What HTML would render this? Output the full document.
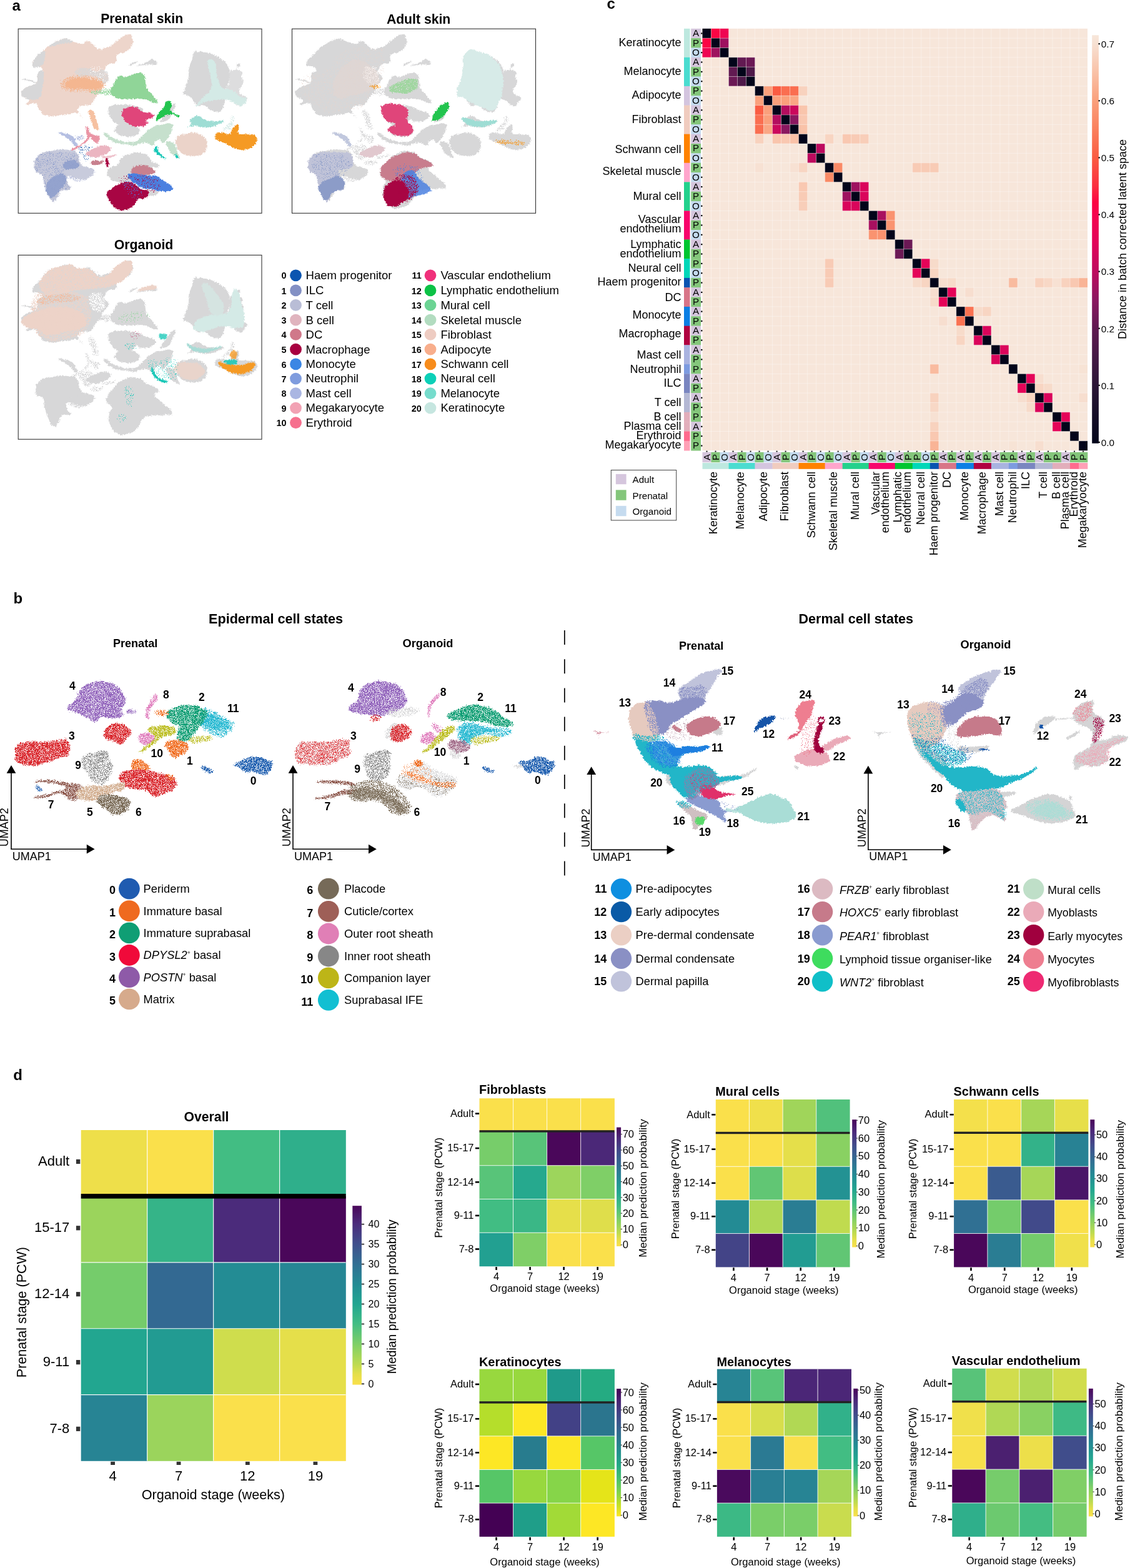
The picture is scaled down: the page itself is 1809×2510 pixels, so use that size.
<!DOCTYPE html>
<html lang="en"><head><meta charset="utf-8"><title>Figure</title>
<style>html,body{margin:0;padding:0;background:#fff}body{width:1809px;height:2510px;overflow:hidden}svg{display:block}text{font-family:"Liberation Sans",Arial,Helvetica,sans-serif;fill:#000}</style>
</head><body>
<svg width="1809" height="2510" viewBox="0 0 1809 2510">
<rect width="1809" height="2510" fill="#fff"/>
<g id="pa">
<defs><filter id="rg" x="-5%" y="-5%" width="110%" height="110%" color-interpolation-filters="sRGB"><feTurbulence type="fractalNoise" baseFrequency="0.45" numOctaves="2" seed="3" result="n"/><feDisplacementMap in="SourceGraphic" in2="n" scale="5" xChannelSelector="R" yChannelSelector="G"/></filter></defs>
<g filter="url(#rg)">
<path d="M34.63 150.46C34.63 146.18 31.21 147.89 37.84 142.75C44.48 137.61 47.26 139.33 54.54 135.05C61.82 130.76 57.75 135.47 59.68 129.91C61.61 124.34 57.75 123.91 60.32 118.35C62.89 112.78 66.31 117.06 67.39 113.21C68.46 109.36 68.67 110.64 63.53 106.79C58.39 102.94 50.26 109.79 51.97 101.65C53.69 93.52 59.25 92.23 68.67 82.39C78.09 72.54 69.53 78.75 80.23 72.11C90.93 65.47 90.93 65.26 100.78 62.48C110.63 59.69 103.35 62.05 109.77 63.76C116.19 65.47 112.77 65.47 120.05 67.61C127.32 69.76 124.76 70.83 131.61 70.18C138.46 69.54 135.03 65.47 140.6 65.69C146.16 65.9 142.31 66.54 148.3 70.83C154.3 75.11 151.73 76.61 158.58 78.53C165.43 80.46 162 78.75 168.85 76.61C175.7 74.46 171.85 76.61 179.13 72.11C186.41 67.61 182.13 68.77 190.69 63.12C199.25 57.47 197.97 56.01 204.82 55.16C211.67 54.3 209.1 54.9 211.24 60.55C213.38 66.2 214.24 64.83 211.24 72.11C208.24 79.39 209.95 77.25 202.25 82.39C194.54 87.52 193.69 81.96 188.12 87.52C182.55 93.09 190.69 93.94 185.55 99.08C180.41 104.22 178.27 99.51 172.71 102.94C167.14 106.36 170.57 104.65 168.85 109.36C167.14 114.07 165.86 112.35 167.57 117.06C169.28 121.77 173.56 118.35 173.99 123.49C174.42 128.62 172.28 127.34 168.85 132.48C165.43 137.61 166.28 134.19 163.72 138.9C161.15 143.61 164.57 141.04 161.15 146.61C157.72 152.17 158.58 148.75 153.44 155.6C148.3 162.45 151.3 162.87 145.73 167.16C140.17 171.44 142.74 167.16 136.74 168.44C130.75 169.72 131.61 167.58 127.75 171.01C123.9 174.43 123.47 172.72 125.18 178.72C126.9 184.71 133.75 188.13 132.89 188.99C132.03 189.85 132.89 183 122.61 181.28C112.34 179.57 117.48 182.57 102.06 183.85C86.65 185.14 89.22 187.71 76.38 185.14C63.53 182.57 69.95 182.57 63.53 176.15C57.11 169.72 64.39 168.65 57.11 165.87C49.83 163.09 45.12 169.51 41.7 167.8C38.27 166.09 48.12 164.8 46.83 160.73C45.55 156.67 41.91 159.02 37.84 155.6C33.78 152.17 34.63 154.74 34.63 150.46Z" fill="#edd5cb"/>
<path d="M80.23 72.11C85.37 68.26 90.93 65.26 100.78 62.48C110.63 59.69 105.06 62.05 109.77 63.76C114.48 65.47 119.19 65.47 114.91 67.61C110.63 69.76 106.77 68.04 96.93 70.18C87.08 72.32 90.93 73.39 85.37 74.04C79.8 74.68 75.09 75.96 80.23 72.11Z" fill="#d7d7d8"/>
<path d="M51.97 101.65C53.69 93.52 62.25 84.95 68.67 82.39C75.09 79.82 72.95 85.81 71.24 93.94C69.53 102.08 69.95 104.22 63.53 106.79C57.11 109.36 50.26 109.79 51.97 101.65Z" fill="#d7d7d8"/>
<path d="M34.63 150.46C34.63 146.18 31.21 147.89 37.84 142.75C44.48 137.61 47.26 139.33 54.54 135.05C61.82 130.76 57.75 135.47 59.68 129.91C61.61 124.34 57.75 123.91 60.32 118.35C62.89 112.78 64.17 111.5 67.39 113.21C70.6 114.92 69.95 113.64 69.95 123.49C69.95 133.33 69.53 132.05 67.39 142.75C65.24 153.46 69.1 150.03 63.53 155.6C57.97 161.16 59.25 159.45 50.69 159.45C42.13 159.45 43.2 158.59 37.84 155.6C32.49 152.6 34.63 154.74 34.63 150.46Z" fill="#d7d7d8"/>
<path d="M122.61 111.93C128.18 108.07 130.32 108.5 140.6 109.36C150.87 110.21 144.88 113.64 153.44 114.5C162 115.35 159.43 108.93 166.28 111.93C173.13 114.92 173.13 116.64 173.99 123.49C174.85 130.34 173.13 130.34 168.85 132.48C164.57 134.62 167.14 133.33 161.15 129.91C155.15 126.48 159.86 124.77 150.87 122.2C141.88 119.63 143.17 122.63 134.17 122.2C125.18 121.77 127.75 124.34 123.9 120.92C120.05 117.49 117.05 115.78 122.61 111.93Z" fill="#d7d7d8" opacity="0.75"/>
</g>
<g filter="url(#sl)">
<path d="M122.61 111.93C128.18 108.07 130.32 108.5 140.6 109.36C150.87 110.21 144.88 113.64 153.44 114.5C162 115.35 159.43 108.93 166.28 111.93C173.13 114.92 173.13 116.64 173.99 123.49C174.85 130.34 173.13 130.34 168.85 132.48C164.57 134.62 167.14 133.33 161.15 129.91C155.15 126.48 159.86 124.77 150.87 122.2C141.88 119.63 143.17 122.63 134.17 122.2C125.18 121.77 127.75 124.34 123.9 120.92C120.05 117.49 117.05 115.78 122.61 111.93Z" fill="#edd5cb"/>
<path d="M144.45 109.36C148.73 105.93 148.73 105.93 156.01 106.79C163.29 107.65 162.22 106.36 166.28 111.93C170.35 117.49 168.85 116.21 168.21 123.49C167.57 130.76 169.28 129.69 164.36 133.76C159.43 137.83 159.65 137.4 153.44 135.69C147.23 133.98 149.16 134.83 145.73 128.62C142.31 122.42 143.59 123.49 143.17 117.06C142.74 110.64 140.17 112.78 144.45 109.36Z" fill="#fff"/>
</g>
<g filter="url(#rg)">
<path d="M104.63 135.05C105.49 130.34 106.35 130.76 114.91 127.34C123.47 123.91 119.62 124.77 130.32 124.77C141.02 124.77 137.17 125.2 147.02 127.34C156.87 129.48 154.3 128.2 159.86 131.19C165.43 134.19 163.72 132.91 163.72 136.33C163.72 139.76 165.43 139.33 159.86 141.47C154.3 143.61 157.72 142.75 147.02 142.75C136.31 142.75 139.31 141.9 127.75 141.47C116.19 141.04 120.05 143.61 112.34 141.47C104.63 139.33 103.78 139.76 104.63 135.05Z" fill="#f4b690"/>
</g>
<g filter="url(#sb)">
<path d="M96.93 137.61C96.93 130.76 96.93 130.34 107.2 124.77C117.48 119.2 113.2 121.35 127.75 120.92C142.31 120.49 138.46 120.49 150.87 123.49C163.29 126.48 159.86 124.34 165 129.91C170.14 135.47 170.14 134.62 166.28 140.18C162.43 145.75 166.28 144.46 153.44 146.61C140.6 148.75 143.17 147.03 127.75 146.61C112.34 146.18 117.48 148.32 107.2 145.32C96.93 142.32 96.93 144.46 96.93 137.61Z" fill="#f4b690"/>
</g>
<g filter="url(#rg)">
<path d="M141.88 178.72C143.17 175.29 144.45 174.01 148.3 177.43C152.16 180.86 150.87 182.14 153.44 188.99C156.01 195.84 154.51 192.42 156.01 197.98C157.51 203.55 158.79 202.69 157.94 205.69C157.08 208.69 156.65 208.69 153.44 206.97C150.23 205.26 151.3 206.97 148.3 200.55C145.31 194.13 146.59 194.98 144.45 187.71C142.31 180.43 140.6 182.14 141.88 178.72Z" fill="#f4b690" opacity="0.85"/>
<path d="M218.86 105.5C220.14 104.01 225.71 103.15 234.27 99.72C242.83 96.3 239.19 94.24 244.54 95.23C249.89 96.21 251.61 99.9 250.32 102.68C249.04 105.46 247.33 103.06 240.69 103.58C234.05 104.09 237.69 103.58 230.41 104.22C223.14 104.86 217.57 107 218.86 105.5Z" fill="#d7d7d8"/>
<path d="M207.39 103.58C209.95 101.65 213.81 99.72 217.66 98.44C221.51 97.16 221.51 97.8 218.94 99.72C216.38 101.65 213.81 102.94 209.95 104.22C206.1 105.5 204.82 105.5 207.39 103.58Z" fill="#d7d7d8"/>
<path d="M35.92 126.7C38.91 126.48 38.49 125.76 45.55 127.34C52.61 128.92 53.47 129.74 57.11 131.45C60.75 133.16 60.32 133.2 56.47 132.48C52.61 131.75 52.19 130.76 45.55 129.27C38.91 127.77 39.77 128.84 36.56 127.98C33.35 127.13 32.92 126.91 35.92 126.7Z" fill="#d7d7d8"/>
</g>
<g filter="url(#sb)">
<path d="M145.73 147.89C145.73 145.75 149.59 146.18 159.86 144.04C170.14 141.9 170.99 139.33 176.56 141.47C182.13 143.61 182.13 147.46 176.56 150.46C170.99 153.46 170.14 151.31 159.86 150.46C149.59 149.6 145.73 150.03 145.73 147.89Z" fill="#90d598"/>
</g>
<g filter="url(#rg)">
<path d="M176.56 146.61C176.13 141.04 177.42 143.61 180.41 137.61C183.41 131.62 181.7 134.1 185.55 128.62C189.4 123.14 186.83 122.97 191.97 121.17C197.11 119.38 194.97 123.66 200.96 123.23C206.96 122.8 203.53 121.94 209.95 119.89C216.38 117.83 214.24 117.66 220.23 117.06C226.22 116.46 224.08 115.95 227.94 118.09C231.79 120.23 230.08 118.69 231.79 123.49C233.5 128.28 231.79 126.06 233.07 132.48C234.36 138.9 232.22 136.33 235.64 142.75C239.07 149.17 237.83 145.32 243.35 151.74C248.87 158.17 250.71 157.52 252.21 162.02C253.71 166.51 253.37 165.87 247.84 165.23C242.32 164.59 243.99 162.45 235.64 160.09C227.29 157.74 233.07 158.59 222.8 158.17C212.52 157.74 215.09 158.81 204.82 158.81C194.54 158.81 199.68 159.66 191.97 158.17C184.27 156.67 186.83 158.17 181.7 154.31C176.56 150.46 176.99 152.17 176.56 146.61Z" fill="#90d598"/>
<path d="M173.39 176.15C173.39 169.27 172.48 172.2 178.9 169.27C185.32 166.33 182.57 167.61 192.66 167.34C202.75 167.06 199.08 166.88 209.17 168.44C219.27 170 216.51 168.53 222.94 172.02C229.36 175.5 230.28 172.02 228.44 178.9C226.61 185.78 225.69 185.32 217.43 192.66C209.17 200 212.84 198.62 203.67 200.92C194.5 203.21 198.17 203.21 189.91 199.54C181.65 195.87 184.4 197.71 178.9 189.91C173.39 182.11 173.39 183.03 173.39 176.15Z" fill="#d7d7d8"/>
<path d="M184.4 206.42C186.24 201.83 184.4 202.11 192.66 199.54C200.92 196.97 200 197.34 209.17 198.72C218.35 200.09 215.6 199.72 220.18 203.67C224.77 207.61 224.77 205.96 222.94 210.55C221.1 215.14 222.94 214.95 214.68 217.43C206.42 219.91 207.34 219.36 198.17 217.98C188.99 216.61 191.74 217.16 187.16 213.3C182.57 209.45 182.57 211.01 184.4 206.42Z" fill="#d7d7d8"/>
<path d="M195.96 178.9C197.8 173.21 196.51 175.14 203.67 172.84C210.83 170.55 209.17 170 217.43 172.02C225.69 174.04 220.18 175.69 228.44 178.9C236.7 182.11 236.7 178.9 242.2 181.65C247.71 184.4 247.71 183.49 244.95 187.16C242.2 190.83 236.7 188.99 233.94 192.66C231.19 196.33 241.28 194.95 236.7 198.17C232.11 201.38 230.28 202.29 220.18 202.29C210.09 202.29 213.76 202.29 206.42 198.17C199.08 194.04 201.65 196.33 198.17 189.91C194.68 183.49 194.13 184.59 195.96 178.9Z" fill="#e0457a"/>
<path d="M257.39 192.84C259.53 186.85 262.52 184.71 268.95 176.15C275.37 167.58 272.59 169.72 276.65 167.16C280.72 164.59 281.15 164.59 281.15 168.44C281.15 172.29 279.86 171.87 276.65 178.72C273.44 185.57 276.23 183.85 271.52 188.99C266.81 194.13 267.23 192.84 262.52 194.13C257.82 195.41 255.25 198.84 257.39 192.84Z" fill="#d7d7d8"/>
<path d="M249.68 193.49C249.68 190.06 249.68 187.92 253.53 181.28C257.39 174.65 256.74 180 261.24 173.58C265.74 167.16 262.52 164.16 267.02 162.02C271.52 159.88 272.8 162.45 274.73 167.16C276.65 171.87 271.3 171.44 272.8 176.15C274.3 180.86 274.73 178.29 279.22 181.28C283.72 184.28 284.36 183 286.29 185.14C288.21 187.28 288.21 188.35 285 187.71C281.79 187.06 282 184.5 276.65 183.21C271.3 181.93 274.51 182.35 268.95 183.85C263.38 185.35 265.09 185.14 259.96 187.71C254.82 190.28 256.96 189.63 253.53 191.56C250.11 193.49 249.68 196.91 249.68 193.49Z" fill="#22c44e"/>
<path d="M165.64 213.78C165.64 211.64 165.64 211.21 170.14 213.14C174.63 215.06 171.85 215.71 179.13 219.56C186.41 223.41 183.41 222.13 191.97 224.7C200.54 227.27 196.25 226.75 204.82 227.27C213.38 227.78 209.95 229.58 217.66 226.24C225.37 222.9 220.23 224.1 227.94 217.25C235.64 210.4 230.93 211.47 240.78 205.69C250.63 199.91 246.35 202.35 257.48 199.91C268.61 197.47 268.18 196.44 274.17 198.37C280.17 200.29 276.31 199.82 275.46 205.69C274.6 211.55 274.6 209.97 271.61 215.96C268.61 221.96 270.32 219.39 266.47 223.67C262.61 227.95 263.47 228.81 260.05 228.81C256.62 228.81 260.05 224.53 256.19 223.67C252.34 222.81 252.34 223.24 248.49 226.24C244.63 229.24 249.34 231.8 244.63 232.66C239.92 233.52 241.64 229.66 234.36 228.81C227.08 227.95 229.22 228.68 222.8 230.09C216.38 231.5 221.09 232.62 215.09 233.05C209.1 233.47 212.52 232.45 204.82 231.38C197.11 230.31 200.54 231.63 191.97 229.83C183.41 228.04 186.41 229.41 179.13 225.98C171.85 222.56 174.63 223.63 170.14 219.56C165.64 215.49 165.64 215.92 165.64 213.78Z" fill="#c6e0cd"/>
<path d="M266.34 228.55C268.05 224.7 270.19 225.13 275.33 227.27C280.47 229.41 278.76 229.41 281.75 234.97C284.75 240.54 282.61 237.97 284.32 243.96C286.03 249.96 287.75 250.81 286.89 252.95C286.03 255.09 285.61 252.53 281.75 250.39C277.9 248.24 279.18 250.39 275.33 246.53C271.48 242.68 273.19 244.82 270.19 238.83C267.2 232.83 264.63 232.4 266.34 228.55Z" fill="#c6e0cd"/>
<path d="M246.47 239.46C246.9 236.03 248.61 233.68 250.97 234.32C253.32 234.96 250.97 236.89 253.53 241.38C256.1 245.88 254.82 243.95 258.67 247.8C262.52 251.66 263.38 250.8 265.09 252.94C266.81 255.08 266.81 255.3 263.81 254.23C260.81 253.16 260.81 252.94 256.1 249.73C251.39 246.52 252.89 248.02 249.68 244.59C246.47 241.17 246.04 242.88 246.47 239.46Z" fill="#1cc8b8"/>
<path d="M279.86 248.45C280.51 246.95 281.36 245.45 283.08 246.52C284.79 247.59 283.29 249.09 285 251.66C286.71 254.23 288.43 253.58 288.21 254.23C288 254.87 286.71 254.65 284.36 253.58C282 252.51 282.65 252.73 281.15 251.01C279.65 249.3 279.22 249.94 279.86 248.45Z" fill="#1cc8b8"/>
<path d="M281.79 223.4C283.29 218.26 281.79 219.97 286.93 216.98C292.07 213.98 289.5 215.91 297.2 214.41C304.91 212.91 302.34 212.05 310.05 212.48C317.75 212.91 314.33 212.91 320.32 215.69C326.32 218.48 324.39 216.55 328.03 220.83C331.67 225.11 330.6 222.54 331.24 228.54C331.88 234.53 331.88 233.25 329.96 238.81C328.03 244.38 329.53 241.81 325.46 245.23C321.39 248.66 324.6 247.59 317.75 249.09C310.9 250.59 312.62 250.37 304.91 249.73C297.2 249.09 300.63 249.94 294.63 247.16C288.64 244.38 291 246.31 286.93 241.38C282.86 236.46 284.15 238.38 282.43 232.39C280.72 226.4 280.29 228.54 281.79 223.4Z" fill="#ebd3c9"/>
<path d="M367.85 115.78C370.41 109.14 369.56 113.85 374.27 112.57C378.98 111.28 377.48 110.43 381.97 111.93C386.47 113.43 386.04 113.21 387.75 117.06C389.47 120.92 386.47 119.2 387.11 123.49C387.75 127.77 389.68 125.2 389.68 129.91C389.68 134.62 389.25 132.91 387.11 137.61C384.97 142.32 383.69 139.76 383.26 144.04C382.83 148.32 381.55 146.18 385.83 150.46C390.11 154.74 393.96 153.03 396.1 156.88C398.24 160.73 394.82 158.17 392.25 162.02C389.68 165.87 392.25 166.3 388.4 168.44C384.54 170.58 385.4 170.15 380.69 168.44C375.98 166.73 378.55 166.3 374.27 163.3C369.99 160.31 371.7 162.02 367.85 159.45C363.99 156.88 364.85 161.16 362.71 155.6C360.57 150.03 360.14 150.46 361.42 142.75C362.71 135.05 364.42 141.47 366.56 132.48C368.7 123.49 365.28 122.42 367.85 115.78Z" fill="#d7d7d8" opacity="0.85"/>
<path d="M310.05 84.31C313.47 80.12 310.9 82.64 317.75 82.64C324.6 82.64 322.04 82.34 330.6 84.31C339.16 86.28 335.74 85.34 343.44 88.55C351.15 91.76 347.3 89.36 353.72 93.94C360.14 98.53 358.34 96.3 362.71 102.29C367.08 108.29 365.19 104.86 366.82 111.93C368.45 118.99 368.1 116.21 367.59 123.49C367.08 130.76 367.33 127.77 365.28 133.76C363.22 139.76 363.56 136.33 361.42 141.47C359.28 146.61 359.28 143.61 358.86 149.17C358.43 154.74 360.35 151.74 360.14 158.17C359.93 164.59 359.93 162.45 358.21 168.44C356.5 174.43 358.21 172.51 355 176.15C351.79 179.79 353.29 178.93 348.58 179.36C343.87 179.79 346.01 179.57 340.87 177.43C335.74 175.29 338.3 175.93 333.17 172.94C328.03 169.94 330.6 169.51 325.46 168.44C320.32 167.37 321.61 170.15 317.75 169.72C313.9 169.3 316.47 169.72 313.9 167.16C311.33 164.59 313.04 165.87 310.05 162.02C307.05 158.17 309.19 159.02 304.91 155.6C300.63 152.17 301.06 153.88 297.2 151.74C293.35 149.6 293.35 153.46 293.35 149.17C293.35 144.89 294.63 146.18 297.2 138.9C299.77 131.62 299.34 134.62 301.06 127.34C302.77 120.06 301.49 124.34 302.34 117.06C303.2 109.79 301.91 112.78 303.63 105.5C305.34 98.23 305.34 102.29 307.48 95.23C309.62 88.17 306.62 88.51 310.05 84.31Z" fill="#d7d7d8"/>
<path d="M379.41 102.94C380.6 101.57 381.63 101.18 383.26 102.04C384.89 102.89 384.93 103.49 384.29 105.5C383.64 107.52 382.87 107.86 381.33 108.07C379.79 108.29 380.3 107.86 379.66 106.15C379.02 104.43 378.21 104.31 379.41 102.94Z" fill="#d7d7d8"/>
<path d="M334.45 95.23C338.3 93.94 340.87 94.8 344.73 100.37C348.58 105.93 344.3 102.08 346.01 111.93C347.72 121.77 346.44 120.49 349.86 129.91C353.29 139.33 350.72 135.9 356.29 140.18C361.85 144.46 359.71 140.18 366.56 142.75C373.41 145.32 370.41 143.61 376.84 147.89C383.26 152.17 379.83 152.17 385.83 155.6C391.82 159.02 393.96 153.88 394.82 158.17C395.67 162.45 393.53 165.44 388.4 168.44C383.26 171.44 385.83 169.3 379.41 167.16C372.98 165.02 375.55 164.59 369.13 162.02C362.71 159.45 368.7 159.88 360.14 159.45C351.58 159.02 354.15 159.45 343.44 160.73C332.74 162.02 337.02 160.31 328.03 163.3C319.04 166.3 320.75 168.44 316.47 169.72C312.19 171.01 312.19 171.87 315.19 167.16C318.18 162.45 318.18 163.73 325.46 155.6C332.74 147.46 332.74 151.31 337.02 142.75C341.3 134.19 338.73 138.47 338.3 129.91C337.88 121.35 337.45 125.63 335.74 117.06C334.02 108.5 333.6 111.5 333.17 104.22C332.74 96.94 330.6 96.51 334.45 95.23Z" fill="#d4eae6"/>
</g>
<g filter="url(#sb)">
<path d="M356.29 206.7C357.14 203.28 361.85 204.13 366.56 197.71C371.27 191.29 367.85 190.86 370.41 187.44C372.98 184.01 373.41 183.58 374.27 187.44C375.12 191.29 376.41 192.15 372.98 199C369.56 205.85 369.56 205.42 363.99 207.99C358.43 210.56 355.43 210.13 356.29 206.7Z" fill="#d4eae6"/>
</g>
<g filter="url(#rg)">
<path d="M300.41 203.23C301.06 201.74 305.77 201.05 306.84 197.71C307.91 194.37 302.56 196.43 303.63 193.22C304.7 190.01 305.34 190.65 310.05 188.08C314.76 185.51 312.62 184.87 317.75 185.51C322.89 186.15 319.47 187.22 325.46 190.01C331.45 192.79 328.03 192.49 335.74 193.86C343.44 195.23 340.96 194.24 348.58 194.12C356.2 193.99 358.17 191.85 358.6 193.47C359.03 195.1 356.63 195.87 349.86 199C343.1 202.12 346.44 201.35 338.3 202.85C330.17 204.35 334.02 204.01 325.46 203.49C316.9 202.98 319.47 201.74 312.62 201.31C305.77 200.88 308.98 201.57 304.91 202.21C300.84 202.85 299.77 204.73 300.41 203.23Z" fill="#9eddd4"/>
<path d="M344.73 219.55C344.3 215.69 343.44 215.48 347.3 213.12C351.15 210.77 349.86 212.05 356.29 212.48C362.71 212.91 361 216.76 366.56 214.41C372.13 212.05 368.49 210.56 372.98 205.42C377.48 200.28 376.84 199.42 380.05 199C383.26 198.57 381.97 199.42 382.62 204.13C383.26 208.84 377.91 209.49 381.97 213.12C386.04 216.76 386.68 213.98 394.82 215.05C402.95 216.12 401.03 213.98 406.38 216.34C411.73 218.69 409.59 218.05 410.87 222.12C412.16 226.18 412.59 224.26 410.23 228.54C407.88 232.82 409.8 231.32 403.81 234.96C397.82 238.6 399.96 238.17 392.25 239.46C384.54 240.74 388.4 240.53 380.69 238.81C372.98 237.1 376.41 237.74 369.13 234.32C361.85 230.89 365.71 231.75 358.86 228.54C352 225.33 353.29 227.68 348.58 224.68C343.87 221.69 345.15 223.4 344.73 219.55Z" fill="#f59a24"/>
</g>
<g filter="url(#sb)">
<path d="M107.2 273.49C110.2 269.21 110.63 271.78 117.48 269.64C124.33 267.5 120.05 267.5 127.75 267.07C135.46 266.64 133.1 266.64 140.6 268.35C148.09 270.07 148.09 268.35 150.23 272.21C152.37 276.06 151.09 275.2 147.02 279.91C142.95 284.62 145.31 282.91 138.03 286.34C130.75 289.76 132.89 289.76 125.18 290.19C117.48 290.62 120.47 290.19 114.91 287.62C109.34 285.05 111.06 287.19 108.49 282.48C105.92 277.77 104.2 277.77 107.2 273.49Z" fill="#b8bedb"/>
</g>
<g filter="url(#rg)">
<path d="M57.8 262.02C59.17 254.68 55.05 255.14 63.3 248.26C71.56 241.38 66.97 244.13 82.57 241.38C98.17 238.63 96.33 238.63 110.09 240C123.85 241.38 117.43 238.17 123.85 245.51C130.28 252.85 122.94 254.22 129.36 262.02C135.78 269.82 136.24 265.23 143.12 268.9C150 272.57 150 267.98 150 273.03C150 278.08 150.92 279.45 143.12 284.04C135.32 288.63 137.61 287.71 126.61 286.79C115.6 285.87 116.51 279.45 110.09 281.29C103.67 283.12 106.42 285.87 107.34 292.3C108.26 298.72 115.6 296.88 112.84 300.55C110.09 304.22 105.5 298.72 99.08 303.3C92.66 307.89 98.17 308.81 93.58 314.31C88.99 319.82 90.83 322.57 85.32 319.82C79.82 317.07 81.65 316.15 77.06 306.06C72.48 295.97 74.31 299.63 71.56 289.54C68.81 279.45 72.94 282.2 68.81 275.78C64.68 269.36 62.84 274.86 59.17 270.28C55.5 265.69 56.42 269.36 57.8 262.02Z" fill="#c8cbdc"/>
<path d="M55.18 260.65C55.61 253.8 53.47 258.08 58.39 252.94C63.32 247.8 59.68 248.45 69.95 245.23C80.23 242.02 76.38 243.74 89.22 243.31C102.06 242.88 97.35 242.88 108.49 243.95C119.62 245.02 116.62 242.24 122.61 246.52C128.61 250.8 125.61 249.94 126.47 256.79C127.32 263.64 129.04 262.36 125.18 267.07C121.33 271.78 121.76 269.21 114.91 270.92C108.06 272.64 107.63 268.35 104.63 272.21C101.64 276.06 104.63 275.63 105.92 282.48C107.2 289.33 106.35 286.34 108.49 292.76C110.63 299.18 112.77 297.9 112.34 301.75C111.91 305.6 112.34 303.03 107.2 304.32C102.06 305.6 102.06 303.03 96.93 305.6C91.79 308.17 95.21 306.46 91.79 312.02C88.36 317.59 89.65 319.3 86.65 322.3C83.65 325.3 86.22 324.44 82.8 321.01C79.37 317.59 79.8 318.45 76.38 312.02C72.95 305.6 74.66 309.03 72.52 301.75C70.38 294.47 71.67 297.47 69.95 290.19C68.24 282.91 71.67 285.48 67.39 279.91C63.1 274.35 61.18 279.91 57.11 273.49C53.04 267.07 54.76 267.5 55.18 260.65Z" fill="#c3c6d9"/>
<path d="M102.06 261.93C105.06 257.65 105.06 257.65 112.34 256.79C119.62 255.94 119.62 255.94 123.9 259.36C128.18 262.79 128.18 263.43 125.18 267.07C122.19 270.71 122.19 269.42 114.91 270.28C107.63 271.14 107.63 272.42 103.35 269.64C99.07 266.86 99.07 266.21 102.06 261.93Z" fill="#8f9ecc" opacity="0.9"/>
<path d="M73.81 300.46C74.66 293.19 72.95 295.75 78.94 288.9C84.94 282.05 84.08 282.91 91.79 279.91C99.5 276.92 97.35 276.49 102.06 279.91C106.77 283.34 107.63 282.48 105.92 290.19C104.2 297.9 102.49 295.75 96.93 303.03C91.36 310.31 93.93 307.74 89.22 312.02C84.51 316.31 87.08 316.31 82.8 315.88C78.52 315.45 79.37 315.88 76.38 310.74C73.38 305.6 72.95 307.74 73.81 300.46Z" fill="#8f9ecc" opacity="0.9"/>
</g>
<g filter="url(#sl)">
<path d="M73.81 300.46C74.66 293.19 72.95 295.75 78.94 288.9C84.94 282.05 84.08 282.91 91.79 279.91C99.5 276.92 97.35 276.49 102.06 279.91C106.77 283.34 107.63 282.48 105.92 290.19C104.2 297.9 102.49 295.75 96.93 303.03C91.36 310.31 93.93 307.74 89.22 312.02C84.51 316.31 87.08 316.31 82.8 315.88C78.52 315.45 79.37 315.88 76.38 310.74C73.38 305.6 72.95 307.74 73.81 300.46Z" fill="#c3c6d9"/>
<path d="M55.18 260.65C55.61 253.8 53.47 258.08 58.39 252.94C63.32 247.8 59.68 248.45 69.95 245.23C80.23 242.02 76.38 243.74 89.22 243.31C102.06 242.88 97.35 242.88 108.49 243.95C119.62 245.02 116.62 242.24 122.61 246.52C128.61 250.8 125.61 249.94 126.47 256.79C127.32 263.64 129.04 262.36 125.18 267.07C121.33 271.78 121.76 269.21 114.91 270.92C108.06 272.64 107.63 268.35 104.63 272.21C101.64 276.06 104.63 275.63 105.92 282.48C107.2 289.33 106.35 286.34 108.49 292.76C110.63 299.18 112.77 297.9 112.34 301.75C111.91 305.6 112.34 303.03 107.2 304.32C102.06 305.6 102.06 303.03 96.93 305.6C91.79 308.17 95.21 306.46 91.79 312.02C88.36 317.59 89.65 319.3 86.65 322.3C83.65 325.3 86.22 324.44 82.8 321.01C79.37 317.59 79.8 318.45 76.38 312.02C72.95 305.6 74.66 309.03 72.52 301.75C70.38 294.47 71.67 297.47 69.95 290.19C68.24 282.91 71.67 285.48 67.39 279.91C63.1 274.35 61.18 279.91 57.11 273.49C53.04 267.07 54.76 267.5 55.18 260.65Z" fill="#8f9ecc"/>
</g>
<g filter="url(#rg)">
<path d="M94.36 212.48C96.07 211.84 95.21 211.41 102.06 213.12C108.91 214.84 108.91 214.2 114.91 217.62C120.9 221.05 117.05 218.48 120.05 223.4C123.04 228.32 123.9 228.97 123.9 232.39C123.9 235.82 123.47 235.82 120.05 233.68C116.62 231.53 118.76 230.68 113.62 225.97C108.49 221.26 110.2 223.19 104.63 219.55C99.07 215.91 100.35 217.41 96.93 215.05C93.5 212.7 92.65 213.12 94.36 212.48Z" fill="#b5bfe2"/>
</g>
<g filter="url(#sb)">
<path d="M121.33 218.9C122.19 216.55 123.47 216.76 127.75 216.98C132.03 217.19 132.46 217.41 134.17 219.55C135.89 221.69 135.89 221.9 132.89 223.4C129.89 224.9 129.04 225.54 125.18 224.04C121.33 222.54 120.47 221.26 121.33 218.9Z" fill="#b5bfe2"/>
</g>
<g filter="url(#rg)">
<path d="M138.03 202.85C139.31 201.57 139.74 203.28 141.88 206.7C144.02 210.13 140.6 209.7 144.45 213.12C148.3 216.55 148.73 215.27 153.44 216.98C158.15 218.69 156.87 215.27 158.58 218.26C160.29 221.26 160.29 222.54 158.58 225.97C156.87 229.39 156.87 228.97 153.44 228.54C150.02 228.11 151.3 227.68 148.3 224.68C145.31 221.69 147.02 219.55 144.45 219.55C141.88 219.55 144.02 221.26 140.6 224.68C137.17 228.11 139.31 225.97 134.17 229.82C129.04 233.68 130.75 232.82 125.18 236.24C119.62 239.67 120.47 239.46 117.48 240.1C114.48 240.74 113.2 240.74 116.19 238.17C119.19 235.6 120.05 236.46 126.47 232.39C132.89 228.32 131.18 230.25 135.46 225.97C139.74 221.69 138.46 224.68 139.31 219.55C140.17 214.41 138.46 216.12 138.03 210.56C137.6 204.99 136.74 204.13 138.03 202.85Z" fill="#e88a9b" opacity="0.9"/>
</g>
<g filter="url(#sl)">
<path d="M126.47 234.96C128.18 229.82 128.61 232.82 135.46 232.39C142.31 231.96 142.74 229.82 147.02 233.68C151.3 237.53 149.16 237.1 148.3 243.95C147.45 250.8 148.3 250.37 144.45 254.23C140.6 258.08 141.45 257.65 136.74 255.51C132.03 253.37 133.75 254.65 130.32 247.8C126.9 240.95 124.76 240.1 126.47 234.96Z" fill="#1554a8"/>
</g>
<g filter="url(#rg)">
<path d="M138.03 245.23C138.88 241.81 139.74 243.52 145.73 240.1C151.73 236.67 149.16 237.31 156.01 234.96C162.86 232.6 159.86 233.03 166.28 233.03C172.71 233.03 171.85 232.6 175.28 234.96C178.7 237.31 177.84 236.67 176.56 240.1C175.28 243.52 175.7 242.24 171.42 245.23C167.14 248.23 169.71 246.95 163.72 249.09C157.72 251.23 160.29 251.23 153.44 251.66C146.59 252.09 148.3 252.51 143.17 250.37C138.03 248.23 137.17 248.66 138.03 245.23Z" fill="#ebb5c1"/>
<path d="M163.72 250.37C167.57 249.09 169.28 250.37 176.56 249.09C183.84 247.8 183.41 246.09 185.55 246.52C187.69 246.95 187.26 248.23 182.98 250.37C178.7 252.51 178.7 252.09 172.71 252.94C166.71 253.8 168 253.8 165 252.94C162 252.09 159.86 251.66 163.72 250.37Z" fill="#ebb5c1" opacity="0.8"/>
<path d="M145.73 259.36C147.45 257.01 148.3 257.22 153.44 256.79C158.58 256.37 157.72 258.51 161.15 258.08C164.57 257.65 162.43 254.87 163.72 255.51C165 256.15 167.14 257.44 165 260.01C162.86 262.57 162.86 261.93 157.29 263.22C151.73 264.5 152.16 265.14 148.3 263.86C144.45 262.57 144.02 261.72 145.73 259.36Z" fill="#c8808e"/>
<path d="M168.85 255.51C169.92 253.16 170.99 251.87 172.71 254.87C174.42 257.86 174.42 260.43 173.99 264.5C173.56 268.57 172.92 267.93 171.42 267.07C169.92 266.21 170.35 265.79 169.5 261.93C168.64 258.08 167.78 257.86 168.85 255.51Z" fill="#a80543"/>
<path d="M171.42 277.36C171.85 272.13 170.99 273.08 176.56 268.37C182.13 263.66 181.7 268.8 188.12 263.23C194.54 257.66 189.4 257.24 195.83 251.67C202.25 246.1 199.25 248.89 207.39 246.53C215.52 244.18 212.52 244.61 220.23 244.61C227.94 244.61 224.51 244.52 230.5 246.53C236.5 248.54 233.93 246.7 238.21 250.64C242.49 254.58 238.21 254.07 243.35 258.35C248.49 262.63 250.63 260.28 253.62 263.49C256.62 266.7 255.76 266.27 252.34 267.98C248.91 269.69 244.63 266.27 243.35 268.62C242.06 270.98 248.49 272.05 248.49 275.05C248.49 278.04 249.34 274.62 243.35 277.61C237.35 280.61 243.35 279.76 230.5 284.04C217.66 288.32 219.8 288.32 204.82 290.46C189.83 292.6 195.4 292.6 185.55 290.46C175.7 288.32 179.98 288.4 175.28 284.04C170.57 279.67 170.99 282.58 171.42 277.36Z" fill="#d7d7d8"/>
<path d="M233.07 304.59C237.78 302.87 243.35 304.16 249.77 305.87C256.19 307.58 254.48 307.16 252.34 309.72C250.2 312.29 248.91 313.15 243.35 313.58C237.78 314.01 239.07 314.01 235.64 311.01C232.22 308.01 228.36 306.3 233.07 304.59Z" fill="#d7d7d8"/>
<path d="M209.95 272.22C211.24 268.71 209.95 269.65 215.09 267.08C220.23 264.51 218.52 265.07 225.37 264.51C232.22 263.96 229.65 263.61 235.64 265.41C241.64 267.21 239.07 267.34 243.35 269.91C247.63 272.48 246.35 272.26 248.49 273.12C250.63 273.98 249.77 271.83 249.77 272.48C249.77 273.12 251.48 272.91 248.49 275.05C245.49 277.19 247.63 277.19 240.78 278.9C233.93 280.61 235.64 279.33 227.94 280.18C220.23 281.04 223.23 282.32 217.66 281.47C212.09 280.61 213.81 280.7 211.24 277.61C208.67 274.53 208.67 275.73 209.95 272.22Z" fill="#c8808e"/>
<path d="M204.82 281.47C205.67 277.61 206.53 278.47 212.52 277.61C218.52 276.76 215.95 278.04 222.8 278.9C229.65 279.76 226.22 279.33 233.07 280.18C239.92 281.04 237.35 281.04 243.35 281.47C249.34 281.9 245.49 279.33 251.06 281.47C256.62 283.61 254.05 283.82 260.05 287.89C266.04 291.96 263.9 289.82 269.04 293.67C274.17 297.52 272.98 296.45 275.46 299.45C277.94 302.45 278.63 300.52 276.49 302.66C274.35 304.8 275.8 304.8 269.04 305.87C262.27 306.94 264.76 306.73 256.19 305.87C247.63 305.02 251.06 304.59 243.35 303.3C235.64 302.02 239.07 303.3 233.07 302.02C227.08 300.73 230.5 302.02 225.37 299.45C220.23 296.88 222.8 297.74 217.66 294.31C212.52 290.89 214.24 293.46 209.95 289.17C205.67 284.89 203.96 285.32 204.82 281.47Z" fill="#4a80e0"/>
<path d="M171.42 309.47C173.13 303.9 173.13 306.47 179.13 301.76C185.12 297.05 181.7 298.76 189.4 295.34C197.11 291.91 194.54 292.34 202.25 291.49C209.95 290.63 206.53 290.54 212.52 292.77C218.52 295 215.09 294.65 220.23 298.17C225.37 301.68 222.37 300.73 227.94 303.3C233.5 305.87 233.93 302.87 236.93 305.87C239.92 308.87 239.07 308.44 236.93 312.29C234.79 316.15 236.07 315.29 230.5 317.43C224.94 319.57 224.51 316.66 220.23 318.72C215.95 320.77 220.66 319.4 217.66 323.6C214.66 327.79 217.66 327.02 211.24 331.3C204.82 335.58 206.53 335.58 198.39 336.44C190.26 337.3 193.26 336.87 186.83 333.87C180.41 330.87 183.41 332.59 179.13 327.45C174.85 322.31 176.56 324.45 173.99 318.46C171.42 312.46 169.71 315.03 171.42 309.47Z" fill="#a80543"/>
</g>
<g filter="url(#sl)">
<path d="M191.97 284.04C198.39 279.76 200.54 281.47 217.66 281.47C234.79 281.47 230.5 278.9 243.35 284.04C256.19 289.17 256.19 289.17 256.19 296.88C256.19 304.59 256.19 307.16 243.35 307.16C230.5 307.16 232.65 301.16 217.66 296.88C202.68 292.6 206.96 298.59 198.39 294.31C189.83 290.03 185.55 288.32 191.97 284.04Z" fill="#a80543"/>
<path d="M198.39 290.46C202.68 284.46 206.96 287.89 217.66 291.74C228.36 295.6 228.36 293.88 230.5 302.02C232.65 310.15 232.65 313.58 224.08 316.15C215.52 318.72 213.38 318.29 204.82 309.72C196.25 301.16 194.11 296.45 198.39 290.46Z" fill="#4a80e0"/>
</g>
<g transform="translate(438.3 0)">
<g filter="url(#rg)">
<path d="M34.63 150.46C34.63 146.18 31.21 147.89 37.84 142.75C44.48 137.61 47.26 139.33 54.54 135.05C61.82 130.76 57.75 135.47 59.68 129.91C61.61 124.34 57.75 123.91 60.32 118.35C62.89 112.78 66.31 117.06 67.39 113.21C68.46 109.36 68.67 110.64 63.53 106.79C58.39 102.94 50.26 109.79 51.97 101.65C53.69 93.52 59.25 92.23 68.67 82.39C78.09 72.54 69.53 78.75 80.23 72.11C90.93 65.47 90.93 65.26 100.78 62.48C110.63 59.69 103.35 62.05 109.77 63.76C116.19 65.47 112.77 65.47 120.05 67.61C127.32 69.76 124.76 70.83 131.61 70.18C138.46 69.54 135.03 65.47 140.6 65.69C146.16 65.9 142.31 66.54 148.3 70.83C154.3 75.11 151.73 76.61 158.58 78.53C165.43 80.46 162 78.75 168.85 76.61C175.7 74.46 171.85 76.61 179.13 72.11C186.41 67.61 182.13 68.77 190.69 63.12C199.25 57.47 197.97 56.01 204.82 55.16C211.67 54.3 209.1 54.9 211.24 60.55C213.38 66.2 214.24 64.83 211.24 72.11C208.24 79.39 209.95 77.25 202.25 82.39C194.54 87.52 193.69 81.96 188.12 87.52C182.55 93.09 190.69 93.94 185.55 99.08C180.41 104.22 178.27 99.51 172.71 102.94C167.14 106.36 170.57 104.65 168.85 109.36C167.14 114.07 165.86 112.35 167.57 117.06C169.28 121.77 173.56 118.35 173.99 123.49C174.42 128.62 172.28 127.34 168.85 132.48C165.43 137.61 166.28 134.19 163.72 138.9C161.15 143.61 164.57 141.04 161.15 146.61C157.72 152.17 158.58 148.75 153.44 155.6C148.3 162.45 151.3 162.87 145.73 167.16C140.17 171.44 142.74 167.16 136.74 168.44C130.75 169.72 131.61 167.58 127.75 171.01C123.9 174.43 123.47 172.72 125.18 178.72C126.9 184.71 133.75 188.13 132.89 188.99C132.03 189.85 132.89 183 122.61 181.28C112.34 179.57 117.48 182.57 102.06 183.85C86.65 185.14 89.22 187.71 76.38 185.14C63.53 182.57 69.95 182.57 63.53 176.15C57.11 169.72 64.39 168.65 57.11 165.87C49.83 163.09 45.12 169.51 41.7 167.8C38.27 166.09 48.12 164.8 46.83 160.73C45.55 156.67 41.91 159.02 37.84 155.6C33.78 152.17 34.63 154.74 34.63 150.46Z" fill="#d7d7d8"/>
<path d="M218.86 105.5C220.14 104.01 225.71 103.15 234.27 99.72C242.83 96.3 239.19 94.24 244.54 95.23C249.89 96.21 251.61 99.9 250.32 102.68C249.04 105.46 247.33 103.06 240.69 103.58C234.05 104.09 237.69 103.58 230.41 104.22C223.14 104.86 217.57 107 218.86 105.5Z" fill="#d7d7d8"/>
<path d="M207.39 103.58C209.95 101.65 213.81 99.72 217.66 98.44C221.51 97.16 221.51 97.8 218.94 99.72C216.38 101.65 213.81 102.94 209.95 104.22C206.1 105.5 204.82 105.5 207.39 103.58Z" fill="#d7d7d8"/>
<path d="M35.92 126.7C38.91 126.48 38.49 125.76 45.55 127.34C52.61 128.92 53.47 129.74 57.11 131.45C60.75 133.16 60.32 133.2 56.47 132.48C52.61 131.75 52.19 130.76 45.55 129.27C38.91 127.77 39.77 128.84 36.56 127.98C33.35 127.13 32.92 126.91 35.92 126.7Z" fill="#d7d7d8"/>
<path d="M176.56 146.61C176.13 141.04 177.42 143.61 180.41 137.61C183.41 131.62 181.7 134.1 185.55 128.62C189.4 123.14 186.83 122.97 191.97 121.17C197.11 119.38 194.97 123.66 200.96 123.23C206.96 122.8 203.53 121.94 209.95 119.89C216.38 117.83 214.24 117.66 220.23 117.06C226.22 116.46 224.08 115.95 227.94 118.09C231.79 120.23 230.08 118.69 231.79 123.49C233.5 128.28 231.79 126.06 233.07 132.48C234.36 138.9 232.22 136.33 235.64 142.75C239.07 149.17 237.83 145.32 243.35 151.74C248.87 158.17 250.71 157.52 252.21 162.02C253.71 166.51 253.37 165.87 247.84 165.23C242.32 164.59 243.99 162.45 235.64 160.09C227.29 157.74 233.07 158.59 222.8 158.17C212.52 157.74 215.09 158.81 204.82 158.81C194.54 158.81 199.68 159.66 191.97 158.17C184.27 156.67 186.83 158.17 181.7 154.31C176.56 150.46 176.99 152.17 176.56 146.61Z" fill="#d7d7d8"/>
<path d="M173.39 176.15C173.39 169.27 172.48 172.2 178.9 169.27C185.32 166.33 182.57 167.61 192.66 167.34C202.75 167.06 199.08 166.88 209.17 168.44C219.27 170 216.51 168.53 222.94 172.02C229.36 175.5 230.28 172.02 228.44 178.9C226.61 185.78 225.69 185.32 217.43 192.66C209.17 200 212.84 198.62 203.67 200.92C194.5 203.21 198.17 203.21 189.91 199.54C181.65 195.87 184.4 197.71 178.9 189.91C173.39 182.11 173.39 183.03 173.39 176.15Z" fill="#d7d7d8"/>
<path d="M184.4 206.42C186.24 201.83 184.4 202.11 192.66 199.54C200.92 196.97 200 197.34 209.17 198.72C218.35 200.09 215.6 199.72 220.18 203.67C224.77 207.61 224.77 205.96 222.94 210.55C221.1 215.14 222.94 214.95 214.68 217.43C206.42 219.91 207.34 219.36 198.17 217.98C188.99 216.61 191.74 217.16 187.16 213.3C182.57 209.45 182.57 211.01 184.4 206.42Z" fill="#d7d7d8"/>
<path d="M222.94 176.7C228.44 172.57 228.44 176.24 236.7 178.08C244.95 179.91 244.95 178.08 247.71 182.2C250.46 186.33 250.46 186.33 244.95 190.46C239.45 194.59 239.45 194.59 231.19 194.59C222.94 194.59 222.94 196.42 220.18 190.46C217.43 184.5 217.43 180.83 222.94 176.7Z" fill="#d7d7d8"/>
<path d="M257.39 192.84C259.53 186.85 262.52 184.71 268.95 176.15C275.37 167.58 272.59 169.72 276.65 167.16C280.72 164.59 281.15 164.59 281.15 168.44C281.15 172.29 279.86 171.87 276.65 178.72C273.44 185.57 276.23 183.85 271.52 188.99C266.81 194.13 267.23 192.84 262.52 194.13C257.82 195.41 255.25 198.84 257.39 192.84Z" fill="#d7d7d8"/>
<path d="M165.64 213.78C165.64 211.64 165.64 211.21 170.14 213.14C174.63 215.06 171.85 215.71 179.13 219.56C186.41 223.41 183.41 222.13 191.97 224.7C200.54 227.27 196.25 226.75 204.82 227.27C213.38 227.78 209.95 229.58 217.66 226.24C225.37 222.9 220.23 224.1 227.94 217.25C235.64 210.4 230.93 211.47 240.78 205.69C250.63 199.91 246.35 202.35 257.48 199.91C268.61 197.47 268.18 196.44 274.17 198.37C280.17 200.29 276.31 199.82 275.46 205.69C274.6 211.55 274.6 209.97 271.61 215.96C268.61 221.96 270.32 219.39 266.47 223.67C262.61 227.95 263.47 228.81 260.05 228.81C256.62 228.81 260.05 224.53 256.19 223.67C252.34 222.81 252.34 223.24 248.49 226.24C244.63 229.24 249.34 231.8 244.63 232.66C239.92 233.52 241.64 229.66 234.36 228.81C227.08 227.95 229.22 228.68 222.8 230.09C216.38 231.5 221.09 232.62 215.09 233.05C209.1 233.47 212.52 232.45 204.82 231.38C197.11 230.31 200.54 231.63 191.97 229.83C183.41 228.04 186.41 229.41 179.13 225.98C171.85 222.56 174.63 223.63 170.14 219.56C165.64 215.49 165.64 215.92 165.64 213.78Z" fill="#d7d7d8"/>
<path d="M266.34 228.55C268.05 224.7 270.19 225.13 275.33 227.27C280.47 229.41 278.76 229.41 281.75 234.97C284.75 240.54 282.61 237.97 284.32 243.96C286.03 249.96 287.75 250.81 286.89 252.95C286.03 255.09 285.61 252.53 281.75 250.39C277.9 248.24 279.18 250.39 275.33 246.53C271.48 242.68 273.19 244.82 270.19 238.83C267.2 232.83 264.63 232.4 266.34 228.55Z" fill="#d7d7d8"/>
<path d="M281.79 223.4C283.29 218.26 281.79 219.97 286.93 216.98C292.07 213.98 289.5 215.91 297.2 214.41C304.91 212.91 302.34 212.05 310.05 212.48C317.75 212.91 314.33 212.91 320.32 215.69C326.32 218.48 324.39 216.55 328.03 220.83C331.67 225.11 330.6 222.54 331.24 228.54C331.88 234.53 331.88 233.25 329.96 238.81C328.03 244.38 329.53 241.81 325.46 245.23C321.39 248.66 324.6 247.59 317.75 249.09C310.9 250.59 312.62 250.37 304.91 249.73C297.2 249.09 300.63 249.94 294.63 247.16C288.64 244.38 291 246.31 286.93 241.38C282.86 236.46 284.15 238.38 282.43 232.39C280.72 226.4 280.29 228.54 281.79 223.4Z" fill="#d7d7d8"/>
<path d="M310.05 84.31C313.47 80.12 310.9 82.64 317.75 82.64C324.6 82.64 322.04 82.34 330.6 84.31C339.16 86.28 335.74 85.34 343.44 88.55C351.15 91.76 347.3 89.36 353.72 93.94C360.14 98.53 358.34 96.3 362.71 102.29C367.08 108.29 365.19 104.86 366.82 111.93C368.45 118.99 368.1 116.21 367.59 123.49C367.08 130.76 367.33 127.77 365.28 133.76C363.22 139.76 363.56 136.33 361.42 141.47C359.28 146.61 359.28 143.61 358.86 149.17C358.43 154.74 360.35 151.74 360.14 158.17C359.93 164.59 359.93 162.45 358.21 168.44C356.5 174.43 358.21 172.51 355 176.15C351.79 179.79 353.29 178.93 348.58 179.36C343.87 179.79 346.01 179.57 340.87 177.43C335.74 175.29 338.3 175.93 333.17 172.94C328.03 169.94 330.6 169.51 325.46 168.44C320.32 167.37 321.61 170.15 317.75 169.72C313.9 169.3 316.47 169.72 313.9 167.16C311.33 164.59 313.04 165.87 310.05 162.02C307.05 158.17 309.19 159.02 304.91 155.6C300.63 152.17 301.06 153.88 297.2 151.74C293.35 149.6 293.35 153.46 293.35 149.17C293.35 144.89 294.63 146.18 297.2 138.9C299.77 131.62 299.34 134.62 301.06 127.34C302.77 120.06 301.49 124.34 302.34 117.06C303.2 109.79 301.91 112.78 303.63 105.5C305.34 98.23 305.34 102.29 307.48 95.23C309.62 88.17 306.62 88.51 310.05 84.31Z" fill="#d7d7d8"/>
<path d="M367.85 115.78C370.41 109.14 369.56 113.85 374.27 112.57C378.98 111.28 377.48 110.43 381.97 111.93C386.47 113.43 386.04 113.21 387.75 117.06C389.47 120.92 386.47 119.2 387.11 123.49C387.75 127.77 389.68 125.2 389.68 129.91C389.68 134.62 389.25 132.91 387.11 137.61C384.97 142.32 383.69 139.76 383.26 144.04C382.83 148.32 381.55 146.18 385.83 150.46C390.11 154.74 393.96 153.03 396.1 156.88C398.24 160.73 394.82 158.17 392.25 162.02C389.68 165.87 392.25 166.3 388.4 168.44C384.54 170.58 385.4 170.15 380.69 168.44C375.98 166.73 378.55 166.3 374.27 163.3C369.99 160.31 371.7 162.02 367.85 159.45C363.99 156.88 364.85 161.16 362.71 155.6C360.57 150.03 360.14 150.46 361.42 142.75C362.71 135.05 364.42 141.47 366.56 132.48C368.7 123.49 365.28 122.42 367.85 115.78Z" fill="#d7d7d8"/>
<path d="M379.41 102.94C380.6 101.57 381.63 101.18 383.26 102.04C384.89 102.89 384.93 103.49 384.29 105.5C383.64 107.52 382.87 107.86 381.33 108.07C379.79 108.29 380.3 107.86 379.66 106.15C379.02 104.43 378.21 104.31 379.41 102.94Z" fill="#d7d7d8"/>
<path d="M300.41 203.23C301.06 201.74 305.77 201.05 306.84 197.71C307.91 194.37 302.56 196.43 303.63 193.22C304.7 190.01 305.34 190.65 310.05 188.08C314.76 185.51 312.62 184.87 317.75 185.51C322.89 186.15 319.47 187.22 325.46 190.01C331.45 192.79 328.03 192.49 335.74 193.86C343.44 195.23 340.96 194.24 348.58 194.12C356.2 193.99 358.17 191.85 358.6 193.47C359.03 195.1 356.63 195.87 349.86 199C343.1 202.12 346.44 201.35 338.3 202.85C330.17 204.35 334.02 204.01 325.46 203.49C316.9 202.98 319.47 201.74 312.62 201.31C305.77 200.88 308.98 201.57 304.91 202.21C300.84 202.85 299.77 204.73 300.41 203.23Z" fill="#d7d7d8"/>
<path d="M344.73 219.55C344.3 215.69 343.44 215.48 347.3 213.12C351.15 210.77 349.86 212.05 356.29 212.48C362.71 212.91 361 216.76 366.56 214.41C372.13 212.05 368.49 210.56 372.98 205.42C377.48 200.28 376.84 199.42 380.05 199C383.26 198.57 381.97 199.42 382.62 204.13C383.26 208.84 377.91 209.49 381.97 213.12C386.04 216.76 386.68 213.98 394.82 215.05C402.95 216.12 401.03 213.98 406.38 216.34C411.73 218.69 409.59 218.05 410.87 222.12C412.16 226.18 412.59 224.26 410.23 228.54C407.88 232.82 409.8 231.32 403.81 234.96C397.82 238.6 399.96 238.17 392.25 239.46C384.54 240.74 388.4 240.53 380.69 238.81C372.98 237.1 376.41 237.74 369.13 234.32C361.85 230.89 365.71 231.75 358.86 228.54C352 225.33 353.29 227.68 348.58 224.68C343.87 221.69 345.15 223.4 344.73 219.55Z" fill="#d7d7d8"/>
<path d="M57.8 262.02C59.17 254.68 55.05 255.14 63.3 248.26C71.56 241.38 66.97 244.13 82.57 241.38C98.17 238.63 96.33 238.63 110.09 240C123.85 241.38 117.43 238.17 123.85 245.51C130.28 252.85 122.94 254.22 129.36 262.02C135.78 269.82 136.24 265.23 143.12 268.9C150 272.57 150 267.98 150 273.03C150 278.08 150.92 279.45 143.12 284.04C135.32 288.63 137.61 287.71 126.61 286.79C115.6 285.87 116.51 279.45 110.09 281.29C103.67 283.12 106.42 285.87 107.34 292.3C108.26 298.72 115.6 296.88 112.84 300.55C110.09 304.22 105.5 298.72 99.08 303.3C92.66 307.89 98.17 308.81 93.58 314.31C88.99 319.82 90.83 322.57 85.32 319.82C79.82 317.07 81.65 316.15 77.06 306.06C72.48 295.97 74.31 299.63 71.56 289.54C68.81 279.45 72.94 282.2 68.81 275.78C64.68 269.36 62.84 274.86 59.17 270.28C55.5 265.69 56.42 269.36 57.8 262.02Z" fill="#d7d7d8"/>
<path d="M94.36 212.48C96.07 211.84 95.21 211.41 102.06 213.12C108.91 214.84 108.91 214.2 114.91 217.62C120.9 221.05 117.05 218.48 120.05 223.4C123.04 228.32 123.9 228.97 123.9 232.39C123.9 235.82 123.47 235.82 120.05 233.68C116.62 231.53 118.76 230.68 113.62 225.97C108.49 221.26 110.2 223.19 104.63 219.55C99.07 215.91 100.35 217.41 96.93 215.05C93.5 212.7 92.65 213.12 94.36 212.48Z" fill="#d7d7d8"/>
<path d="M138.03 245.23C138.88 241.81 139.74 243.52 145.73 240.1C151.73 236.67 149.16 237.31 156.01 234.96C162.86 232.6 159.86 233.03 166.28 233.03C172.71 233.03 171.85 232.6 175.28 234.96C178.7 237.31 177.84 236.67 176.56 240.1C175.28 243.52 175.7 242.24 171.42 245.23C167.14 248.23 169.71 246.95 163.72 249.09C157.72 251.23 160.29 251.23 153.44 251.66C146.59 252.09 148.3 252.51 143.17 250.37C138.03 248.23 137.17 248.66 138.03 245.23Z" fill="#d7d7d8"/>
<path d="M172.02 273.03C175.69 265.69 172.94 268.44 181.65 259.27C190.37 250.09 185.32 251.01 198.17 245.51C211.01 240 208.26 240.92 220.18 242.75C232.11 244.59 222.94 244.59 233.94 251.01C244.95 257.43 248.62 255.6 253.21 262.02C257.8 268.44 245.87 263.86 247.71 270.28C249.54 276.7 249.54 272.11 258.72 281.29C267.89 290.46 273.39 290.92 275.23 297.8C277.06 304.68 275.23 300.09 264.22 301.93C253.21 303.76 254.13 301.01 242.2 303.3C230.28 305.6 235.78 302.39 228.44 308.81C221.1 315.23 228.44 314.77 220.18 322.57C211.93 330.37 214.68 329.45 203.67 332.2C192.66 334.96 196.33 335.87 187.16 330.83C177.98 325.78 180.28 327.16 176.15 317.07C172.02 306.97 173.85 309.73 174.77 300.55C175.69 291.38 180.28 295.97 178.9 289.54C177.52 283.12 172.94 286.79 170.64 281.29C168.35 275.78 168.35 280.37 172.02 273.03Z" fill="#d7d7d8"/>
</g>
<g filter="url(#sb)">
<path d="M141.88 178.72C143.17 175.29 144.45 174.01 148.3 177.43C152.16 180.86 150.87 182.14 153.44 188.99C156.01 195.84 154.51 192.42 156.01 197.98C157.51 203.55 158.79 202.69 157.94 205.69C157.08 208.69 156.65 208.69 153.44 206.97C150.23 205.26 151.3 206.97 148.3 200.55C145.31 194.13 146.59 194.98 144.45 187.71C142.31 180.43 140.6 182.14 141.88 178.72Z" fill="#d7d7d8"/>
<path d="M138.03 202.85C139.31 201.57 139.74 203.28 141.88 206.7C144.02 210.13 140.6 209.7 144.45 213.12C148.3 216.55 148.73 215.27 153.44 216.98C158.15 218.69 156.87 215.27 158.58 218.26C160.29 221.26 160.29 222.54 158.58 225.97C156.87 229.39 156.87 228.97 153.44 228.54C150.02 228.11 151.3 227.68 148.3 224.68C145.31 221.69 147.02 219.55 144.45 219.55C141.88 219.55 144.02 221.26 140.6 224.68C137.17 228.11 139.31 225.97 134.17 229.82C129.04 233.68 130.75 232.82 125.18 236.24C119.62 239.67 120.47 239.46 117.48 240.1C114.48 240.74 113.2 240.74 116.19 238.17C119.19 235.6 120.05 236.46 126.47 232.39C132.89 228.32 131.18 230.25 135.46 225.97C139.74 221.69 138.46 224.68 139.31 219.55C140.17 214.41 138.46 216.12 138.03 210.56C137.6 204.99 136.74 204.13 138.03 202.85Z" fill="#d7d7d8"/>
<path d="M145.73 259.36C147.45 257.01 148.3 257.22 153.44 256.79C158.58 256.37 157.72 258.51 161.15 258.08C164.57 257.65 162.43 254.87 163.72 255.51C165 256.15 167.14 257.44 165 260.01C162.86 262.57 162.86 261.93 157.29 263.22C151.73 264.5 152.16 265.14 148.3 263.86C144.45 262.57 144.02 261.72 145.73 259.36Z" fill="#d7d7d8"/>
<path d="M107.2 273.49C110.2 269.21 110.63 271.78 117.48 269.64C124.33 267.5 120.05 267.5 127.75 267.07C135.46 266.64 133.1 266.64 140.6 268.35C148.09 270.07 148.09 268.35 150.23 272.21C152.37 276.06 151.09 275.2 147.02 279.91C142.95 284.62 145.31 282.91 138.03 286.34C130.75 289.76 132.89 289.76 125.18 290.19C117.48 290.62 120.47 290.19 114.91 287.62C109.34 285.05 111.06 287.19 108.49 282.48C105.92 277.77 104.2 277.77 107.2 273.49Z" fill="#d7d7d8"/>
<path d="M356.29 206.7C357.14 203.28 361.85 204.13 366.56 197.71C371.27 191.29 367.85 190.86 370.41 187.44C372.98 184.01 373.41 183.58 374.27 187.44C375.12 191.29 376.41 192.15 372.98 199C369.56 205.85 369.56 205.42 363.99 207.99C358.43 210.56 355.43 210.13 356.29 206.7Z" fill="#d7d7d8"/>
<path d="M145.73 147.89C145.73 145.75 149.59 146.18 159.86 144.04C170.14 141.9 170.99 139.33 176.56 141.47C182.13 143.61 182.13 147.46 176.56 150.46C170.99 153.46 170.14 151.31 159.86 150.46C149.59 149.6 145.73 150.03 145.73 147.89Z" fill="#d7d7d8"/>
<path d="M163.72 250.37C167.57 249.09 169.28 250.37 176.56 249.09C183.84 247.8 183.41 246.09 185.55 246.52C187.69 246.95 187.26 248.23 182.98 250.37C178.7 252.51 178.7 252.09 172.71 252.94C166.71 253.8 168 253.8 165 252.94C162 252.09 159.86 251.66 163.72 250.37Z" fill="#d7d7d8"/>
<path d="M126.47 234.96C128.18 229.82 128.61 232.82 135.46 232.39C142.31 231.96 142.74 229.82 147.02 233.68C151.3 237.53 149.16 237.1 148.3 243.95C147.45 250.8 148.3 250.37 144.45 254.23C140.6 258.08 141.45 257.65 136.74 255.51C132.03 253.37 133.75 254.65 130.32 247.8C126.9 240.95 124.76 240.1 126.47 234.96Z" fill="#d7d7d8"/>
<path d="M144.45 109.36C148.73 105.93 148.73 105.93 156.01 106.79C163.29 107.65 162.22 106.36 166.28 111.93C170.35 117.49 168.85 116.21 168.21 123.49C167.57 130.76 169.28 129.69 164.36 133.76C159.43 137.83 159.65 137.4 153.44 135.69C147.23 133.98 149.16 134.83 145.73 128.62C142.31 122.42 143.59 123.49 143.17 117.06C142.74 110.64 140.17 112.78 144.45 109.36Z" fill="#fff"/>
</g>
<g filter="url(#rg)">
<path d="M100.78 121.1C108.12 107.34 105.37 110.09 117.3 101.83C129.22 93.58 123.72 94.5 136.56 96.33C149.41 98.17 145.74 99.08 155.83 107.34C165.92 115.6 164.09 111.01 166.84 121.1C169.59 131.19 171.42 128.44 164.09 137.61C156.75 146.79 159.5 143.12 144.82 148.62C130.14 154.13 133.81 151.38 120.05 154.13C106.29 156.88 111.79 160.55 103.53 156.88C95.28 153.21 96.2 155.05 95.28 143.12C94.36 131.19 93.44 134.86 100.78 121.1Z" fill="#e6d6cf" opacity="0.5"/>
</g>
<g filter="url(#sl)">
<path d="M92.53 115.6C100.78 102.75 98.03 101.83 111.79 93.58C125.55 85.32 119.13 87.16 133.81 90.83C148.49 94.5 143.9 94.5 155.83 104.59C167.76 114.68 165.92 110.09 169.59 121.1C173.26 132.11 175.09 128.44 166.84 137.61C158.58 146.79 161.33 143.12 144.82 148.62C128.31 154.13 133.81 148.62 117.3 154.13C100.78 159.63 106.29 165.14 95.28 165.14C84.27 165.14 87.02 165.14 84.27 154.13C81.52 143.12 84.27 144.95 87.02 132.11C89.77 119.27 84.27 128.44 92.53 115.6Z" fill="#d7d7d8"/>
<path d="M42.98 132.11C47.57 111.93 61.33 126.61 84.27 110.09C107.2 93.58 87.94 93.58 111.79 82.57C135.64 71.56 133.81 73.39 155.83 77.06C177.85 80.73 177.85 67.89 177.85 93.58C177.85 119.27 177.85 126.61 155.83 154.13C133.81 181.65 140.23 170.64 111.79 176.15C83.35 181.65 93.44 185.32 70.51 170.64C47.57 155.96 38.4 152.29 42.98 132.11Z" fill="#e8d4cc" opacity="0.6"/>
</g>
<g filter="url(#rg)">
<path d="M184.73 143.12C184.73 137.61 187.48 137.8 199.87 132.11C212.25 126.42 211.79 125.14 221.88 126.06C231.98 126.97 230.14 128.26 230.14 134.86C230.14 141.47 231.98 141.28 221.88 145.87C211.79 150.46 212.25 149.54 199.87 148.62C187.48 147.71 184.73 148.62 184.73 143.12Z" fill="#9ad69a" opacity="0.9"/>
</g>
<g filter="url(#sl)">
<path d="M184.73 143.12C184.73 137.61 187.48 137.8 199.87 132.11C212.25 126.42 211.79 125.14 221.88 126.06C231.98 126.97 230.14 128.26 230.14 134.86C230.14 141.47 231.98 141.28 221.88 145.87C211.79 150.46 212.25 149.54 199.87 148.62C187.48 147.71 184.73 148.62 184.73 143.12Z" fill="#d7d7d8"/>
</g>
<g filter="url(#rg)">
<path d="M172.34 176.15C171.42 167.89 170.51 171.1 177.85 167.89C185.19 164.68 183.35 165.14 194.36 166.51C205.37 167.89 203.99 166.97 210.87 172.02C217.76 177.06 214.09 174.77 215 181.65C215.92 188.53 211.33 185.32 213.63 192.66C215.92 200 220.05 196.33 221.88 203.67C223.72 211.01 224.64 210.09 219.13 214.68C213.63 219.27 214.54 217.43 205.37 217.43C196.2 217.43 198.95 218.35 191.61 214.68C184.27 211.01 182.43 211.93 183.35 206.42C184.27 200.92 195.28 202.75 194.36 198.17C193.44 193.58 187.94 200 180.6 192.66C173.26 185.32 173.26 184.4 172.34 176.15Z" fill="#e0457a"/>
<path d="M253.53 191.28C254.91 185.6 253.53 184.86 260.42 176.15C267.3 167.43 267.57 167.89 274.18 165.14C280.78 162.39 279.31 163.3 280.23 167.89C281.15 172.48 281.7 171.56 276.93 178.9C272.16 186.24 272.8 185.14 265.92 189.91C259.04 194.68 260.42 192.75 256.29 193.21C252.16 193.67 252.16 196.97 253.53 191.28Z" fill="#22c44e"/>
<path d="M293.44 148.62C292.53 135.78 297.11 139.45 301.7 118.35C306.29 97.25 297.11 96.79 307.2 85.32C317.3 73.85 316.38 80.28 331.98 83.94C347.57 87.61 342.98 85.78 353.99 96.33C365 106.88 360.87 100 365 115.6C369.13 131.19 368.21 126.61 366.38 143.12C364.54 159.63 364.54 154.13 359.5 165.14C354.45 176.15 358.58 173.39 351.24 176.15C343.9 178.9 348.49 177.06 337.48 173.39C326.47 169.72 329.22 170.64 318.21 165.14C307.2 159.63 312.71 162.39 304.45 156.88C296.2 151.38 294.36 161.47 293.44 148.62Z" fill="#d7ebe8"/>
<path d="M301.7 188.53C303.53 186.24 302.62 188.07 312.71 189.91C322.8 191.74 317.3 193.12 331.98 194.04C346.65 194.95 353.08 190.37 356.75 192.66C360.42 194.95 354.91 197.71 342.98 200.92C331.06 204.13 332.89 203.67 320.97 202.29C309.04 200.92 313.63 201.38 307.2 196.79C300.78 192.2 299.87 190.83 301.7 188.53Z" fill="#9eddd4"/>
<path d="M55.18 260.65C55.61 253.8 53.47 258.08 58.39 252.94C63.32 247.8 59.68 248.45 69.95 245.23C80.23 242.02 76.38 243.74 89.22 243.31C102.06 242.88 97.35 242.88 108.49 243.95C119.62 245.02 116.62 242.24 122.61 246.52C128.61 250.8 125.61 249.94 126.47 256.79C127.32 263.64 129.04 262.36 125.18 267.07C121.33 271.78 121.76 269.21 114.91 270.92C108.06 272.64 107.63 268.35 104.63 272.21C101.64 276.06 104.63 275.63 105.92 282.48C107.2 289.33 106.35 286.34 108.49 292.76C110.63 299.18 112.77 297.9 112.34 301.75C111.91 305.6 112.34 303.03 107.2 304.32C102.06 305.6 102.06 303.03 96.93 305.6C91.79 308.17 95.21 306.46 91.79 312.02C88.36 317.59 89.65 319.3 86.65 322.3C83.65 325.3 86.22 324.44 82.8 321.01C79.37 317.59 79.8 318.45 76.38 312.02C72.95 305.6 74.66 309.03 72.52 301.75C70.38 294.47 71.67 297.47 69.95 290.19C68.24 282.91 71.67 285.48 67.39 279.91C63.1 274.35 61.18 279.91 57.11 273.49C53.04 267.07 54.76 267.5 55.18 260.65Z" fill="#c0c3d8"/>
<path d="M73.26 297.25C77.85 288.99 78.76 290.83 89.77 286.24C100.78 281.65 98.95 278.9 106.29 283.49C113.63 288.07 115.46 291.74 111.79 300C108.12 308.26 104.45 301.38 95.28 308.26C86.1 315.14 90.69 319.72 84.27 320.64C77.85 321.56 79.68 318.81 76.01 311.01C72.34 303.21 68.67 305.5 73.26 297.25Z" fill="#8c9cc8"/>
</g>
<g filter="url(#sl)">
<path d="M62.25 253.21C68.67 242.2 71.42 247.71 89.77 247.71C108.12 247.71 108.12 244.04 117.3 253.21C126.47 262.39 126.47 264.22 117.3 275.23C108.12 286.24 105.37 284.4 89.77 286.24C74.18 288.07 79.68 291.74 70.51 280.73C61.33 269.72 55.83 264.22 62.25 253.21Z" fill="#8c9cc8"/>
</g>
<g filter="url(#rg)">
<path d="M94.36 212.48C96.07 211.84 95.21 211.41 102.06 213.12C108.91 214.84 108.91 214.2 114.91 217.62C120.9 221.05 117.05 218.48 120.05 223.4C123.04 228.32 123.9 228.97 123.9 232.39C123.9 235.82 123.47 235.82 120.05 233.68C116.62 231.53 118.76 230.68 113.62 225.97C108.49 221.26 110.2 223.19 104.63 219.55C99.07 215.91 100.35 217.41 96.93 215.05C93.5 212.7 92.65 213.12 94.36 212.48Z" fill="#bcc4e0" opacity="0.8"/>
<path d="M138.03 245.23C138.88 241.81 139.74 243.52 145.73 240.1C151.73 236.67 149.16 237.31 156.01 234.96C162.86 232.6 159.86 233.03 166.28 233.03C172.71 233.03 171.85 232.6 175.28 234.96C178.7 237.31 177.84 236.67 176.56 240.1C175.28 243.52 175.7 242.24 171.42 245.23C167.14 248.23 169.71 246.95 163.72 249.09C157.72 251.23 160.29 251.23 153.44 251.66C146.59 252.09 148.3 252.51 143.17 250.37C138.03 248.23 137.17 248.66 138.03 245.23Z" fill="#e6c2ca" opacity="0.7"/>
<path d="M170.97 275.23C170.97 266.97 168.21 270.64 177.85 261.47C187.48 252.29 185.19 253.21 199.87 247.71C214.54 242.2 209.96 243.12 221.88 244.95C233.81 246.79 225.55 247.71 235.64 253.21C245.74 258.72 247.57 256.88 252.16 261.47C256.75 266.06 254.91 264.22 249.41 266.97C243.9 269.72 242.98 266.97 235.64 269.72C228.31 272.48 235.64 269.72 227.39 275.23C219.13 280.73 221.88 281.65 210.87 286.24C199.87 290.83 205.37 288.99 194.36 288.99C183.35 288.99 185.64 290.83 177.85 286.24C170.05 281.65 170.97 283.49 170.97 275.23Z" fill="#c87d8d"/>
<path d="M205.37 286.24C210.87 276.15 209.96 272.48 219.13 272.48C228.31 272.48 222.8 277.06 232.89 286.24C242.98 295.41 244.82 292.66 249.41 300C253.99 307.34 253.99 303.67 246.65 308.26C239.31 312.84 239.31 311.01 227.39 313.76C215.46 316.51 219.13 320.18 210.87 316.51C202.62 312.84 204.45 312.84 202.62 302.75C200.78 292.66 199.87 296.33 205.37 286.24Z" fill="#4a80e0" opacity="0.85"/>
<path d="M176.47 305.5C178.31 296.33 175.55 300 183.35 294.5C191.15 288.99 190.69 288.07 199.87 288.99C209.04 289.91 205.37 289.91 210.87 297.25C216.38 304.59 218.21 301.83 216.38 311.01C214.54 320.18 214.54 318.35 205.37 324.77C196.2 331.19 198.03 331.19 188.86 330.28C179.68 329.36 181.98 330.28 177.85 322.02C173.72 313.76 174.64 314.68 176.47 305.5Z" fill="#a80543"/>
</g>
<g filter="url(#sb)">
<path d="M194.36 286.24C199.87 278.9 204.45 277.06 216.38 280.73C228.31 284.4 228.31 285.32 230.14 297.25C231.98 309.17 230.14 308.26 221.88 316.51C213.63 324.77 212.71 326.61 205.37 322.02C198.03 317.43 203.53 314.68 199.87 302.75C196.2 290.83 188.86 293.58 194.36 286.24Z" fill="#a80543"/>
</g>
<g filter="url(#sl)">
<path d="M194.36 269.72C201.7 262.39 207.2 260.55 221.88 264.22C236.56 267.89 238.4 271.56 238.4 280.73C238.4 289.91 234.73 289.91 221.88 291.74C209.04 293.58 209.04 293.58 199.87 286.24C190.69 278.9 187.02 277.06 194.36 269.72Z" fill="#4a80e0"/>
</g>
<g filter="url(#sb)">
<path d="M359.5 224.31C366.84 222.84 368.67 224.13 381.52 225.14C394.36 226.15 392.53 225.14 398.03 227.34C403.53 229.54 403.53 230.46 398.03 231.74C392.53 233.03 394.36 231.93 381.52 231.19C368.67 230.46 366.84 231.83 359.5 229.54C352.16 227.25 352.16 225.78 359.5 224.31Z" fill="#f59a24"/>
<path d="M155.83 137.06C159.04 135.5 162.71 135.14 166.84 136.24C170.97 137.34 171.42 138.81 168.21 140.37C165 141.93 161.33 142.02 157.2 140.92C153.08 139.82 152.62 138.62 155.83 137.06Z" fill="#f59a24"/>
</g>
</g>
<g transform="translate(0 362.2)">
<g filter="url(#rg)">
<path d="M34.63 150.46C34.63 146.18 31.21 147.89 37.84 142.75C44.48 137.61 47.26 139.33 54.54 135.05C61.82 130.76 57.75 135.47 59.68 129.91C61.61 124.34 57.75 123.91 60.32 118.35C62.89 112.78 66.31 117.06 67.39 113.21C68.46 109.36 68.67 110.64 63.53 106.79C58.39 102.94 50.26 109.79 51.97 101.65C53.69 93.52 59.25 92.23 68.67 82.39C78.09 72.54 69.53 78.75 80.23 72.11C90.93 65.47 90.93 65.26 100.78 62.48C110.63 59.69 103.35 62.05 109.77 63.76C116.19 65.47 112.77 65.47 120.05 67.61C127.32 69.76 124.76 70.83 131.61 70.18C138.46 69.54 135.03 65.47 140.6 65.69C146.16 65.9 142.31 66.54 148.3 70.83C154.3 75.11 151.73 76.61 158.58 78.53C165.43 80.46 162 78.75 168.85 76.61C175.7 74.46 171.85 76.61 179.13 72.11C186.41 67.61 182.13 68.77 190.69 63.12C199.25 57.47 197.97 56.01 204.82 55.16C211.67 54.3 209.1 54.9 211.24 60.55C213.38 66.2 214.24 64.83 211.24 72.11C208.24 79.39 209.95 77.25 202.25 82.39C194.54 87.52 193.69 81.96 188.12 87.52C182.55 93.09 190.69 93.94 185.55 99.08C180.41 104.22 178.27 99.51 172.71 102.94C167.14 106.36 170.57 104.65 168.85 109.36C167.14 114.07 165.86 112.35 167.57 117.06C169.28 121.77 173.56 118.35 173.99 123.49C174.42 128.62 172.28 127.34 168.85 132.48C165.43 137.61 166.28 134.19 163.72 138.9C161.15 143.61 164.57 141.04 161.15 146.61C157.72 152.17 158.58 148.75 153.44 155.6C148.3 162.45 151.3 162.87 145.73 167.16C140.17 171.44 142.74 167.16 136.74 168.44C130.75 169.72 131.61 167.58 127.75 171.01C123.9 174.43 123.47 172.72 125.18 178.72C126.9 184.71 133.75 188.13 132.89 188.99C132.03 189.85 132.89 183 122.61 181.28C112.34 179.57 117.48 182.57 102.06 183.85C86.65 185.14 89.22 187.71 76.38 185.14C63.53 182.57 69.95 182.57 63.53 176.15C57.11 169.72 64.39 168.65 57.11 165.87C49.83 163.09 45.12 169.51 41.7 167.8C38.27 166.09 48.12 164.8 46.83 160.73C45.55 156.67 41.91 159.02 37.84 155.6C33.78 152.17 34.63 154.74 34.63 150.46Z" fill="#d7d7d8"/>
<path d="M218.86 105.5C220.14 104.01 225.71 103.15 234.27 99.72C242.83 96.3 239.19 94.24 244.54 95.23C249.89 96.21 251.61 99.9 250.32 102.68C249.04 105.46 247.33 103.06 240.69 103.58C234.05 104.09 237.69 103.58 230.41 104.22C223.14 104.86 217.57 107 218.86 105.5Z" fill="#d7d7d8"/>
<path d="M207.39 103.58C209.95 101.65 213.81 99.72 217.66 98.44C221.51 97.16 221.51 97.8 218.94 99.72C216.38 101.65 213.81 102.94 209.95 104.22C206.1 105.5 204.82 105.5 207.39 103.58Z" fill="#d7d7d8"/>
<path d="M35.92 126.7C38.91 126.48 38.49 125.76 45.55 127.34C52.61 128.92 53.47 129.74 57.11 131.45C60.75 133.16 60.32 133.2 56.47 132.48C52.61 131.75 52.19 130.76 45.55 129.27C38.91 127.77 39.77 128.84 36.56 127.98C33.35 127.13 32.92 126.91 35.92 126.7Z" fill="#d7d7d8"/>
<path d="M176.56 146.61C176.13 141.04 177.42 143.61 180.41 137.61C183.41 131.62 181.7 134.1 185.55 128.62C189.4 123.14 186.83 122.97 191.97 121.17C197.11 119.38 194.97 123.66 200.96 123.23C206.96 122.8 203.53 121.94 209.95 119.89C216.38 117.83 214.24 117.66 220.23 117.06C226.22 116.46 224.08 115.95 227.94 118.09C231.79 120.23 230.08 118.69 231.79 123.49C233.5 128.28 231.79 126.06 233.07 132.48C234.36 138.9 232.22 136.33 235.64 142.75C239.07 149.17 237.83 145.32 243.35 151.74C248.87 158.17 250.71 157.52 252.21 162.02C253.71 166.51 253.37 165.87 247.84 165.23C242.32 164.59 243.99 162.45 235.64 160.09C227.29 157.74 233.07 158.59 222.8 158.17C212.52 157.74 215.09 158.81 204.82 158.81C194.54 158.81 199.68 159.66 191.97 158.17C184.27 156.67 186.83 158.17 181.7 154.31C176.56 150.46 176.99 152.17 176.56 146.61Z" fill="#d7d7d8"/>
<path d="M173.39 176.15C173.39 169.27 172.48 172.2 178.9 169.27C185.32 166.33 182.57 167.61 192.66 167.34C202.75 167.06 199.08 166.88 209.17 168.44C219.27 170 216.51 168.53 222.94 172.02C229.36 175.5 230.28 172.02 228.44 178.9C226.61 185.78 225.69 185.32 217.43 192.66C209.17 200 212.84 198.62 203.67 200.92C194.5 203.21 198.17 203.21 189.91 199.54C181.65 195.87 184.4 197.71 178.9 189.91C173.39 182.11 173.39 183.03 173.39 176.15Z" fill="#d7d7d8"/>
<path d="M184.4 206.42C186.24 201.83 184.4 202.11 192.66 199.54C200.92 196.97 200 197.34 209.17 198.72C218.35 200.09 215.6 199.72 220.18 203.67C224.77 207.61 224.77 205.96 222.94 210.55C221.1 215.14 222.94 214.95 214.68 217.43C206.42 219.91 207.34 219.36 198.17 217.98C188.99 216.61 191.74 217.16 187.16 213.3C182.57 209.45 182.57 211.01 184.4 206.42Z" fill="#d7d7d8"/>
<path d="M222.94 176.7C228.44 172.57 228.44 176.24 236.7 178.08C244.95 179.91 244.95 178.08 247.71 182.2C250.46 186.33 250.46 186.33 244.95 190.46C239.45 194.59 239.45 194.59 231.19 194.59C222.94 194.59 222.94 196.42 220.18 190.46C217.43 184.5 217.43 180.83 222.94 176.7Z" fill="#d7d7d8"/>
<path d="M257.39 192.84C259.53 186.85 262.52 184.71 268.95 176.15C275.37 167.58 272.59 169.72 276.65 167.16C280.72 164.59 281.15 164.59 281.15 168.44C281.15 172.29 279.86 171.87 276.65 178.72C273.44 185.57 276.23 183.85 271.52 188.99C266.81 194.13 267.23 192.84 262.52 194.13C257.82 195.41 255.25 198.84 257.39 192.84Z" fill="#d7d7d8"/>
<path d="M165.64 213.78C165.64 211.64 165.64 211.21 170.14 213.14C174.63 215.06 171.85 215.71 179.13 219.56C186.41 223.41 183.41 222.13 191.97 224.7C200.54 227.27 196.25 226.75 204.82 227.27C213.38 227.78 209.95 229.58 217.66 226.24C225.37 222.9 220.23 224.1 227.94 217.25C235.64 210.4 230.93 211.47 240.78 205.69C250.63 199.91 246.35 202.35 257.48 199.91C268.61 197.47 268.18 196.44 274.17 198.37C280.17 200.29 276.31 199.82 275.46 205.69C274.6 211.55 274.6 209.97 271.61 215.96C268.61 221.96 270.32 219.39 266.47 223.67C262.61 227.95 263.47 228.81 260.05 228.81C256.62 228.81 260.05 224.53 256.19 223.67C252.34 222.81 252.34 223.24 248.49 226.24C244.63 229.24 249.34 231.8 244.63 232.66C239.92 233.52 241.64 229.66 234.36 228.81C227.08 227.95 229.22 228.68 222.8 230.09C216.38 231.5 221.09 232.62 215.09 233.05C209.1 233.47 212.52 232.45 204.82 231.38C197.11 230.31 200.54 231.63 191.97 229.83C183.41 228.04 186.41 229.41 179.13 225.98C171.85 222.56 174.63 223.63 170.14 219.56C165.64 215.49 165.64 215.92 165.64 213.78Z" fill="#d7d7d8"/>
<path d="M266.34 228.55C268.05 224.7 270.19 225.13 275.33 227.27C280.47 229.41 278.76 229.41 281.75 234.97C284.75 240.54 282.61 237.97 284.32 243.96C286.03 249.96 287.75 250.81 286.89 252.95C286.03 255.09 285.61 252.53 281.75 250.39C277.9 248.24 279.18 250.39 275.33 246.53C271.48 242.68 273.19 244.82 270.19 238.83C267.2 232.83 264.63 232.4 266.34 228.55Z" fill="#d7d7d8"/>
<path d="M281.79 223.4C283.29 218.26 281.79 219.97 286.93 216.98C292.07 213.98 289.5 215.91 297.2 214.41C304.91 212.91 302.34 212.05 310.05 212.48C317.75 212.91 314.33 212.91 320.32 215.69C326.32 218.48 324.39 216.55 328.03 220.83C331.67 225.11 330.6 222.54 331.24 228.54C331.88 234.53 331.88 233.25 329.96 238.81C328.03 244.38 329.53 241.81 325.46 245.23C321.39 248.66 324.6 247.59 317.75 249.09C310.9 250.59 312.62 250.37 304.91 249.73C297.2 249.09 300.63 249.94 294.63 247.16C288.64 244.38 291 246.31 286.93 241.38C282.86 236.46 284.15 238.38 282.43 232.39C280.72 226.4 280.29 228.54 281.79 223.4Z" fill="#d7d7d8"/>
<path d="M310.05 84.31C313.47 80.12 310.9 82.64 317.75 82.64C324.6 82.64 322.04 82.34 330.6 84.31C339.16 86.28 335.74 85.34 343.44 88.55C351.15 91.76 347.3 89.36 353.72 93.94C360.14 98.53 358.34 96.3 362.71 102.29C367.08 108.29 365.19 104.86 366.82 111.93C368.45 118.99 368.1 116.21 367.59 123.49C367.08 130.76 367.33 127.77 365.28 133.76C363.22 139.76 363.56 136.33 361.42 141.47C359.28 146.61 359.28 143.61 358.86 149.17C358.43 154.74 360.35 151.74 360.14 158.17C359.93 164.59 359.93 162.45 358.21 168.44C356.5 174.43 358.21 172.51 355 176.15C351.79 179.79 353.29 178.93 348.58 179.36C343.87 179.79 346.01 179.57 340.87 177.43C335.74 175.29 338.3 175.93 333.17 172.94C328.03 169.94 330.6 169.51 325.46 168.44C320.32 167.37 321.61 170.15 317.75 169.72C313.9 169.3 316.47 169.72 313.9 167.16C311.33 164.59 313.04 165.87 310.05 162.02C307.05 158.17 309.19 159.02 304.91 155.6C300.63 152.17 301.06 153.88 297.2 151.74C293.35 149.6 293.35 153.46 293.35 149.17C293.35 144.89 294.63 146.18 297.2 138.9C299.77 131.62 299.34 134.62 301.06 127.34C302.77 120.06 301.49 124.34 302.34 117.06C303.2 109.79 301.91 112.78 303.63 105.5C305.34 98.23 305.34 102.29 307.48 95.23C309.62 88.17 306.62 88.51 310.05 84.31Z" fill="#d7d7d8"/>
<path d="M367.85 115.78C370.41 109.14 369.56 113.85 374.27 112.57C378.98 111.28 377.48 110.43 381.97 111.93C386.47 113.43 386.04 113.21 387.75 117.06C389.47 120.92 386.47 119.2 387.11 123.49C387.75 127.77 389.68 125.2 389.68 129.91C389.68 134.62 389.25 132.91 387.11 137.61C384.97 142.32 383.69 139.76 383.26 144.04C382.83 148.32 381.55 146.18 385.83 150.46C390.11 154.74 393.96 153.03 396.1 156.88C398.24 160.73 394.82 158.17 392.25 162.02C389.68 165.87 392.25 166.3 388.4 168.44C384.54 170.58 385.4 170.15 380.69 168.44C375.98 166.73 378.55 166.3 374.27 163.3C369.99 160.31 371.7 162.02 367.85 159.45C363.99 156.88 364.85 161.16 362.71 155.6C360.57 150.03 360.14 150.46 361.42 142.75C362.71 135.05 364.42 141.47 366.56 132.48C368.7 123.49 365.28 122.42 367.85 115.78Z" fill="#d7d7d8"/>
<path d="M379.41 102.94C380.6 101.57 381.63 101.18 383.26 102.04C384.89 102.89 384.93 103.49 384.29 105.5C383.64 107.52 382.87 107.86 381.33 108.07C379.79 108.29 380.3 107.86 379.66 106.15C379.02 104.43 378.21 104.31 379.41 102.94Z" fill="#d7d7d8"/>
<path d="M300.41 203.23C301.06 201.74 305.77 201.05 306.84 197.71C307.91 194.37 302.56 196.43 303.63 193.22C304.7 190.01 305.34 190.65 310.05 188.08C314.76 185.51 312.62 184.87 317.75 185.51C322.89 186.15 319.47 187.22 325.46 190.01C331.45 192.79 328.03 192.49 335.74 193.86C343.44 195.23 340.96 194.24 348.58 194.12C356.2 193.99 358.17 191.85 358.6 193.47C359.03 195.1 356.63 195.87 349.86 199C343.1 202.12 346.44 201.35 338.3 202.85C330.17 204.35 334.02 204.01 325.46 203.49C316.9 202.98 319.47 201.74 312.62 201.31C305.77 200.88 308.98 201.57 304.91 202.21C300.84 202.85 299.77 204.73 300.41 203.23Z" fill="#d7d7d8"/>
<path d="M344.73 219.55C344.3 215.69 343.44 215.48 347.3 213.12C351.15 210.77 349.86 212.05 356.29 212.48C362.71 212.91 361 216.76 366.56 214.41C372.13 212.05 368.49 210.56 372.98 205.42C377.48 200.28 376.84 199.42 380.05 199C383.26 198.57 381.97 199.42 382.62 204.13C383.26 208.84 377.91 209.49 381.97 213.12C386.04 216.76 386.68 213.98 394.82 215.05C402.95 216.12 401.03 213.98 406.38 216.34C411.73 218.69 409.59 218.05 410.87 222.12C412.16 226.18 412.59 224.26 410.23 228.54C407.88 232.82 409.8 231.32 403.81 234.96C397.82 238.6 399.96 238.17 392.25 239.46C384.54 240.74 388.4 240.53 380.69 238.81C372.98 237.1 376.41 237.74 369.13 234.32C361.85 230.89 365.71 231.75 358.86 228.54C352 225.33 353.29 227.68 348.58 224.68C343.87 221.69 345.15 223.4 344.73 219.55Z" fill="#d7d7d8"/>
<path d="M57.8 262.02C59.17 254.68 55.05 255.14 63.3 248.26C71.56 241.38 66.97 244.13 82.57 241.38C98.17 238.63 96.33 238.63 110.09 240C123.85 241.38 117.43 238.17 123.85 245.51C130.28 252.85 122.94 254.22 129.36 262.02C135.78 269.82 136.24 265.23 143.12 268.9C150 272.57 150 267.98 150 273.03C150 278.08 150.92 279.45 143.12 284.04C135.32 288.63 137.61 287.71 126.61 286.79C115.6 285.87 116.51 279.45 110.09 281.29C103.67 283.12 106.42 285.87 107.34 292.3C108.26 298.72 115.6 296.88 112.84 300.55C110.09 304.22 105.5 298.72 99.08 303.3C92.66 307.89 98.17 308.81 93.58 314.31C88.99 319.82 90.83 322.57 85.32 319.82C79.82 317.07 81.65 316.15 77.06 306.06C72.48 295.97 74.31 299.63 71.56 289.54C68.81 279.45 72.94 282.2 68.81 275.78C64.68 269.36 62.84 274.86 59.17 270.28C55.5 265.69 56.42 269.36 57.8 262.02Z" fill="#d7d7d8"/>
<path d="M94.36 212.48C96.07 211.84 95.21 211.41 102.06 213.12C108.91 214.84 108.91 214.2 114.91 217.62C120.9 221.05 117.05 218.48 120.05 223.4C123.04 228.32 123.9 228.97 123.9 232.39C123.9 235.82 123.47 235.82 120.05 233.68C116.62 231.53 118.76 230.68 113.62 225.97C108.49 221.26 110.2 223.19 104.63 219.55C99.07 215.91 100.35 217.41 96.93 215.05C93.5 212.7 92.65 213.12 94.36 212.48Z" fill="#d7d7d8"/>
<path d="M138.03 245.23C138.88 241.81 139.74 243.52 145.73 240.1C151.73 236.67 149.16 237.31 156.01 234.96C162.86 232.6 159.86 233.03 166.28 233.03C172.71 233.03 171.85 232.6 175.28 234.96C178.7 237.31 177.84 236.67 176.56 240.1C175.28 243.52 175.7 242.24 171.42 245.23C167.14 248.23 169.71 246.95 163.72 249.09C157.72 251.23 160.29 251.23 153.44 251.66C146.59 252.09 148.3 252.51 143.17 250.37C138.03 248.23 137.17 248.66 138.03 245.23Z" fill="#d7d7d8"/>
<path d="M172.02 273.03C175.69 265.69 172.94 268.44 181.65 259.27C190.37 250.09 185.32 251.01 198.17 245.51C211.01 240 208.26 240.92 220.18 242.75C232.11 244.59 222.94 244.59 233.94 251.01C244.95 257.43 248.62 255.6 253.21 262.02C257.8 268.44 245.87 263.86 247.71 270.28C249.54 276.7 249.54 272.11 258.72 281.29C267.89 290.46 273.39 290.92 275.23 297.8C277.06 304.68 275.23 300.09 264.22 301.93C253.21 303.76 254.13 301.01 242.2 303.3C230.28 305.6 235.78 302.39 228.44 308.81C221.1 315.23 228.44 314.77 220.18 322.57C211.93 330.37 214.68 329.45 203.67 332.2C192.66 334.96 196.33 335.87 187.16 330.83C177.98 325.78 180.28 327.16 176.15 317.07C172.02 306.97 173.85 309.73 174.77 300.55C175.69 291.38 180.28 295.97 178.9 289.54C177.52 283.12 172.94 286.79 170.64 281.29C168.35 275.78 168.35 280.37 172.02 273.03Z" fill="#d7d7d8"/>
</g>
<g filter="url(#sb)">
<path d="M141.88 178.72C143.17 175.29 144.45 174.01 148.3 177.43C152.16 180.86 150.87 182.14 153.44 188.99C156.01 195.84 154.51 192.42 156.01 197.98C157.51 203.55 158.79 202.69 157.94 205.69C157.08 208.69 156.65 208.69 153.44 206.97C150.23 205.26 151.3 206.97 148.3 200.55C145.31 194.13 146.59 194.98 144.45 187.71C142.31 180.43 140.6 182.14 141.88 178.72Z" fill="#d7d7d8"/>
<path d="M138.03 202.85C139.31 201.57 139.74 203.28 141.88 206.7C144.02 210.13 140.6 209.7 144.45 213.12C148.3 216.55 148.73 215.27 153.44 216.98C158.15 218.69 156.87 215.27 158.58 218.26C160.29 221.26 160.29 222.54 158.58 225.97C156.87 229.39 156.87 228.97 153.44 228.54C150.02 228.11 151.3 227.68 148.3 224.68C145.31 221.69 147.02 219.55 144.45 219.55C141.88 219.55 144.02 221.26 140.6 224.68C137.17 228.11 139.31 225.97 134.17 229.82C129.04 233.68 130.75 232.82 125.18 236.24C119.62 239.67 120.47 239.46 117.48 240.1C114.48 240.74 113.2 240.74 116.19 238.17C119.19 235.6 120.05 236.46 126.47 232.39C132.89 228.32 131.18 230.25 135.46 225.97C139.74 221.69 138.46 224.68 139.31 219.55C140.17 214.41 138.46 216.12 138.03 210.56C137.6 204.99 136.74 204.13 138.03 202.85Z" fill="#d7d7d8"/>
<path d="M145.73 259.36C147.45 257.01 148.3 257.22 153.44 256.79C158.58 256.37 157.72 258.51 161.15 258.08C164.57 257.65 162.43 254.87 163.72 255.51C165 256.15 167.14 257.44 165 260.01C162.86 262.57 162.86 261.93 157.29 263.22C151.73 264.5 152.16 265.14 148.3 263.86C144.45 262.57 144.02 261.72 145.73 259.36Z" fill="#d7d7d8"/>
<path d="M107.2 273.49C110.2 269.21 110.63 271.78 117.48 269.64C124.33 267.5 120.05 267.5 127.75 267.07C135.46 266.64 133.1 266.64 140.6 268.35C148.09 270.07 148.09 268.35 150.23 272.21C152.37 276.06 151.09 275.2 147.02 279.91C142.95 284.62 145.31 282.91 138.03 286.34C130.75 289.76 132.89 289.76 125.18 290.19C117.48 290.62 120.47 290.19 114.91 287.62C109.34 285.05 111.06 287.19 108.49 282.48C105.92 277.77 104.2 277.77 107.2 273.49Z" fill="#d7d7d8"/>
<path d="M356.29 206.7C357.14 203.28 361.85 204.13 366.56 197.71C371.27 191.29 367.85 190.86 370.41 187.44C372.98 184.01 373.41 183.58 374.27 187.44C375.12 191.29 376.41 192.15 372.98 199C369.56 205.85 369.56 205.42 363.99 207.99C358.43 210.56 355.43 210.13 356.29 206.7Z" fill="#d7d7d8"/>
<path d="M145.73 147.89C145.73 145.75 149.59 146.18 159.86 144.04C170.14 141.9 170.99 139.33 176.56 141.47C182.13 143.61 182.13 147.46 176.56 150.46C170.99 153.46 170.14 151.31 159.86 150.46C149.59 149.6 145.73 150.03 145.73 147.89Z" fill="#d7d7d8"/>
<path d="M163.72 250.37C167.57 249.09 169.28 250.37 176.56 249.09C183.84 247.8 183.41 246.09 185.55 246.52C187.69 246.95 187.26 248.23 182.98 250.37C178.7 252.51 178.7 252.09 172.71 252.94C166.71 253.8 168 253.8 165 252.94C162 252.09 159.86 251.66 163.72 250.37Z" fill="#d7d7d8"/>
<path d="M126.47 234.96C128.18 229.82 128.61 232.82 135.46 232.39C142.31 231.96 142.74 229.82 147.02 233.68C151.3 237.53 149.16 237.1 148.3 243.95C147.45 250.8 148.3 250.37 144.45 254.23C140.6 258.08 141.45 257.65 136.74 255.51C132.03 253.37 133.75 254.65 130.32 247.8C126.9 240.95 124.76 240.1 126.47 234.96Z" fill="#d7d7d8"/>
<path d="M144.45 109.36C148.73 105.93 148.73 105.93 156.01 106.79C163.29 107.65 162.22 106.36 166.28 111.93C170.35 117.49 168.85 116.21 168.21 123.49C167.57 130.76 169.28 129.69 164.36 133.76C159.43 137.83 159.65 137.4 153.44 135.69C147.23 133.98 149.16 134.83 145.73 128.62C142.31 122.42 143.59 123.49 143.17 117.06C142.74 110.64 140.17 112.78 144.45 109.36Z" fill="#fff"/>
</g>
<g filter="url(#rg)">
<path d="M68.81 80.37C79.82 65.23 86.24 67.07 104.59 62.48C122.94 57.89 111.01 64.31 123.85 66.61C136.7 68.9 129.36 64.77 143.12 69.36C156.88 73.95 149.54 83.12 165.14 80.37C180.73 77.62 176.61 69.36 189.91 61.1C203.21 52.85 197.71 54.68 205.05 55.6C212.39 56.52 212.39 55.6 211.93 63.86C211.47 72.11 213.76 70.28 203.67 80.37C193.58 90.46 198.17 87.71 181.65 94.13C165.14 100.55 173.39 96.88 154.13 99.63C134.86 102.39 143.12 99.63 123.85 102.39C104.59 105.14 113.76 106.06 96.33 107.89C78.9 109.73 80.73 117.07 71.56 107.89C62.39 98.72 57.8 95.51 68.81 80.37Z" fill="#edd3c8"/>
<path d="M37.16 147.8C44.5 139.54 45.41 141.38 63.3 135.41C81.19 129.45 70.64 129.91 90.83 129.91C111.01 129.91 108.26 128.08 123.85 135.41C139.45 142.75 135.78 142.75 137.61 151.93C139.45 161.1 140.37 157.43 129.36 162.94C118.35 168.44 122.02 164.77 104.59 168.44C87.16 172.11 91.74 174.86 77.06 173.95C62.39 173.03 72.48 170.28 60.55 165.69C48.62 161.1 49.08 166.15 41.28 160.19C33.49 154.22 29.82 156.06 37.16 147.8Z" fill="#edd3c8"/>
</g>
<g filter="url(#sb)">
<path d="M55.05 113.4C64.22 98.72 58.72 109.73 82.57 107.89C106.42 106.06 106.42 100.55 126.61 107.89C146.79 115.23 139.45 111.56 143.12 129.91C146.79 148.26 148.62 146.42 137.61 162.94C126.61 179.45 132.11 173.95 110.09 179.45C88.07 184.96 89.91 188.63 71.56 179.45C53.21 170.28 60.55 173.95 55.05 151.93C49.54 129.91 45.87 128.08 55.05 113.4Z" fill="#edd3c8"/>
</g>
<g filter="url(#sl)">
<path d="M68.81 80.37C79.82 65.23 86.24 67.07 104.59 62.48C122.94 57.89 111.01 64.31 123.85 66.61C136.7 68.9 129.36 64.77 143.12 69.36C156.88 73.95 152.29 72.11 165.14 80.37C177.98 88.63 185.32 87.71 181.65 94.13C177.98 100.55 173.39 96.88 154.13 99.63C134.86 102.39 143.12 99.63 123.85 102.39C104.59 105.14 113.76 106.06 96.33 107.89C78.9 109.73 80.73 117.07 71.56 107.89C62.39 98.72 57.8 95.51 68.81 80.37Z" fill="#d7d7d8"/>
</g>
<g filter="url(#sb)">
<path d="M63.3 114.77C71.56 109.73 71.56 110.64 90.83 109.27C110.09 107.89 111.01 107.43 121.1 110.64C131.19 113.86 131.19 115.23 121.1 118.9C111.01 122.57 109.17 119.82 90.83 121.65C72.48 123.49 75.23 126.7 66.06 124.41C56.88 122.11 55.05 119.82 63.3 114.77Z" fill="#f2bca0"/>
</g>
<g filter="url(#rg)">
<path d="M220.18 102.39C222.94 99.82 232.57 95.6 242.2 94.68C251.83 93.76 251.83 97.07 249.08 99.63C246.33 102.2 243.58 101.47 233.94 102.39C224.31 103.3 217.43 104.96 220.18 102.39Z" fill="#edd3c8"/>
<path d="M280.73 223.49C286.24 217.07 288.07 217.07 302.75 217.98C317.43 218.9 318.35 218.9 324.77 226.24C331.19 233.58 329.36 233.58 322.02 240C314.68 246.42 314.68 246.42 302.75 245.51C290.83 244.59 293.58 244.59 286.24 237.25C278.9 229.91 275.23 229.91 280.73 223.49Z" fill="#edd3c8" opacity="0.8"/>
<path d="M311.01 157.43C314.68 149.18 315.6 149.18 330.28 143.67C344.95 138.17 342.2 145.51 355.05 140.92C367.89 136.33 363.3 140.92 368.81 129.91C374.31 118.9 367.89 117.07 371.56 107.89C375.23 98.72 375.23 98.72 379.82 102.39C384.4 106.06 381.65 102.39 385.32 118.9C388.99 135.41 392.66 137.25 390.83 151.93C388.99 166.61 390.83 160.19 379.82 162.94C368.81 165.69 372.48 159.27 357.8 160.19C343.12 161.1 348.62 162.94 335.78 165.69C322.94 168.44 327.52 171.19 319.27 168.44C311.01 165.69 307.34 165.69 311.01 157.43Z" fill="#d4eae6"/>
<path d="M324.77 91.38C330.28 88.63 335.78 93.21 346.79 107.89C357.8 122.57 359.63 124.41 357.8 135.41C355.96 146.42 350.46 147.34 341.28 140.92C332.11 134.5 335.78 132.66 330.28 116.15C324.77 99.63 319.27 94.13 324.77 91.38Z" fill="#d4eae6" opacity="0.7"/>
<path d="M300 187.71C303.67 187.25 304.59 192.02 316.51 194.59C328.44 197.16 322.94 196.33 335.78 195.41C348.62 194.5 354.13 190.28 355.05 191.84C355.96 193.4 350.46 196.88 338.53 200.09C326.61 203.3 330.28 202.85 319.27 201.47C308.26 200.09 311.93 200.55 305.5 195.97C299.08 191.38 296.33 188.17 300 187.71Z" fill="#a9dcd6"/>
<path d="M349.54 217.98C351.38 215.23 354.13 219.36 366.06 220.74C377.98 222.11 372.48 223.03 385.32 222.11C398.17 221.19 397.71 216.61 404.59 217.98C411.47 219.36 409.63 220.74 405.96 226.24C402.29 231.74 403.21 231.29 393.58 234.5C383.94 237.71 388.07 237.71 377.06 235.87C366.06 234.04 369.72 234.96 360.55 228.99C351.38 223.03 347.71 220.74 349.54 217.98Z" fill="#f59a24"/>
<path d="M368.81 202.85C370.64 199.18 373.85 197.8 377.06 200.09C380.28 202.39 380.28 206.06 378.44 209.73C376.61 213.4 374.77 213.4 371.56 211.1C368.35 208.81 366.97 206.52 368.81 202.85Z" fill="#f59a24" opacity="0.8"/>
<path d="M360.55 215.23C364.68 213.4 367.89 212.94 374.31 213.86C380.73 214.77 380.73 215.51 379.82 217.98C378.9 220.46 377.52 220.83 371.56 221.29C365.6 221.74 365.6 221.38 361.93 219.36C358.26 217.34 356.42 217.07 360.55 215.23Z" fill="#1cc8b8" opacity="0.9"/>
<path d="M242.2 226.24C243.12 225.32 242.66 226.7 246.33 231.74C250 236.79 246.79 236.33 253.21 241.38C259.63 246.42 261.93 243.86 265.6 246.88C269.27 249.91 269.27 251.38 264.22 250.46C259.17 249.54 257.34 249.45 250.46 244.13C243.58 238.81 246.33 240.46 243.58 234.5C240.83 228.53 241.28 227.16 242.2 226.24Z" fill="#1cc8b8"/>
<path d="M254.59 173.95C256.42 171.19 260.09 171.19 264.22 172.57C268.35 173.95 268.81 175.32 266.97 178.08C265.14 180.83 262.84 182.2 258.72 180.83C254.59 179.45 252.75 176.7 254.59 173.95Z" fill="#1cc8b8" opacity="0.8"/>
</g>
<g filter="url(#sl)">
<path d="M236.7 217.98C238.53 209.73 244.95 217.98 258.72 215.23C272.48 212.48 269.72 203.3 277.98 209.73C286.24 216.15 285.32 222.57 283.49 234.5C281.65 246.42 282.57 243.67 272.48 245.51C262.39 247.34 265.14 249.18 253.21 240C241.28 230.83 234.86 226.24 236.7 217.98Z" fill="#1cc8b8" opacity="0.8"/>
<path d="M200.92 259.27C203.67 251.93 208.26 253.76 211.93 262.02C215.6 270.28 214.68 276.7 211.93 284.04C209.17 291.38 207.34 292.3 203.67 284.04C200 275.78 198.17 266.61 200.92 259.27Z" fill="#1cc8b8"/>
<path d="M189.91 300.55C193.58 297.34 197.71 298.26 200.92 301.93C204.13 305.6 203.21 308.35 199.54 311.56C195.87 314.77 193.12 315.23 189.91 311.56C186.7 307.89 186.24 303.76 189.91 300.55Z" fill="#1cc8b8"/>
<path d="M200.92 187.71C205.5 185.41 211.93 186.33 217.43 189.08C222.94 191.84 222.02 193.67 217.43 195.97C212.84 198.26 209.17 198.72 203.67 195.97C198.17 193.21 196.33 190 200.92 187.71Z" fill="#1cc8b8"/>
<path d="M209.17 171.19C213.3 168.17 217.43 167.16 222.94 168.99C228.44 170.83 227.52 172.75 225.69 176.7C223.85 180.64 222.48 180.37 217.43 180.83C212.39 181.29 213.3 181.29 210.55 178.08C207.8 174.86 205.05 174.22 209.17 171.19Z" fill="#c0306a" opacity="0.6"/>
<path d="M189.91 143.67C195.41 139.54 193.58 139.54 209.17 138.17C224.77 136.79 229.36 136.33 236.7 139.54C244.04 142.75 240.37 143.67 231.19 147.8C222.02 151.93 222.02 151.01 209.17 151.93C196.33 152.85 199.08 153.3 192.66 150.55C186.24 147.8 184.4 147.8 189.91 143.67Z" fill="#8fd49a"/>
</g>
</g>
<rect x="29.2" y="46.2" width="389.8" height="295.1" fill="none" stroke="#333" stroke-width="1.1"/>
<rect x="467.5" y="46.2" width="390" height="295.1" fill="none" stroke="#333" stroke-width="1.1"/>
<rect x="29.2" y="408.4" width="389.8" height="294.8" fill="none" stroke="#333" stroke-width="1.1"/>
<text x="19.6" y="17.2" font-size="24" font-weight="bold">a</text>
<text x="227.2" y="37.2" font-size="21.2" text-anchor="middle" font-weight="bold">Prenatal skin</text>
<text x="670.1" y="37.6" font-size="21.2" text-anchor="middle" font-weight="bold">Adult skin</text>
<text x="230" y="399.4" font-size="21.3" text-anchor="middle" font-weight="bold">Organoid</text>
<circle cx="473.5" cy="440.8" r="9.4" fill="#0c55b0"/>
<text x="458.6" y="446.4" font-size="14.4" text-anchor="end" font-weight="bold">0</text>
<text x="489.6" y="447.1" font-size="18.5">Haem progenitor</text>
<circle cx="473.5" cy="464.9" r="9.4" fill="#8390c4"/>
<text x="458.6" y="470.5" font-size="14.4" text-anchor="end" font-weight="bold">1</text>
<text x="489.6" y="471.2" font-size="18.5">ILC</text>
<circle cx="473.5" cy="488.4" r="9.4" fill="#b9bdd6"/>
<text x="458.6" y="494" font-size="14.4" text-anchor="end" font-weight="bold">2</text>
<text x="489.6" y="494.7" font-size="18.5">T cell</text>
<circle cx="473.5" cy="512.2" r="9.4" fill="#e0b4be"/>
<text x="458.6" y="517.8" font-size="14.4" text-anchor="end" font-weight="bold">3</text>
<text x="489.6" y="518.5" font-size="18.5">B cell</text>
<circle cx="473.5" cy="535.4" r="9.4" fill="#d0788a"/>
<text x="458.6" y="541" font-size="14.4" text-anchor="end" font-weight="bold">4</text>
<text x="489.6" y="541.7" font-size="18.5">DC</text>
<circle cx="473.5" cy="559.2" r="9.4" fill="#a80040"/>
<text x="458.6" y="564.8" font-size="14.4" text-anchor="end" font-weight="bold">5</text>
<text x="489.6" y="565.5" font-size="18.5">Macrophage</text>
<circle cx="473.5" cy="582.9" r="9.4" fill="#3a86e4"/>
<text x="458.6" y="588.5" font-size="14.4" text-anchor="end" font-weight="bold">6</text>
<text x="489.6" y="589.2" font-size="18.5">Monocyte</text>
<circle cx="473.5" cy="606.1" r="9.4" fill="#7f9cde"/>
<text x="458.6" y="611.7" font-size="14.4" text-anchor="end" font-weight="bold">7</text>
<text x="489.6" y="612.4" font-size="18.5">Neutrophil</text>
<circle cx="473.5" cy="629.6" r="9.4" fill="#aab6e2"/>
<text x="458.6" y="635.2" font-size="14.4" text-anchor="end" font-weight="bold">8</text>
<text x="489.6" y="635.9" font-size="18.5">Mast cell</text>
<circle cx="473.5" cy="653.1" r="9.4" fill="#f2a2b4"/>
<text x="458.6" y="658.7" font-size="14.4" text-anchor="end" font-weight="bold">9</text>
<text x="489.6" y="659.4" font-size="18.5">Megakaryocyte</text>
<circle cx="473.5" cy="676.6" r="9.4" fill="#f6708e"/>
<text x="458.6" y="682.2" font-size="14.4" text-anchor="end" font-weight="bold">10</text>
<text x="489.6" y="682.9" font-size="18.5">Erythroid</text>
<circle cx="689" cy="440.8" r="9.4" fill="#f0307a"/>
<text x="674.8" y="446.4" font-size="14.4" text-anchor="end" font-weight="bold">11</text>
<text x="705.4" y="447.1" font-size="18.5">Vascular endothelium</text>
<circle cx="689" cy="464.9" r="9.4" fill="#0cc246"/>
<text x="674.8" y="470.5" font-size="14.4" text-anchor="end" font-weight="bold">12</text>
<text x="705.4" y="471.2" font-size="18.5">Lymphatic endothelium</text>
<circle cx="689" cy="488.4" r="9.4" fill="#6cd494"/>
<text x="674.8" y="494" font-size="14.4" text-anchor="end" font-weight="bold">13</text>
<text x="705.4" y="494.7" font-size="18.5">Mural cell</text>
<circle cx="689" cy="512.2" r="9.4" fill="#b2dcc0"/>
<text x="674.8" y="517.8" font-size="14.4" text-anchor="end" font-weight="bold">14</text>
<text x="705.4" y="518.5" font-size="18.5">Skeletal muscle</text>
<circle cx="689" cy="535.4" r="9.4" fill="#eeccc2"/>
<text x="674.8" y="541" font-size="14.4" text-anchor="end" font-weight="bold">15</text>
<text x="705.4" y="541.7" font-size="18.5">Fibroblast</text>
<circle cx="689" cy="559.2" r="9.4" fill="#f8ae8c"/>
<text x="674.8" y="564.8" font-size="14.4" text-anchor="end" font-weight="bold">16</text>
<text x="705.4" y="565.5" font-size="18.5">Adipocyte</text>
<circle cx="689" cy="582.9" r="9.4" fill="#f78c1c"/>
<text x="674.8" y="588.5" font-size="14.4" text-anchor="end" font-weight="bold">17</text>
<text x="705.4" y="589.2" font-size="18.5">Schwann cell</text>
<circle cx="689" cy="606.1" r="9.4" fill="#0cd0b8"/>
<text x="674.8" y="611.7" font-size="14.4" text-anchor="end" font-weight="bold">18</text>
<text x="705.4" y="612.4" font-size="18.5">Neural cell</text>
<circle cx="689" cy="629.6" r="9.4" fill="#76dccc"/>
<text x="674.8" y="635.2" font-size="14.4" text-anchor="end" font-weight="bold">19</text>
<text x="705.4" y="635.9" font-size="18.5">Melanocyte</text>
<circle cx="689" cy="653.1" r="9.4" fill="#c6e6e0"/>
<text x="674.8" y="658.7" font-size="14.4" text-anchor="end" font-weight="bold">20</text>
<text x="705.4" y="659.4" font-size="18.5">Keratinocyte</text>
</g>
<g id="pb">
<defs><filter id="rb" x="-5%" y="-5%" width="110%" height="110%" color-interpolation-filters="sRGB"><feTurbulence type="fractalNoise" baseFrequency="0.4" numOctaves="2" seed="11" result="n"/><feDisplacementMap in="SourceGraphic" in2="n" scale="6" xChannelSelector="R" yChannelSelector="G"/></filter><filter id="sb" x="-5%" y="-5%" width="110%" height="110%" color-interpolation-filters="sRGB"><feTurbulence type="fractalNoise" baseFrequency="0.4" numOctaves="2" seed="11" result="n"/><feDisplacementMap in="SourceGraphic" in2="n" scale="8" xChannelSelector="R" yChannelSelector="G" result="d"/><feTurbulence type="fractalNoise" baseFrequency="1.45" numOctaves="1" seed="5" result="m"/><feColorMatrix in="m" type="matrix" values="0 0 0 0 0 0 0 0 0 0 0 0 0 0 0 14 0 0 0 -6.6" result="k"/><feComposite in="d" in2="k" operator="in"/></filter><filter id="se" x="-5%" y="-5%" width="110%" height="110%" color-interpolation-filters="sRGB"><feTurbulence type="fractalNoise" baseFrequency="0.4" numOctaves="2" seed="11" result="n"/><feDisplacementMap in="SourceGraphic" in2="n" scale="7" xChannelSelector="R" yChannelSelector="G" result="d"/><feTurbulence type="fractalNoise" baseFrequency="1.35" numOctaves="1" seed="9" result="m"/><feColorMatrix in="m" type="matrix" values="0 0 0 0 0 0 0 0 0 0 0 0 0 0 0 14 0 0 0 -5.6" result="k"/><feComposite in="d" in2="k" operator="in"/></filter><filter id="sl" x="-5%" y="-5%" width="110%" height="110%" color-interpolation-filters="sRGB"><feTurbulence type="fractalNoise" baseFrequency="0.4" numOctaves="2" seed="11" result="n"/><feDisplacementMap in="SourceGraphic" in2="n" scale="8" xChannelSelector="R" yChannelSelector="G" result="d"/><feTurbulence type="fractalNoise" baseFrequency="1.55" numOctaves="1" seed="23" result="m"/><feColorMatrix in="m" type="matrix" values="0 0 0 0 0 0 0 0 0 0 0 0 0 0 0 16 0 0 0 -9.6" result="k"/><feComposite in="d" in2="k" operator="in"/></filter></defs>
<g filter="url(#se)">
<path d="M108.32 1134.13C107.38 1127.09 114.41 1129.44 120.98 1120.06C127.54 1110.68 119.57 1114.9 128.01 1105.99C136.45 1097.08 132.7 1098.02 146.3 1093.33C159.9 1088.64 155.68 1090.52 168.81 1091.93C181.94 1093.33 176.31 1090.99 185.69 1097.55C195.07 1104.12 191.78 1103.18 196.94 1111.62C202.1 1120.06 202.1 1114.43 201.16 1122.87C200.22 1131.31 195.54 1129.44 194.13 1136.94C192.72 1144.44 201.63 1141.16 196.94 1145.38C192.25 1149.6 191.31 1148.66 180.06 1149.6C168.81 1150.54 172.56 1146.32 163.18 1148.2C153.8 1150.07 160.37 1155.23 151.93 1155.23C143.49 1155.23 147.24 1152.88 137.86 1148.2C128.48 1143.51 133.64 1145.85 123.79 1141.16C113.94 1136.47 109.26 1141.16 108.32 1134.13Z" fill="#9467bd"/>
</g>
<g filter="url(#sb)">
<path d="M202.57 1136.38C204.91 1134.32 208.66 1134.5 213.82 1135.82C218.98 1137.13 220.39 1138.25 218.04 1140.32C215.7 1142.38 211.95 1143.32 206.79 1142.01C201.63 1140.69 200.22 1138.44 202.57 1136.38Z" fill="#9467bd"/>
</g>
<g filter="url(#se)">
<path d="M25.32 1196.02C30.95 1189.46 27.2 1190.4 42.2 1187.58C57.21 1184.77 53.46 1188.52 70.34 1187.58C87.22 1186.65 80.18 1185.24 92.84 1184.77C105.5 1184.3 102.69 1178.67 108.32 1186.18C113.94 1193.68 113.01 1198.84 109.72 1207.28C106.44 1215.72 106.91 1208.22 98.47 1211.5C90.03 1214.78 93.78 1213.84 84.4 1217.13C75.03 1220.41 80.65 1218.53 70.34 1221.35C60.02 1224.16 67.52 1226.03 53.46 1225.57C39.39 1225.1 37.51 1226.03 28.13 1219.94C18.76 1213.84 26.26 1215.25 25.32 1207.28C24.38 1199.31 19.69 1202.59 25.32 1196.02Z" fill="#d9262c"/>
<path d="M167.4 1173.52C169.28 1166.95 166.46 1167.42 174.43 1162.26C182.41 1157.1 181 1157.1 191.31 1158.04C201.63 1158.98 199.29 1159.92 205.38 1165.08C211.48 1170.23 210.54 1167.89 209.6 1173.52C208.66 1179.14 207.73 1176.33 202.57 1181.96C197.41 1187.58 201.63 1188.99 194.13 1190.4C186.63 1191.8 188.5 1188.99 180.06 1186.18C171.62 1183.36 173.03 1186.18 168.81 1181.96C164.59 1177.74 165.52 1180.08 167.4 1173.52Z" fill="#d9262c"/>
<path d="M211.01 1221.35C212.88 1215.72 212.88 1216.19 219.45 1215.72C226.01 1215.25 224.14 1215.25 230.7 1219.94C237.27 1224.63 241.02 1225.1 239.14 1229.79C237.27 1234.48 233.52 1233.07 225.08 1234.01C216.64 1234.94 218.51 1236.82 213.82 1232.6C209.13 1228.38 209.13 1226.97 211.01 1221.35Z" fill="#f06a1c"/>
<path d="M194.13 1238.23C200.69 1231.66 201.63 1234.48 213.82 1232.6C226.01 1230.72 219.45 1231.66 230.7 1232.6C241.96 1233.54 235.39 1232.6 247.58 1235.41C259.78 1238.23 256.02 1236.35 267.28 1241.04C278.53 1245.73 278.06 1241.98 281.35 1249.48C284.63 1256.98 282.75 1256.98 277.13 1263.55C271.5 1270.11 274.31 1265.42 264.46 1269.17C254.62 1272.93 256.96 1275.74 247.58 1274.8C238.21 1273.86 244.77 1270.11 236.33 1266.36C227.89 1262.61 232.58 1265.42 222.26 1263.55C211.95 1261.67 214.76 1264.49 205.38 1260.73C196 1256.98 197.88 1259.8 194.13 1252.29C190.38 1244.79 187.56 1244.79 194.13 1238.23Z" fill="#d9262c"/>
</g>
<g filter="url(#sb)">
<path d="M264.46 1239.63C267.28 1237.76 272.44 1238.79 277.13 1241.6C281.81 1244.42 281.35 1246.2 278.53 1248.07C275.72 1249.95 273.37 1250.04 268.69 1247.23C264 1244.42 261.65 1241.51 264.46 1239.63Z" fill="#f06a1c"/>
</g>
<g filter="url(#se)">
<path d="M246.18 1113.03C249.93 1108.34 248.8 1109.28 250.4 1111.62C251.99 1113.97 253.59 1113.5 250.96 1120.06C248.33 1126.63 246.74 1122.87 242.52 1131.31C238.3 1139.76 239.24 1139.29 238.3 1145.38C237.36 1151.48 240.83 1148.48 239.71 1149.6C238.58 1150.73 236.99 1152.98 234.92 1148.76C232.86 1144.54 232.11 1144.63 233.52 1136.94C234.92 1129.25 234.92 1133.66 239.14 1125.69C243.36 1117.72 242.43 1117.72 246.18 1113.03Z" fill="#e07fbe"/>
<path d="M222.26 1179.14C224.61 1174.45 224.14 1174.92 230.7 1173.52C237.27 1172.11 236.33 1172.11 241.96 1174.92C247.58 1177.74 247.58 1176.8 247.58 1181.96C247.58 1187.12 247.58 1187.12 241.96 1190.4C236.33 1193.68 236.8 1192.74 230.7 1191.8C224.61 1190.87 226.48 1191.8 223.67 1187.58C220.86 1183.36 219.92 1183.83 222.26 1179.14Z" fill="#e07fbe"/>
</g>
<g filter="url(#sb)">
<path d="M323.55 1136.94C329.17 1131.31 327.3 1134.13 337.61 1136.94C347.93 1139.76 344.18 1139.76 354.5 1145.38C364.81 1151.01 362 1149.13 368.56 1153.82C375.13 1158.51 375.13 1152.88 374.19 1159.45C373.25 1166.01 373.25 1166.95 365.75 1173.52C358.25 1180.08 361.06 1179.14 351.68 1179.14C342.3 1179.14 346.99 1178.21 337.61 1173.52C328.24 1168.83 329.17 1171.64 323.55 1165.08C317.92 1158.51 320.73 1163.2 320.73 1153.82C320.73 1144.44 317.92 1142.57 323.55 1136.94Z" fill="#1fb6cf"/>
</g>
<g filter="url(#se)">
<path d="M317.92 1142.57C323.55 1138.35 325.42 1141.16 337.61 1143.98C349.81 1146.79 345.12 1145.85 354.5 1151.01C363.87 1156.17 364.81 1153.82 365.75 1159.45C366.69 1165.08 366.69 1166.01 357.31 1167.89C347.93 1169.77 349.81 1168.83 337.61 1165.08C325.42 1161.33 327.3 1164.14 320.73 1156.64C314.17 1149.13 312.29 1146.79 317.92 1142.57Z" fill="#1fb6cf" opacity="0.8"/>
<path d="M267.28 1142.57C269.15 1134.6 269.15 1137.41 281.35 1132.72C293.54 1128.03 289.79 1128.03 303.85 1128.5C317.92 1128.97 314.17 1129.44 323.55 1134.13C332.93 1138.82 331.05 1136 331.99 1142.57C332.93 1149.13 331.05 1146.32 326.36 1153.82C321.67 1161.33 323.55 1157.57 317.92 1165.08C312.29 1172.58 315.11 1169.77 309.48 1176.33C303.85 1182.9 308.54 1181.96 301.04 1184.77C293.54 1187.58 292.6 1188.52 286.97 1184.77C281.35 1181.02 284.16 1181.02 284.16 1173.52C284.16 1166.01 289.79 1167.89 286.97 1162.26C284.16 1156.64 282.28 1163.2 275.72 1156.64C269.15 1150.07 265.4 1150.54 267.28 1142.57Z" fill="#0f9e74"/>
</g>
<g filter="url(#sb)">
<path d="M248.99 1138.35C252.27 1135.82 254.62 1135.44 261.65 1136.38C268.69 1137.32 270.09 1137.69 270.09 1141.16C270.09 1144.63 267.75 1145.85 261.65 1146.79C255.56 1147.73 256.02 1146.79 251.8 1143.98C247.58 1141.16 245.71 1140.88 248.99 1138.35Z" fill="#f06a1c"/>
</g>
<g filter="url(#se)">
<path d="M236.33 1167.89C238.21 1162.26 241.96 1164.14 253.21 1162.26C264.46 1160.39 260.71 1160.39 270.09 1162.26C279.47 1164.14 279.47 1163.2 281.35 1167.89C283.22 1172.58 282.28 1172.58 275.72 1176.33C269.15 1180.08 270.09 1175.39 261.65 1179.14C253.21 1182.9 257.9 1181.96 250.4 1187.58C242.9 1193.21 247.58 1190.4 239.14 1196.02C230.7 1201.65 228.83 1203.53 225.08 1204.46C221.33 1205.4 222.26 1204.46 227.89 1198.84C233.52 1193.21 235.39 1194.15 241.96 1187.58C248.52 1181.02 249.46 1185.71 247.58 1179.14C245.71 1172.58 234.45 1173.52 236.33 1167.89Z" fill="#bcbd22"/>
</g>
<g filter="url(#sb)">
<path d="M303.85 1181.96C308.54 1178.3 311.36 1179.05 323.55 1178.58C335.74 1178.11 340.43 1177.36 340.43 1180.55C340.43 1183.74 333.86 1185.15 323.55 1188.15C313.23 1191.15 316.04 1191.62 309.48 1189.55C302.92 1187.49 299.16 1185.61 303.85 1181.96Z" fill="#bcbd22"/>
</g>
<g filter="url(#se)">
<path d="M264.46 1190.4C267.28 1184.77 268.22 1185.71 278.53 1184.77C288.85 1183.83 287.91 1183.83 295.41 1187.58C302.92 1191.34 300.1 1190.4 301.04 1196.02C301.98 1201.65 302.92 1199.78 298.23 1204.46C293.54 1209.15 293.54 1207.28 286.97 1210.09C280.41 1212.91 284.16 1215.72 278.53 1212.91C272.91 1210.09 274.78 1209.15 270.09 1201.65C265.4 1194.15 261.65 1196.02 264.46 1190.4Z" fill="#f06a1c"/>
<path d="M374.19 1225.57C377 1222.28 377 1221.81 388.26 1217.13C399.51 1212.44 394.82 1211.5 407.95 1211.5C421.08 1211.5 418.27 1213.84 427.65 1217.13C437.02 1220.41 435.15 1215.25 436.09 1221.35C437.02 1227.44 435.15 1229.32 430.46 1235.41C425.77 1241.51 430.46 1239.63 422.02 1239.63C413.58 1239.63 414.52 1236.82 405.14 1235.41C395.76 1234.01 402.32 1238.23 393.88 1235.41C385.44 1232.6 386.38 1230.25 379.82 1226.97C373.25 1223.69 371.38 1228.85 374.19 1225.57Z" fill="#1f5fb0"/>
<path d="M323.55 1226.41C324.49 1224.07 326.17 1225.38 331.99 1228.38C337.8 1231.38 341.93 1233.07 340.99 1235.41C340.05 1237.76 334.99 1238.41 329.17 1235.41C323.36 1232.41 322.61 1228.75 323.55 1226.41Z" fill="#1f5fb0"/>
</g>
<g filter="url(#sb)">
<path d="M135.05 1210.09C141.61 1203.53 140.67 1207.28 151.93 1204.46C163.18 1201.65 161.3 1197.9 168.81 1201.65C176.31 1205.4 170.68 1207.28 174.43 1215.72C178.19 1224.16 180.06 1217.59 180.06 1226.97C180.06 1236.35 178.19 1235.41 174.43 1243.85C170.68 1252.29 176.31 1249.48 168.81 1252.29C161.3 1255.11 161.3 1256.98 151.93 1252.29C142.55 1247.6 147.24 1247.6 140.67 1238.23C134.11 1228.85 134.11 1233.54 132.23 1224.16C130.36 1214.78 128.48 1216.66 135.05 1210.09Z" fill="#8c8c8c"/>
</g>
<g filter="url(#se)">
<path d="M54.86 1251.73C54.86 1250.42 57.68 1249.39 70.34 1248.92C83 1248.45 78.78 1248.45 92.84 1250.32C106.91 1252.2 102.22 1251.07 112.54 1254.54C122.85 1258.01 123.79 1258.48 123.79 1260.73C123.79 1262.98 122.85 1262.98 112.54 1261.3C102.22 1259.61 106.91 1258.48 92.84 1255.67C78.78 1252.86 83 1254.17 70.34 1252.86C57.68 1251.54 54.86 1253.04 54.86 1251.73Z" fill="#8c564b"/>
<path d="M53.46 1276.21C53.46 1274.61 60.02 1275.27 73.15 1271.99C86.28 1268.71 79.71 1269.17 92.84 1266.36C105.97 1263.55 102.22 1263.55 112.54 1263.55C122.85 1263.55 121.92 1261.67 123.79 1266.36C125.67 1271.05 123.79 1274.8 118.17 1277.61C112.54 1280.43 115.35 1277.15 106.91 1274.8C98.47 1272.46 104.1 1269.92 92.84 1270.58C81.59 1271.24 86.28 1274.9 73.15 1276.77C60.02 1278.65 53.46 1277.8 53.46 1276.21Z" fill="#8c564b"/>
<path d="M106.91 1257.92C112.54 1252.29 115.35 1253.23 123.79 1255.11C132.23 1256.98 131.29 1256.04 132.23 1263.55C133.17 1271.05 133.17 1271.99 126.61 1277.61C120.04 1283.24 119.1 1282.3 112.54 1280.43C105.97 1278.55 108.79 1279.49 106.91 1271.99C105.04 1264.49 101.28 1263.55 106.91 1257.92Z" fill="#8c564b" opacity="0.8"/>
<path d="M123.79 1266.36C129.42 1260.73 127.54 1260.73 140.67 1257.92C153.8 1255.11 149.11 1258.86 163.18 1257.92C177.25 1256.98 171.62 1256.98 182.87 1255.11C194.13 1253.23 192.25 1249.48 196.94 1252.29C201.63 1255.11 202.57 1257.92 196.94 1263.55C191.31 1269.17 191.31 1264.49 180.06 1269.17C168.81 1273.86 174.43 1273.39 163.18 1277.61C151.93 1281.83 156.62 1280.9 146.3 1281.83C135.98 1282.77 139.73 1282.77 132.23 1280.43C124.73 1278.08 126.61 1279.49 123.79 1274.8C120.98 1270.11 118.17 1271.99 123.79 1266.36Z" fill="#d2ae90"/>
<path d="M154.74 1280.43C157.55 1274.8 156.62 1273.86 168.81 1271.99C181 1270.11 178.65 1271.99 191.31 1274.8C203.98 1277.61 201.63 1274.8 206.79 1280.43C211.95 1286.06 209.13 1285.12 206.79 1291.68C204.44 1298.25 206.79 1295.9 199.76 1300.12C192.72 1304.34 195.07 1305.28 185.69 1304.34C176.31 1303.4 180.06 1302.47 171.62 1297.31C163.18 1292.15 165.99 1294.5 160.37 1288.87C154.74 1283.24 151.93 1286.06 154.74 1280.43Z" fill="#7a6b57"/>
<path d="M57.68 1257.92C58.61 1256.04 60.02 1256.51 63.3 1259.33C66.59 1262.14 68.46 1264.49 67.52 1266.36C66.59 1268.24 63.77 1267.77 60.49 1264.95C57.21 1262.14 56.74 1259.8 57.68 1257.92Z" fill="#1f5fb0" opacity="0.8"/>
</g>
<g filter="url(#se)">
<path d="M558.17 1134.13C558.17 1127.09 565.67 1130.38 572.23 1120.06C578.8 1109.75 569.42 1112.56 577.86 1103.18C586.3 1093.8 583.49 1095.68 597.55 1091.93C611.62 1088.18 605.99 1089.11 620.06 1091.93C634.13 1094.74 629.91 1091.93 639.76 1100.37C649.6 1108.81 646.79 1107.87 649.6 1117.25C652.42 1126.63 652.42 1121.94 648.2 1128.5C643.98 1135.07 645.38 1132.25 636.94 1136.94C628.5 1141.63 632.25 1139.29 622.87 1142.57C613.5 1145.85 619.12 1146.32 608.81 1146.79C598.49 1147.26 604.12 1145.85 591.93 1143.98C579.73 1142.1 583.49 1144.44 572.23 1141.16C560.98 1137.88 558.17 1141.16 558.17 1134.13Z" fill="#9467bd"/>
</g>
<g filter="url(#sb)">
<path d="M622.87 1136.94C628.5 1133 628.5 1135.25 642.57 1134.13C656.64 1133 656.45 1131.69 665.08 1133.57C673.7 1135.44 674.08 1135.63 668.45 1139.76C662.83 1143.88 662.45 1143.88 648.2 1145.94C633.94 1148.01 634.13 1148.95 625.69 1145.94C617.25 1142.94 617.25 1140.88 622.87 1136.94Z" fill="#d4d4d5"/>
<path d="M593.33 1148.2C594.27 1144.73 597.83 1143.51 603.18 1143.98C608.53 1144.44 610.31 1146.13 609.37 1149.6C608.43 1153.07 605.71 1154.85 600.37 1154.39C595.02 1153.92 592.4 1151.67 593.33 1148.2Z" fill="#d9262c"/>
<path d="M617.25 1176.33C617.25 1169.77 616.31 1169.3 622.87 1163.67C629.44 1158.04 630.38 1156.17 636.94 1159.45C643.51 1162.73 642.57 1165.08 642.57 1173.52C642.57 1181.96 643.51 1181.49 636.94 1184.77C630.38 1188.05 629.44 1186.18 622.87 1183.36C616.31 1180.55 617.25 1182.9 617.25 1176.33Z" fill="#d4d4d5"/>
</g>
<g filter="url(#se)">
<path d="M625.69 1173.52C627.38 1166.95 624.75 1166.95 631.31 1162.26C637.88 1157.57 637.41 1158.04 645.38 1159.45C653.35 1160.86 651.48 1160.86 655.23 1166.48C658.98 1172.11 658.98 1170.23 656.64 1176.33C654.29 1182.43 655.7 1181.02 648.2 1184.77C640.69 1188.52 641.44 1188.52 634.13 1187.58C626.81 1186.65 629.06 1186.65 626.25 1181.96C623.44 1177.27 624 1180.08 625.69 1173.52Z" fill="#d9262c"/>
</g>
<g filter="url(#sl)">
<path d="M476.57 1193.21C483.61 1182.9 480.33 1189.46 496.27 1187.58C512.21 1185.71 505.65 1188.99 524.4 1187.58C543.16 1186.18 540.82 1181.49 552.54 1183.36C564.26 1185.24 557.7 1184.3 559.57 1193.21C561.45 1202.12 562.39 1203.53 558.17 1210.09C553.94 1216.66 555.35 1209.15 546.91 1212.91C538.47 1216.66 545.04 1217.59 532.84 1221.35C520.65 1225.1 525.34 1223.69 510.34 1224.16C495.33 1224.63 499.55 1224.63 487.83 1222.75C476.11 1220.88 478.92 1228.38 475.17 1218.53C471.42 1208.69 469.54 1203.53 476.57 1193.21Z" fill="#c8c8ca"/>
</g>
<g filter="url(#sb)">
<path d="M476.57 1193.21C483.61 1182.9 480.33 1189.46 496.27 1187.58C512.21 1185.71 505.65 1188.99 524.4 1187.58C543.16 1186.18 540.82 1181.49 552.54 1183.36C564.26 1185.24 557.7 1184.3 559.57 1193.21C561.45 1202.12 562.39 1203.53 558.17 1210.09C553.94 1216.66 555.35 1209.15 546.91 1212.91C538.47 1216.66 545.04 1217.59 532.84 1221.35C520.65 1225.1 525.34 1223.69 510.34 1224.16C495.33 1224.63 499.55 1224.63 487.83 1222.75C476.11 1220.88 478.92 1228.38 475.17 1218.53C471.42 1208.69 469.54 1203.53 476.57 1193.21Z" fill="#d9262c" opacity="0.85"/>
</g>
<g filter="url(#se)">
<path d="M700.24 1111.62C704.65 1108.81 705.78 1109.75 703.62 1114.43C701.46 1119.12 698.93 1117.25 693.77 1125.69C688.62 1134.13 690.02 1132.25 688.15 1139.76C686.27 1147.26 689.27 1149.13 688.15 1148.2C687.02 1147.26 684.02 1145.38 684.77 1136.94C685.52 1128.5 685.24 1131.31 690.4 1122.87C695.56 1114.43 695.84 1114.43 700.24 1111.62Z" fill="#e07fbe"/>
<path d="M673.52 1181.96C675.39 1176.8 675.39 1176.33 681.96 1173.52C688.52 1170.7 688.33 1169.77 693.21 1173.52C698.09 1177.27 698.46 1179.14 696.59 1184.77C694.71 1190.4 694.34 1188.99 687.58 1190.4C680.83 1191.8 681.02 1191.8 676.33 1188.99C671.64 1186.18 671.64 1187.12 673.52 1181.96Z" fill="#e07fbe"/>
</g>
<g filter="url(#sb)">
<path d="M691.8 1159.45C692.74 1155.98 696.02 1158.7 701.65 1161.7C707.28 1164.7 709.62 1164.98 708.69 1168.45C707.75 1171.92 704.46 1175.11 698.84 1172.11C693.21 1169.11 690.87 1162.92 691.8 1159.45Z" fill="#e07fbe"/>
<path d="M735.41 1162.26C742.92 1156.64 741.04 1156.64 755.11 1156.64C769.17 1156.64 762.61 1159.45 777.61 1162.26C792.62 1165.08 786.99 1163.2 800.12 1165.08C813.25 1166.95 812.31 1164.14 817 1167.89C821.69 1171.64 819.82 1172.58 814.19 1176.33C808.56 1180.08 812.31 1179.14 800.12 1179.14C787.93 1179.14 789.81 1175.39 777.61 1176.33C765.42 1177.27 772.93 1176.33 763.55 1181.96C754.17 1187.58 757.92 1191.34 749.48 1193.21C741.04 1195.09 743.85 1194.15 738.23 1187.58C732.6 1181.02 733.54 1181.96 732.6 1173.52C731.66 1165.08 727.91 1167.89 735.41 1162.26Z" fill="#1fb6cf"/>
</g>
<g filter="url(#se)">
<path d="M738.23 1165.08C743.85 1158.51 741.98 1159.45 755.11 1159.45C768.24 1159.45 764.49 1161.79 777.61 1165.08C790.74 1168.36 794.5 1166.48 794.5 1169.3C794.5 1172.11 788.87 1170.23 777.61 1173.52C766.36 1176.8 771.05 1174.45 760.73 1179.14C750.42 1183.83 754.17 1187.58 746.67 1187.58C739.16 1187.58 741.04 1186.65 738.23 1179.14C735.41 1171.64 732.6 1171.64 738.23 1165.08Z" fill="#1fb6cf" opacity="0.75"/>
<path d="M718.53 1142.57C723.22 1136.94 723.22 1138.82 735.41 1134.13C747.6 1129.44 742.92 1129.91 755.11 1128.5C767.3 1127.09 759.8 1127.09 771.99 1129.91C784.18 1132.72 780.43 1130.85 791.68 1136.94C802.94 1143.04 796.37 1141.63 805.75 1148.2C815.13 1154.76 816.07 1151.95 819.82 1156.64C823.57 1161.33 823.57 1160.39 817 1162.26C810.44 1164.14 813.25 1164.14 800.12 1162.26C786.99 1160.39 792.62 1159.45 777.61 1156.64C762.61 1153.82 768.24 1154.76 755.11 1153.82C741.98 1152.88 749.48 1154.76 738.23 1153.82C726.97 1152.88 727.91 1154.76 721.35 1151.01C714.78 1147.26 713.84 1148.2 718.53 1142.57Z" fill="#0f9e74"/>
<path d="M704.46 1173.52C715.72 1163.2 713.66 1164.14 721.35 1162.26C729.04 1160.39 729.41 1162.26 727.54 1167.89C725.66 1173.52 724.35 1171.64 715.72 1179.14C707.09 1186.65 711.03 1183.36 701.65 1190.4C692.27 1197.43 696.02 1195.84 687.58 1200.24C679.14 1204.65 676.33 1205.97 676.33 1203.62C676.33 1201.28 678.21 1203.25 687.58 1193.21C696.96 1183.18 693.21 1183.83 704.46 1173.52Z" fill="#bcbd22"/>
</g>
<g filter="url(#sb)">
<path d="M755.11 1181.96C760.73 1177.83 762.61 1178.58 777.61 1178.58C792.62 1178.58 800.12 1178.3 800.12 1181.96C800.12 1185.61 790.74 1186.55 777.61 1189.55C764.49 1192.55 768.24 1193.49 760.73 1190.96C753.23 1188.43 749.48 1186.08 755.11 1181.96Z" fill="#bcbd22"/>
</g>
<g filter="url(#se)">
<path d="M718.53 1187.58C721.35 1181.96 722.28 1183.83 732.6 1184.77C742.92 1185.71 743.38 1185.71 749.48 1190.4C755.58 1195.09 754.64 1194.15 750.89 1198.84C747.14 1203.53 747.14 1203.53 738.23 1204.46C729.32 1205.4 730.72 1207.28 724.16 1201.65C717.59 1196.02 715.72 1193.21 718.53 1187.58Z" fill="#9a5f80" opacity="0.9"/>
</g>
<g filter="url(#sb)">
<path d="M721.35 1201.65C724.63 1198.37 726.97 1198.37 732.6 1200.24C738.23 1202.12 739.16 1202.59 738.23 1207.28C737.29 1211.97 734.94 1213.37 729.79 1214.31C724.63 1215.25 725.57 1214.31 722.75 1210.09C719.94 1205.87 718.06 1204.93 721.35 1201.65Z" fill="#d4d4d5"/>
</g>
<g filter="url(#se)">
<path d="M832.48 1218.53C836.23 1216.19 835.29 1219.47 845.14 1217.13C854.98 1214.78 850.76 1211.5 862.02 1211.5C873.27 1211.5 870.46 1213.84 878.9 1217.13C887.34 1220.41 886.4 1215.25 887.34 1221.35C888.28 1227.44 887.34 1229.32 881.71 1235.41C876.09 1241.51 878.9 1239.63 870.46 1239.63C862.02 1239.63 864.83 1236.35 856.39 1235.41C847.95 1234.48 852.64 1240.57 845.14 1236.82C837.64 1233.07 838.1 1230.25 833.88 1224.16C829.66 1218.06 828.73 1220.88 832.48 1218.53Z" fill="#1f5fb0"/>
<path d="M773.39 1226.97C774.8 1225.38 776.02 1226.97 781.83 1229.79C787.65 1232.6 792.24 1233.82 790.84 1235.41C789.43 1237.01 783.43 1237.38 777.61 1234.57C771.8 1231.76 771.99 1228.57 773.39 1226.97Z" fill="#1f5fb0"/>
</g>
<g filter="url(#sb)">
<path d="M822.63 1224.16C825.44 1222.94 829.19 1223.31 833.88 1224.72C838.57 1226.13 839.51 1227.16 836.7 1228.38C833.88 1229.6 830.13 1229.79 825.44 1228.38C820.75 1226.97 819.82 1225.38 822.63 1224.16Z" fill="#d4d4d5"/>
<path d="M583.49 1212.91C587.24 1203.06 585.36 1209.62 597.55 1205.87C609.75 1202.12 611.15 1197.43 620.06 1201.65C628.97 1205.87 623.34 1207.28 624.28 1218.53C625.22 1229.79 626.16 1226.03 622.87 1235.41C619.59 1244.79 622.87 1241.98 614.43 1246.67C605.99 1251.36 606.93 1253.23 597.55 1249.48C588.18 1245.73 590.99 1247.6 586.3 1235.41C581.61 1223.22 579.73 1222.75 583.49 1212.91Z" fill="#8c8c8c"/>
</g>
<g filter="url(#se)">
<path d="M504.71 1251.73C504.71 1250.14 510.34 1249.39 524.4 1248.92C538.47 1248.45 532.84 1248.73 546.91 1250.32C560.98 1251.92 560.04 1251.17 566.61 1253.7C573.17 1256.23 573.17 1257.45 566.61 1257.92C560.04 1258.39 560.98 1256.51 546.91 1255.11C532.84 1253.7 538.47 1254.83 524.4 1253.7C510.34 1252.57 504.71 1253.33 504.71 1251.73Z" fill="#8c564b"/>
<path d="M503.3 1277.61C503.3 1276.02 509.87 1277.15 524.4 1273.39C538.94 1269.64 532.84 1269.64 546.91 1266.36C560.98 1263.08 560.04 1262.42 566.61 1263.55C573.17 1264.67 573.17 1266.74 566.61 1269.74C560.04 1272.74 560.98 1269.74 546.91 1272.55C532.84 1275.36 538.94 1276.49 524.4 1278.18C509.87 1279.87 503.3 1279.21 503.3 1277.61Z" fill="#8c564b"/>
</g>
<g filter="url(#sb)">
<path d="M636.94 1249.48C638.82 1240.1 644.44 1244.79 653.82 1235.41C663.2 1226.03 657.57 1226.97 665.08 1221.35C672.58 1215.72 668.83 1216.66 676.33 1218.53C683.83 1220.41 676.33 1220.41 687.58 1226.97C698.84 1233.54 696.96 1232.6 710.09 1238.23C723.22 1243.85 720.41 1237.29 726.97 1243.85C733.54 1250.42 733.54 1249.48 729.79 1257.92C726.03 1266.36 726.03 1263.55 715.72 1269.17C705.4 1274.8 710.09 1276.68 698.84 1274.8C687.58 1272.93 693.21 1268.24 681.96 1263.55C670.7 1258.86 676.33 1260.73 665.08 1260.73C653.82 1260.73 657.57 1267.3 648.2 1263.55C638.82 1259.8 635.07 1258.86 636.94 1249.48Z" fill="#d4d4d5"/>
<path d="M648.2 1235.41C650.07 1233.54 652.88 1234.48 665.08 1238.23C677.27 1241.98 671.64 1241.98 684.77 1246.67C697.9 1251.36 692.27 1250.42 704.46 1252.29C716.66 1254.17 712.91 1250.42 721.35 1252.29C729.79 1254.17 733.54 1255.11 729.79 1257.92C726.03 1260.73 726.03 1262.61 710.09 1260.73C694.15 1258.86 698.84 1257.92 681.96 1252.29C665.08 1246.67 670.7 1249.48 659.45 1243.85C648.2 1238.23 646.32 1237.29 648.2 1235.41Z" fill="#f06a1c"/>
</g>
<g filter="url(#se)">
<path d="M662.26 1219.94C662.73 1216.66 666.01 1216.19 670.7 1217.13C675.39 1218.06 676.8 1219.47 676.33 1222.75C675.86 1226.03 673.99 1227.91 669.3 1226.97C664.61 1226.03 661.79 1223.22 662.26 1219.94Z" fill="#f06a1c"/>
</g>
<g filter="url(#sl)">
<path d="M636.94 1243.85C640.69 1234.48 644.44 1234.48 659.45 1232.6C674.45 1230.72 666.95 1233.54 681.96 1238.23C696.96 1242.92 689.46 1242.92 704.46 1246.67C719.47 1250.42 721.35 1242.92 726.97 1249.48C732.6 1256.04 730.72 1258.86 721.35 1266.36C711.97 1273.86 715.72 1273.86 698.84 1271.99C681.96 1270.11 687.58 1264.49 670.7 1260.73C653.82 1256.98 659.45 1266.36 648.2 1260.73C636.94 1255.11 633.19 1253.23 636.94 1243.85Z" fill="#7a6b57"/>
<path d="M642.57 1232.6C644.44 1223.22 651.95 1223.22 665.08 1221.35C678.21 1219.47 672.58 1219.47 681.96 1226.97C691.34 1234.48 693.21 1234.48 693.21 1243.85C693.21 1253.23 693.21 1253.23 681.96 1255.11C670.7 1256.98 672.58 1256.98 659.45 1249.48C646.32 1241.98 640.69 1241.98 642.57 1232.6Z" fill="#f06a1c"/>
</g>
<g filter="url(#sb)">
<path d="M558.17 1263.55C562.85 1255.11 561.92 1256.98 575.05 1252.29C588.18 1247.6 582.55 1248.54 597.55 1249.48C612.56 1250.42 606.93 1250.42 620.06 1255.11C633.19 1259.8 625.69 1254.17 636.94 1263.55C648.2 1272.93 647.26 1271.99 653.82 1283.24C660.39 1294.5 659.45 1290.28 656.64 1297.31C653.82 1304.34 654.76 1302.94 645.38 1304.34C636 1305.75 638.82 1306.69 628.5 1301.53C618.19 1296.37 624.75 1295.43 614.43 1288.87C604.12 1282.3 610.68 1283.71 597.55 1281.83C584.42 1279.96 587.24 1284.65 575.05 1283.24C562.85 1281.83 566.61 1284.18 560.98 1277.61C555.35 1271.05 553.48 1271.99 558.17 1263.55Z" fill="#7a6b57"/>
</g>
<g filter="url(#se)">
<path d="M563.79 1269.17C565.67 1263.08 567.54 1262.61 580.67 1260.73C593.8 1258.86 589.11 1259.8 603.18 1263.55C617.25 1267.3 609.75 1264.49 622.87 1271.99C636 1279.49 633.19 1277.61 642.57 1286.06C651.95 1294.5 652.88 1292.62 651.01 1297.31C649.13 1302 647.26 1303.87 636.94 1300.12C626.63 1296.37 633.19 1293.56 620.06 1286.06C606.93 1278.55 612.56 1279.96 597.55 1277.61C582.55 1275.27 586.3 1281.83 575.05 1279.02C563.79 1276.21 561.92 1275.27 563.79 1269.17Z" fill="#7a6b57" opacity="0.75"/>
</g>
<g filter="url(#rb)">
<path d="M1089.63 1100C1094.53 1093.15 1091.59 1099.02 1101.38 1092.66C1111.16 1086.3 1106.27 1087.28 1118.99 1080.92C1131.71 1074.56 1127.8 1076.32 1139.54 1073.58C1151.28 1070.84 1151.28 1069.27 1154.22 1072.7C1157.16 1076.12 1153.24 1075.24 1148.35 1083.85C1143.46 1092.46 1145.41 1088.75 1139.54 1098.53C1133.67 1108.32 1135.63 1105.38 1130.73 1113.21C1125.84 1121.04 1132.69 1120.06 1124.86 1122.02C1117.03 1123.98 1117.03 1119.08 1107.25 1119.08C1097.46 1119.08 1102.35 1123.98 1095.5 1122.02C1088.65 1120.06 1088.65 1120.55 1086.7 1113.21C1084.74 1105.87 1084.74 1106.85 1089.63 1100Z" fill="#c0c3db"/>
<path d="M1007.09 1146.12C1008.28 1133.7 1007.09 1137.25 1014.19 1130.15C1021.28 1123.06 1018.92 1126.01 1028.38 1124.83C1037.84 1123.65 1034.88 1120.1 1042.57 1126.61C1050.25 1133.11 1047.89 1132.52 1051.44 1144.34C1054.98 1156.17 1052.03 1151.44 1053.21 1162.08C1054.39 1172.72 1057.94 1167.99 1054.98 1176.27C1052.03 1184.55 1052.03 1182.77 1044.34 1186.91C1036.66 1191.05 1040.8 1189.57 1031.93 1188.69C1023.06 1187.8 1024.83 1191.35 1017.74 1184.25C1010.64 1177.16 1014.19 1180.11 1010.64 1167.4C1007.09 1154.69 1005.91 1158.53 1007.09 1146.12Z" fill="#e6cabf"/>
<path d="M1040.8 1126.61C1042.57 1118.92 1043.16 1121.88 1053.21 1121.28C1063.26 1120.69 1060.31 1124.83 1070.95 1124.83C1081.59 1124.83 1075.68 1123.65 1085.14 1121.28C1094.6 1118.92 1089.87 1119.51 1099.33 1117.74C1108.79 1115.96 1104.65 1115.37 1113.52 1115.96C1122.39 1116.55 1121.5 1115.96 1125.93 1119.51C1130.37 1123.06 1130.96 1121.28 1126.82 1126.61C1122.68 1131.93 1122.68 1129.56 1113.52 1135.47C1104.35 1141.39 1108.79 1138.43 1099.33 1144.34C1089.87 1150.25 1093.41 1147.89 1085.14 1153.21C1076.86 1158.53 1080.41 1154.39 1074.5 1160.31C1068.58 1166.22 1072.72 1166.22 1067.4 1170.95C1062.08 1175.68 1063.26 1177.45 1058.53 1174.5C1053.8 1171.54 1056.76 1172.13 1053.21 1162.08C1049.66 1152.03 1052.03 1156.17 1047.89 1144.34C1043.75 1132.52 1039.02 1134.29 1040.8 1126.61Z" fill="#8a90c4"/>
<path d="M1141.9 1170.95C1141.9 1166.69 1147.69 1163.85 1152.54 1163.85C1157.39 1163.85 1156.44 1166.69 1156.44 1170.95C1156.44 1175.2 1157.39 1176.62 1152.54 1176.62C1147.69 1176.62 1141.9 1175.2 1141.9 1170.95Z" fill="#d4d4d5"/>
<path d="M1099.33 1163.85C1100.51 1157.94 1099.33 1160.01 1106.42 1154.98C1113.52 1149.96 1109.97 1151.14 1120.61 1148.78C1131.25 1146.41 1128.3 1145.82 1138.35 1147.89C1148.4 1149.96 1146.03 1150.25 1150.76 1154.98C1155.49 1159.71 1155.49 1156.76 1152.54 1162.08C1149.58 1167.4 1150.17 1166.22 1141.9 1170.95C1133.62 1175.68 1137.17 1173.9 1127.71 1176.27C1118.25 1178.63 1121.79 1179.23 1113.52 1178.04C1105.24 1176.86 1107.6 1177.45 1102.87 1172.72C1098.14 1167.99 1098.14 1169.77 1099.33 1163.85Z" fill="#c67a8a"/>
<path d="M1076.27 1161.19C1078.04 1160.31 1078.52 1160.01 1083.36 1162.97C1088.21 1165.92 1090.22 1167.28 1090.81 1170.06C1091.4 1172.84 1089.39 1172.78 1085.14 1171.3C1080.88 1169.82 1081 1169 1078.04 1165.63C1075.09 1162.26 1074.5 1162.08 1076.27 1161.19Z" fill="#c67a8a"/>
<path d="M1156.09 1243.67C1162.59 1239.53 1159.63 1243.08 1170.28 1241.9C1180.92 1240.71 1177.96 1242.49 1188.01 1240.12C1198.06 1237.76 1192.45 1238.47 1200.43 1234.8C1208.41 1231.14 1211.37 1227.94 1211.96 1229.13C1212.55 1230.31 1210.18 1232.91 1202.2 1238.35C1194.22 1243.79 1198.65 1241.3 1188.01 1245.44C1177.37 1249.58 1180.92 1247.22 1170.28 1250.76C1159.63 1254.31 1162.59 1254.9 1156.09 1256.09C1149.58 1257.27 1150.76 1258.45 1150.76 1254.31C1150.76 1250.17 1149.58 1247.81 1156.09 1243.67Z" fill="#d4d4d5"/>
<path d="M1065.63 1245.44C1065.63 1240.71 1067.99 1238.94 1070.95 1241.9C1073.9 1244.85 1074.5 1249.58 1074.5 1254.31C1074.5 1259.04 1073.9 1259.04 1070.95 1256.09C1067.99 1253.13 1065.63 1250.17 1065.63 1245.44Z" fill="#d4d4d5"/>
<path d="M1017.74 1185.14C1019.51 1178.63 1023.06 1184.55 1031.93 1186.91C1040.8 1189.28 1039.02 1184.55 1044.34 1192.23C1049.66 1199.92 1043.16 1200.51 1047.89 1209.97C1052.62 1219.43 1050.85 1215.88 1058.53 1220.61C1066.22 1225.34 1062.67 1223.57 1070.95 1224.16C1079.23 1224.75 1077.45 1221.2 1083.36 1222.39C1089.28 1223.57 1081 1226.23 1088.69 1227.71C1096.37 1229.18 1094.6 1227.71 1106.42 1226.82C1118.25 1225.93 1112.93 1223.57 1124.16 1225.05C1135.39 1226.52 1132.44 1225.64 1140.12 1231.25C1147.81 1236.87 1140.71 1238.05 1147.22 1241.9C1153.72 1245.74 1148.4 1242.78 1159.63 1242.78C1170.87 1242.78 1172.64 1240.42 1180.92 1241.9C1189.19 1243.37 1191.56 1244.26 1184.46 1247.22C1177.37 1250.17 1170.87 1248.4 1159.63 1250.76C1148.4 1253.13 1156.68 1251.36 1150.76 1254.31C1144.85 1257.27 1150.76 1257.86 1141.9 1259.63C1133.03 1261.41 1134.8 1256.09 1124.16 1259.63C1113.52 1263.18 1118.25 1264.36 1109.97 1270.28C1101.69 1276.19 1107.6 1278.55 1099.33 1277.37C1091.05 1276.19 1093.41 1274.41 1085.14 1266.73C1076.86 1259.04 1079.23 1262.59 1074.5 1254.31C1069.77 1246.03 1076.27 1247.81 1070.95 1241.9C1065.63 1235.98 1069.17 1242.49 1058.53 1236.57C1047.89 1230.66 1049.66 1234.21 1039.02 1224.16C1028.38 1214.11 1033.7 1219.43 1026.61 1206.42C1019.51 1193.41 1015.96 1191.64 1017.74 1185.14Z" fill="#22b6c8"/>
<path d="M1044.34 1192.23C1047.89 1184.55 1049.66 1187.5 1058.53 1186.91C1067.4 1186.32 1062.08 1187.21 1070.95 1190.46C1079.82 1193.71 1075.68 1195.48 1085.14 1196.67C1094.6 1197.85 1089.28 1194.6 1099.33 1194.01C1109.38 1193.41 1104.06 1195.19 1115.29 1194.89C1126.52 1194.6 1127.71 1191.64 1133.03 1193.12C1138.35 1194.6 1136.57 1195.78 1131.25 1199.33C1125.93 1202.87 1127.71 1201.4 1117.06 1203.76C1106.42 1206.13 1108.79 1203.17 1099.33 1206.42C1089.87 1209.67 1094.6 1208.2 1088.69 1213.52C1082.77 1218.84 1087.5 1218.84 1081.59 1222.39C1075.68 1225.93 1078.63 1224.75 1070.95 1224.16C1063.26 1223.57 1066.22 1225.34 1058.53 1220.61C1050.85 1215.88 1052.62 1219.43 1047.89 1209.97C1043.16 1200.51 1040.8 1199.92 1044.34 1192.23Z" fill="#2a96d8" opacity="0.85"/>
<path d="M1070.95 1195.78C1074.5 1192.82 1075.68 1197.85 1085.14 1197.55C1094.6 1197.26 1089.28 1195.6 1099.33 1194.89C1109.38 1194.18 1104.06 1195.9 1115.29 1195.43C1126.52 1194.95 1127.71 1192.29 1133.03 1193.47C1138.35 1194.66 1136.57 1195.72 1131.25 1198.97C1125.93 1202.22 1127.71 1200.98 1117.06 1203.23C1106.42 1205.48 1109.97 1203.47 1099.33 1205.71C1088.69 1207.96 1093.41 1209.73 1085.14 1209.97C1076.86 1210.21 1079.23 1211.15 1074.5 1206.42C1069.77 1201.69 1067.4 1198.74 1070.95 1195.78Z" fill="#1e7fe0"/>
<path d="M1085.14 1284.46C1086.32 1281.51 1088.69 1283.87 1095.78 1286.24C1102.87 1288.6 1098.14 1287.42 1106.42 1291.56C1114.7 1295.7 1112.33 1294.52 1120.61 1298.65C1128.89 1302.79 1128.3 1299.25 1131.25 1303.98C1134.21 1308.71 1132.44 1307.52 1129.48 1312.84C1126.52 1318.17 1128.3 1314.91 1122.39 1319.94C1116.47 1324.96 1116.47 1328.51 1111.74 1327.92C1107.01 1327.33 1110.56 1325.56 1108.2 1318.17C1105.83 1310.77 1109.97 1313.44 1104.65 1305.75C1099.33 1298.06 1098.74 1302.2 1092.23 1295.11C1085.73 1288.01 1083.96 1287.42 1085.14 1284.46Z" fill="#cfc0c2"/>
<path d="M1099.33 1279.14C1100.51 1274.41 1101.69 1274.41 1113.52 1273.82C1125.34 1273.23 1122.39 1274.41 1134.8 1277.37C1147.22 1280.33 1143.67 1276.78 1150.76 1282.69C1157.86 1288.6 1149.58 1289.79 1156.09 1295.11C1162.59 1300.43 1169.09 1296.29 1170.28 1298.65C1171.46 1301.02 1162.47 1296.76 1159.63 1302.2C1156.8 1307.64 1164.72 1312.61 1161.76 1314.97C1158.81 1317.34 1158.57 1313.55 1150.76 1309.3C1142.96 1305.04 1147.22 1306.93 1138.35 1302.2C1129.48 1297.47 1133.62 1299.84 1124.16 1295.11C1114.7 1290.38 1118.25 1293.33 1109.97 1288.01C1101.69 1282.69 1098.14 1283.87 1099.33 1279.14Z" fill="#8a9bd0"/>
<path d="M1102.87 1238.35C1111.15 1231.25 1108.79 1231.25 1120.61 1229.48C1132.44 1227.71 1129.48 1228.3 1138.35 1233.03C1147.22 1237.76 1143.08 1236.57 1147.22 1243.67C1151.36 1250.76 1152.54 1248.4 1150.76 1254.31C1148.99 1260.22 1149.58 1257.27 1141.9 1261.41C1134.21 1265.55 1136.57 1262 1127.71 1266.73C1118.84 1271.46 1122.98 1271.46 1115.29 1275.6C1107.6 1279.73 1110.56 1282.1 1104.65 1279.14C1098.74 1276.19 1100.51 1276.19 1097.55 1266.73C1094.6 1257.27 1094.01 1260.22 1095.78 1250.76C1097.55 1241.3 1094.6 1245.44 1102.87 1238.35Z" fill="#8b80aa" opacity="0.8"/>
<path d="M1120.61 1259.63C1123.57 1255.49 1124.16 1256.09 1131.25 1256.09C1138.35 1256.09 1135.39 1256.09 1141.9 1259.63C1148.4 1263.18 1143.67 1263.48 1150.76 1266.73C1157.86 1269.98 1154.31 1267.91 1163.18 1269.39C1172.05 1270.87 1177.37 1269.68 1177.37 1271.16C1177.37 1272.64 1171.46 1271.75 1163.18 1273.82C1154.9 1275.89 1160.22 1275.6 1152.54 1277.37C1144.85 1279.14 1148.4 1279.73 1140.12 1279.14C1131.85 1278.55 1133.62 1279.14 1127.71 1275.6C1121.79 1272.05 1124.75 1273.82 1122.39 1268.5C1120.02 1263.18 1117.66 1263.77 1120.61 1259.63Z" fill="#e0306a"/>
<path d="M1159.63 1295.11C1162 1293.92 1169.09 1294.22 1177.37 1295.99C1185.65 1297.77 1186.83 1299.25 1184.46 1300.43C1182.1 1301.61 1178.55 1301.31 1170.28 1299.54C1162 1297.77 1157.27 1296.29 1159.63 1295.11Z" fill="#a9ddd6" opacity="0.8"/>
<path d="M1177.37 1295.11C1179.73 1290.97 1182.1 1292.74 1191.56 1288.01C1201.02 1283.28 1196.29 1285.35 1205.75 1280.92C1215.21 1276.48 1209.3 1277.78 1219.94 1274.71C1230.58 1271.64 1227.03 1270.81 1237.68 1271.69C1248.32 1272.58 1243.59 1273.7 1251.87 1277.37C1260.14 1281.04 1256.6 1276.78 1262.51 1282.69C1268.42 1288.6 1265.76 1287.42 1269.6 1295.11C1273.45 1302.79 1275.22 1299.84 1274.04 1305.75C1272.85 1311.66 1274.63 1309 1266.06 1312.84C1257.48 1316.69 1260.14 1315.5 1248.32 1317.28C1236.49 1319.05 1242.41 1319.05 1230.58 1318.17C1218.76 1317.28 1224.67 1318.17 1212.84 1314.62C1201.02 1311.07 1204.57 1312.25 1195.11 1307.52C1185.65 1302.79 1190.38 1304.57 1184.46 1300.43C1178.55 1296.29 1175.01 1299.25 1177.37 1295.11Z" fill="#a9ddd6"/>
<path d="M1113.52 1311.07C1115.59 1307.82 1115.88 1307.82 1120.61 1307.52C1125.34 1307.23 1125.64 1306.93 1127.71 1310.18C1129.78 1313.44 1129.18 1313.73 1126.82 1317.28C1124.45 1320.83 1124.75 1320.83 1120.61 1320.83C1116.47 1320.83 1116.77 1320.53 1114.4 1317.28C1112.04 1314.03 1111.45 1314.32 1113.52 1311.07Z" fill="#4fdc64" opacity="0.9"/>
<path d="M1207.52 1168.29C1208.71 1164.15 1208.71 1164.44 1212.84 1158.53C1216.98 1152.62 1214.03 1154.39 1219.94 1150.55C1225.85 1146.71 1223.78 1148.36 1230.58 1147C1237.38 1145.64 1238.56 1143.81 1240.34 1146.47C1242.11 1149.13 1240.34 1150.08 1235.9 1154.98C1231.47 1159.89 1233.54 1157.35 1227.03 1161.19C1220.53 1165.04 1222.3 1163.26 1216.39 1166.51C1210.48 1169.77 1212.25 1170.36 1209.3 1170.95C1206.34 1171.54 1206.34 1172.43 1207.52 1168.29Z" fill="#1554a8"/>
<path d="M1273.12 1142.57C1274.1 1133.76 1274.1 1134.74 1280.46 1127.89C1286.82 1121.04 1284.37 1123.78 1292.2 1122.02C1300.03 1120.26 1301.01 1118.69 1303.94 1122.61C1306.88 1126.52 1302.97 1126.13 1301.01 1133.76C1299.05 1141.39 1301.99 1137.68 1298.07 1145.5C1294.16 1153.33 1295.14 1149.42 1289.27 1157.25C1283.39 1165.08 1284.37 1169.97 1280.46 1168.99C1276.54 1168.01 1279.97 1163.12 1277.52 1154.31C1275.08 1145.5 1272.14 1151.38 1273.12 1142.57Z" fill="#ee7e90"/>
<path d="M1261.38 1180.73C1263.33 1178.09 1265.09 1178.29 1271.65 1174.86C1278.21 1171.44 1278.89 1170.26 1281.05 1170.46C1283.2 1170.65 1283.2 1171.34 1278.11 1175.45C1273.02 1179.56 1271.36 1181.03 1265.78 1182.79C1260.2 1184.55 1259.42 1183.38 1261.38 1180.73Z" fill="#e0607a"/>
<path d="M1271.65 1214.5C1271.65 1208.13 1273.61 1209.11 1283.39 1204.22C1293.18 1199.33 1289.27 1200.31 1301.01 1199.82C1312.75 1199.33 1309.82 1198.35 1318.62 1202.75C1327.43 1207.16 1326.45 1206.67 1327.43 1213.03C1328.41 1219.39 1330.37 1217.43 1321.56 1221.83C1312.75 1226.24 1313.73 1225.75 1301.01 1226.24C1288.29 1226.73 1293.18 1227.22 1283.39 1223.3C1273.61 1219.39 1271.65 1220.86 1271.65 1214.5Z" fill="#eaaab8"/>
<path d="M1312.75 1198.35C1312.75 1194.43 1314.71 1195.41 1324.5 1189.54C1334.28 1183.67 1330.37 1184.16 1342.11 1180.73C1353.85 1177.31 1355.81 1177.31 1359.72 1179.27C1363.64 1181.22 1360.7 1182.2 1353.85 1186.61C1347 1191.01 1348.96 1187.58 1339.17 1192.48C1329.39 1197.37 1333.3 1199.33 1324.5 1201.28C1315.69 1203.24 1312.75 1202.26 1312.75 1198.35Z" fill="#eaaab8"/>
<circle cx="1314.81" cy="1153.43" r="4.6" fill="none" stroke="#a0003e" stroke-width="2.6"/>
<path d="M1309.82 1160.18C1313.44 1155.29 1315.1 1155.29 1316.28 1160.18C1317.45 1165.08 1315.3 1165.08 1313.34 1174.86C1311.38 1184.65 1308.45 1180.73 1310.4 1189.54C1312.36 1198.35 1320.39 1196.69 1319.21 1201.28C1318.04 1205.88 1312.46 1207.25 1306.88 1203.34C1301.3 1199.43 1302.97 1199.03 1302.48 1189.54C1301.99 1180.05 1302.97 1184.65 1305.41 1174.86C1307.86 1165.08 1306.2 1165.08 1309.82 1160.18Z" fill="#a0003e"/>
<path d="M950.18 1168.99C950.87 1168.01 950.67 1170.95 958.99 1171.93C967.31 1172.91 974.65 1171.14 975.14 1171.93C975.63 1172.71 965.55 1171.14 960.46 1174.28C955.37 1177.41 961.05 1181.13 959.87 1181.32C958.7 1181.52 960.17 1178.97 956.94 1174.86C953.71 1170.75 949.5 1169.97 950.18 1168.99Z" fill="#d08a9a" opacity="0.9"/>
<path d="M1271.65 1226.24C1272.14 1224.77 1276.06 1225.75 1277.52 1227.71C1278.99 1229.66 1278.01 1232.6 1276.06 1232.11C1274.1 1231.62 1271.16 1227.71 1271.65 1226.24Z" fill="#d4d4d5"/>
</g>
<g filter="url(#sb)">
<path d="M1031.93 1126.61C1035.47 1118.33 1037.84 1118.92 1046.12 1124.83C1054.39 1130.74 1052.62 1130.15 1056.76 1144.34C1060.9 1158.53 1059.71 1156.17 1058.53 1167.4C1057.35 1178.63 1058.53 1176.86 1053.21 1178.04C1047.89 1179.23 1048.48 1180.41 1042.57 1170.95C1036.66 1161.49 1039.02 1164.44 1035.47 1149.66C1031.93 1134.88 1028.38 1134.88 1031.93 1126.61Z" fill="#8a90c4"/>
<path d="M1088.69 1103.55C1093.41 1097.04 1093.41 1101.18 1106.42 1100C1119.43 1098.82 1121.79 1093.5 1127.71 1100C1133.62 1106.5 1131.25 1112.42 1124.16 1119.51C1117.06 1126.61 1117.06 1121.28 1106.42 1121.28C1095.78 1121.28 1098.14 1125.42 1092.23 1119.51C1086.32 1113.6 1083.96 1110.05 1088.69 1103.55Z" fill="#8a90c4"/>
<path d="M1014.19 1176.27C1017.74 1171.54 1021.28 1178.04 1035.47 1178.04C1049.66 1178.04 1048.48 1172.72 1056.76 1176.27C1065.04 1179.82 1063.85 1182.18 1060.31 1188.69C1056.76 1195.19 1057.94 1194.6 1046.12 1195.78C1034.29 1196.96 1035.47 1198.74 1024.83 1192.23C1014.19 1185.73 1010.64 1181 1014.19 1176.27Z" fill="#22b6c8"/>
<path d="M1035.47 1192.23C1040.2 1185.14 1040.2 1186.32 1053.21 1185.14C1066.22 1183.96 1063.85 1181.59 1074.5 1188.69C1085.14 1195.78 1081.59 1194.6 1085.14 1206.42C1088.69 1218.25 1091.05 1217.06 1085.14 1224.16C1079.23 1231.25 1079.23 1228.89 1067.4 1227.71C1055.58 1226.52 1059.12 1227.71 1049.66 1220.61C1040.2 1213.52 1043.75 1215.88 1039.02 1206.42C1034.29 1196.96 1030.74 1199.33 1035.47 1192.23Z" fill="#1e7fe0"/>
</g>
<g filter="url(#sl)">
<path d="M1021.28 1185.14C1024.24 1175.68 1027.79 1181.59 1044.34 1188.69C1060.9 1195.78 1054.98 1194.6 1070.95 1206.42C1086.91 1218.25 1080.41 1214.7 1092.23 1224.16C1104.06 1233.62 1107.6 1228.89 1106.42 1234.8C1105.24 1240.71 1103.47 1241.9 1088.69 1241.9C1073.9 1241.9 1079.82 1243.08 1062.08 1234.8C1044.34 1226.52 1049.07 1233.62 1035.47 1217.06C1021.88 1200.51 1018.33 1194.6 1021.28 1185.14Z" fill="#22b6c8"/>
</g>
<g filter="url(#sb)">
<path d="M1099.33 1234.8C1108.2 1227.12 1107.01 1228.89 1120.61 1227.71C1134.21 1226.52 1130.66 1225.34 1140.12 1231.25C1149.58 1237.17 1148.4 1235.98 1148.99 1245.44C1149.58 1254.9 1150.17 1253.13 1141.9 1259.63C1133.62 1266.14 1135.98 1259.04 1124.16 1264.95C1112.33 1270.87 1115.88 1276.78 1106.42 1277.37C1096.96 1277.96 1099.92 1275.6 1095.78 1266.73C1091.64 1257.86 1092.82 1261.41 1094.01 1250.76C1095.19 1240.12 1090.46 1242.49 1099.33 1234.8Z" fill="#22b6c8"/>
</g>
<g filter="url(#sl)">
<path d="M1106.42 1241.9C1112.33 1234.8 1114.7 1235.98 1127.71 1238.35C1140.71 1240.71 1140.71 1240.71 1145.44 1248.99C1150.17 1257.27 1148.99 1256.09 1141.9 1263.18C1134.8 1270.28 1134.8 1271.46 1124.16 1270.28C1113.52 1269.09 1115.88 1269.09 1109.97 1259.63C1104.06 1250.17 1100.51 1248.99 1106.42 1241.9Z" fill="#e0306a"/>
</g>
<g filter="url(#sb)">
<path d="M1085.14 1282.69C1089.28 1280.92 1092.23 1281.51 1099.33 1284.46C1106.42 1287.42 1107.6 1288.6 1106.42 1291.56C1105.24 1294.52 1102.28 1293.92 1095.78 1293.33C1089.28 1292.74 1090.46 1293.33 1086.91 1289.79C1083.36 1286.24 1081 1284.46 1085.14 1282.69Z" fill="#22b6c8"/>
</g>
<g filter="url(#sl)">
<path d="M1280.46 1145.5C1286.33 1134.74 1291.22 1136.7 1301.01 1142.57C1310.8 1148.44 1307.86 1147.46 1309.82 1163.12C1311.77 1178.78 1309.82 1175.84 1306.88 1189.54C1303.94 1203.24 1308.84 1199.33 1301.01 1204.22C1293.18 1209.11 1289.27 1214.01 1283.39 1204.22C1277.52 1194.43 1284.37 1194.43 1283.39 1174.86C1282.42 1155.29 1274.59 1156.27 1280.46 1145.5Z" fill="#ee7e90"/>
<path d="M1067.4 1170.95C1069.77 1162.08 1074.5 1162.67 1085.14 1156.76C1095.78 1150.85 1094.6 1147.3 1099.33 1153.21C1104.06 1159.12 1094.6 1165.04 1099.33 1174.5C1104.06 1183.96 1113.52 1178.04 1113.52 1181.59C1113.52 1185.14 1111.15 1184.55 1099.33 1185.14C1087.5 1185.73 1088.69 1188.09 1078.04 1183.36C1067.4 1178.63 1065.04 1179.82 1067.4 1170.95Z" fill="#c0a0b0"/>
<path d="M1156.09 1282.69C1160.22 1280.92 1160.82 1283.87 1170.28 1288.01C1179.73 1292.15 1184.46 1292.15 1184.46 1295.11C1184.46 1298.06 1179.14 1297.47 1170.28 1296.88C1161.41 1296.29 1162.59 1298.06 1157.86 1293.33C1153.13 1288.6 1151.95 1284.46 1156.09 1282.69Z" fill="#8a9bd0"/>
<path d="M1241.22 1149.66C1251.87 1148.9 1262.51 1148.72 1273.15 1148.78C1283.79 1148.84 1283.79 1149.07 1273.15 1149.84C1262.51 1150.61 1251.87 1151.14 1241.22 1151.08C1230.58 1151.02 1230.58 1150.43 1241.22 1149.66Z" fill="#8a90b0"/>
</g>
<g filter="url(#rb)">
<path d="M1453.54 1154.79C1452.79 1157.8 1455.05 1165.32 1460.31 1181.87C1465.58 1198.42 1461.06 1190.9 1469.34 1204.44C1477.61 1217.98 1475.36 1211.96 1485.14 1222.5C1494.92 1233.03 1489.65 1229.27 1498.68 1236.04C1507.71 1242.81 1506.95 1248.83 1512.22 1242.81C1517.49 1236.79 1523.5 1233.78 1514.48 1217.98C1505.45 1202.18 1502.44 1210.46 1485.14 1195.41C1467.83 1180.37 1473.1 1186.39 1462.57 1172.84C1452.04 1159.3 1454.29 1151.78 1453.54 1154.79Z" fill="#d4d4d5"/>
<path d="M1534.79 1100.62C1537.05 1095.36 1537.05 1097.61 1546.07 1091.6C1555.1 1085.58 1550.59 1087.83 1561.87 1082.57C1573.16 1077.3 1566.99 1078.96 1579.93 1075.8C1592.87 1072.64 1595.42 1070.08 1600.69 1073.09C1605.96 1076.1 1600.39 1076.4 1595.72 1084.83C1591.06 1093.25 1592.72 1089.34 1586.7 1098.37C1580.68 1107.39 1582.18 1102.88 1577.67 1111.91C1573.16 1120.94 1578.42 1122.44 1573.16 1125.45C1567.89 1128.46 1569.39 1126.2 1561.87 1120.94C1554.35 1115.67 1558.11 1114.17 1550.59 1109.65C1543.06 1105.14 1544.57 1110.4 1539.3 1107.39C1534.04 1104.39 1532.53 1105.89 1534.79 1100.62Z" fill="#c0c3db"/>
<path d="M1452.41 1150.28C1452.79 1137.49 1451.66 1142.38 1458.06 1134.48C1464.45 1126.58 1461.06 1129.96 1471.6 1126.58C1482.13 1123.19 1478.37 1123.94 1489.65 1124.32C1500.94 1124.7 1497.17 1122.82 1505.45 1127.71C1513.72 1132.6 1510.72 1129.21 1514.48 1138.99C1518.24 1148.77 1517.49 1145.76 1516.73 1157.05C1515.98 1168.33 1516.73 1163.06 1512.22 1172.84C1507.71 1182.62 1510.72 1178.86 1503.19 1186.39C1495.67 1193.91 1498.68 1190.9 1489.65 1195.41C1480.62 1199.93 1484.39 1201.43 1476.11 1199.93C1467.83 1198.42 1471.22 1199.93 1464.83 1190.9C1458.43 1181.87 1461.06 1186.39 1456.93 1172.84C1452.79 1159.3 1452.04 1163.06 1452.41 1150.28Z" fill="#e6cabf"/>
<path d="M1512.22 1134.48C1516.73 1125.45 1516.73 1130.72 1525.76 1123.19C1534.79 1115.67 1530.28 1116.42 1539.3 1111.91C1548.33 1107.39 1543.82 1108.15 1552.84 1109.65C1561.87 1111.16 1559.24 1111.16 1566.39 1116.42C1573.53 1121.69 1574.28 1119.43 1574.28 1125.45C1574.28 1131.47 1573.53 1129.96 1566.39 1134.48C1559.24 1138.99 1561.87 1134.48 1552.84 1138.99C1543.82 1143.5 1546.83 1142 1539.3 1148.02C1531.78 1154.04 1537.05 1153.28 1530.28 1157.05C1523.5 1160.81 1525.01 1161.56 1518.99 1159.3C1512.97 1157.05 1514.48 1158.55 1512.22 1150.28C1509.96 1142 1507.71 1143.5 1512.22 1134.48Z" fill="#8a90c4"/>
<path d="M1534.79 1195.41C1539.3 1192.4 1540.81 1195.79 1552.84 1195.41C1564.88 1195.04 1561.12 1195.04 1570.9 1194.28C1580.68 1193.53 1580.68 1191.28 1582.18 1193.16C1583.69 1195.04 1583.69 1196.17 1575.41 1199.93C1567.14 1203.69 1569.39 1202.94 1557.36 1204.44C1545.32 1205.94 1546.83 1207.45 1539.3 1204.44C1531.78 1201.43 1530.28 1198.42 1534.79 1195.41Z" fill="#d4d4d5"/>
<path d="M1531.4 1172.84C1532.91 1166.45 1532.16 1166.83 1539.3 1159.3C1546.45 1151.78 1542.31 1154.41 1552.84 1150.28C1563.38 1146.14 1558.86 1147.27 1570.9 1146.89C1582.94 1146.51 1579.17 1145.01 1588.95 1149.15C1598.73 1153.28 1595.57 1151.4 1600.24 1159.3C1604.9 1167.2 1603.7 1166.83 1602.95 1172.84C1602.19 1178.86 1604.15 1176.61 1597.98 1177.36C1591.81 1178.11 1594.97 1175.1 1584.44 1175.1C1573.91 1175.1 1578.42 1175.85 1566.39 1177.36C1554.35 1178.86 1558.86 1179.24 1548.33 1179.61C1537.8 1179.99 1540.43 1180.74 1534.79 1178.49C1529.15 1176.23 1529.9 1179.24 1531.4 1172.84Z" fill="#c67a8a"/>
<path d="M1480.62 1204.44C1482.13 1201.43 1486.64 1210.46 1498.68 1217.98C1510.72 1225.5 1503.19 1223.62 1516.73 1227.01C1530.28 1230.39 1524.26 1228.14 1539.3 1228.14C1554.35 1228.14 1548.33 1225.88 1561.87 1227.01C1575.41 1228.14 1569.39 1227.01 1579.93 1231.52C1590.46 1236.04 1581.43 1237.17 1593.47 1240.55C1605.5 1243.94 1600.99 1242.43 1616.04 1241.68C1631.08 1240.93 1624.31 1242.58 1638.61 1238.29C1652.9 1234.01 1655.16 1228.81 1658.92 1228.81C1662.68 1228.81 1658.17 1232.12 1649.89 1238.29C1641.61 1244.46 1645.38 1242.06 1634.09 1247.32C1622.81 1252.59 1626.57 1249.58 1616.04 1254.09C1605.5 1258.61 1613.03 1257.85 1602.5 1260.86C1591.96 1263.87 1596.48 1261.61 1584.44 1263.12C1572.4 1264.62 1578.42 1263.87 1566.39 1265.38C1554.35 1266.88 1558.86 1268.39 1548.33 1267.63C1537.8 1266.88 1543.82 1267.63 1534.79 1263.12C1525.76 1258.61 1529.52 1261.61 1521.25 1254.09C1512.97 1246.57 1518.99 1249.58 1509.96 1240.55C1500.94 1231.52 1503.94 1239.05 1494.17 1227.01C1484.39 1214.97 1479.12 1207.45 1480.62 1204.44Z" fill="#22b6c8"/>
<path d="M1597.98 1269.89C1600.99 1267.48 1602.34 1268.01 1611.52 1267.63C1620.7 1267.26 1624.01 1266.73 1625.52 1268.76C1627.02 1270.79 1623.71 1271.7 1616.04 1273.73C1608.36 1275.76 1608.51 1276.13 1602.5 1274.86C1596.48 1273.58 1594.97 1272.3 1597.98 1269.89Z" fill="#d4d4d5"/>
<path d="M1530.28 1276.66C1532.53 1270.64 1530.28 1271.02 1539.3 1267.63C1548.33 1264.25 1545.32 1267.63 1557.36 1266.5C1569.39 1265.38 1563.38 1265.38 1575.41 1264.25C1587.45 1263.12 1583.69 1259.73 1593.47 1263.12C1603.25 1266.5 1598.73 1265.38 1604.75 1274.4C1610.77 1283.43 1610.77 1281.93 1611.52 1290.2C1612.28 1298.48 1607.76 1291.33 1607.01 1299.23C1606.26 1307.13 1612.28 1310.89 1609.27 1313.9C1606.26 1316.91 1606.26 1310.89 1597.98 1308.26C1589.71 1305.62 1593.47 1303.74 1584.44 1306C1575.41 1308.26 1579.55 1307.5 1570.9 1315.03C1562.25 1322.55 1564.5 1328.57 1558.49 1328.57C1552.47 1328.57 1555.48 1323.3 1552.84 1315.03C1550.21 1306.75 1555.1 1310.51 1550.59 1303.74C1546.07 1296.97 1545.32 1300.73 1539.3 1294.72C1533.28 1288.7 1535.54 1291.71 1532.53 1285.69C1529.52 1279.67 1528.02 1282.68 1530.28 1276.66Z" fill="#d8c0c6"/>
<path d="M1530.28 1281.17C1531.78 1277.79 1534.04 1277.79 1539.3 1282.3C1544.57 1286.82 1545.32 1289.07 1546.07 1294.72C1546.83 1300.36 1545.32 1299.98 1541.56 1299.23C1537.8 1298.48 1538.55 1298.48 1534.79 1292.46C1531.03 1286.44 1528.77 1284.56 1530.28 1281.17Z" fill="#22b6c8"/>
<path d="M1618.29 1296.97C1620.55 1293.21 1622.06 1295.47 1631.83 1290.2C1641.61 1284.94 1636.35 1286.44 1647.63 1281.17C1658.92 1275.91 1653.65 1277.56 1665.69 1274.4C1677.72 1271.24 1672.46 1270.94 1683.74 1271.7C1695.03 1272.45 1689.76 1272.75 1699.54 1276.66C1709.32 1280.57 1707.06 1277.41 1713.08 1283.43C1719.1 1289.45 1714.96 1287.57 1717.6 1294.72C1720.23 1301.86 1723.24 1298.85 1720.98 1304.87C1718.72 1310.89 1720.23 1308.63 1710.83 1312.77C1701.42 1316.91 1704.81 1315.78 1692.77 1317.28C1680.73 1318.79 1686.75 1318.79 1674.72 1317.28C1662.68 1315.78 1668.7 1316.53 1656.66 1312.77C1644.62 1309.01 1649.14 1309.76 1638.61 1306C1628.07 1302.24 1631.83 1304.5 1625.06 1301.49C1618.29 1298.48 1616.04 1300.73 1618.29 1296.97Z" fill="#d4d4d5"/>
<path d="M1710.83 1277.11C1710.3 1275.08 1712.56 1273.28 1714.21 1274.4C1715.87 1275.53 1716.92 1279.59 1715.79 1280.5C1714.66 1281.4 1711.35 1279.14 1710.83 1277.11Z" fill="#d4d4d5"/>
<path d="M1654.4 1172.84C1655.16 1167.95 1654.4 1166.83 1658.92 1159.3C1663.43 1151.78 1661.17 1154.41 1667.94 1150.28C1674.72 1146.14 1672.46 1147.64 1679.23 1146.89C1686 1146.14 1686.75 1145.39 1688.26 1148.02C1689.76 1150.65 1688.26 1150.28 1683.74 1154.79C1679.23 1159.3 1680.73 1157.8 1674.72 1161.56C1668.7 1165.32 1671.71 1161.94 1665.69 1166.07C1659.67 1170.21 1660.42 1171.72 1656.66 1173.97C1652.9 1176.23 1653.65 1177.73 1654.4 1172.84Z" fill="#d4d4d5"/>
<path d="M1688.26 1150.73C1698.04 1149.82 1707.82 1149.45 1717.6 1149.37C1727.38 1149.3 1727.38 1149.6 1717.6 1150.5C1707.82 1151.4 1698.04 1152.01 1688.26 1152.08C1678.48 1152.16 1678.48 1151.63 1688.26 1150.73Z" fill="#d4d4d5"/>
<circle cx="1666.82" cy="1163.14" r="3.2" fill="#1554a8"/>
<path d="M1717.6 1145.76C1717.6 1138.99 1716.84 1141.25 1722.11 1134.48C1727.38 1127.71 1725.87 1129.59 1733.39 1125.45C1740.92 1121.31 1738.81 1122.82 1744.68 1122.06C1750.55 1121.31 1749.49 1119.06 1751 1123.19C1752.5 1127.33 1748.29 1127.71 1749.19 1134.48C1750.1 1141.25 1749.19 1138.99 1753.71 1143.5C1758.22 1148.02 1758.22 1143.5 1762.73 1148.02C1767.25 1152.53 1767.25 1150.28 1767.25 1157.05C1767.25 1163.82 1766.5 1160.06 1762.73 1168.33C1758.97 1176.61 1753.71 1176.61 1755.96 1181.87C1758.22 1187.14 1760.48 1185.26 1769.5 1184.13C1778.53 1183 1774.02 1180.74 1783.05 1178.49C1792.07 1176.23 1789.06 1176.23 1796.59 1177.36C1804.11 1178.49 1807.12 1177.36 1805.61 1181.87C1804.11 1186.39 1801.1 1186.39 1792.07 1190.9C1783.05 1195.41 1785.3 1190.9 1778.53 1195.41C1771.76 1199.93 1773.27 1197.67 1771.76 1204.44C1770.26 1211.21 1776.28 1209.71 1774.02 1215.72C1771.76 1221.74 1772.51 1218.73 1764.99 1222.5C1757.47 1226.26 1761.98 1225.88 1751.45 1227.01C1740.92 1228.14 1742.42 1224.38 1733.39 1225.88C1724.37 1227.39 1728.88 1230.39 1724.37 1231.52C1719.85 1232.65 1721.73 1234.53 1719.85 1229.27C1717.97 1224 1717.22 1223.25 1718.72 1215.72C1720.23 1208.2 1717.97 1211.96 1724.37 1206.7C1730.76 1201.43 1730.39 1205.19 1737.91 1199.93C1745.43 1194.66 1743.17 1198.42 1746.94 1190.9C1750.7 1183.38 1750.7 1185.63 1749.19 1177.36C1747.69 1169.08 1748.44 1171.34 1742.42 1166.07C1736.4 1160.81 1737.91 1165.32 1731.14 1161.56C1724.37 1157.8 1726.62 1160.06 1722.11 1154.79C1717.6 1149.52 1717.6 1152.53 1717.6 1145.76Z" fill="#d4d4d5"/>
<path d="M1706.31 1181.87C1706.31 1180.22 1708.42 1179.99 1715.34 1176.23C1722.26 1172.47 1724.07 1170.81 1727.08 1170.59C1730.08 1170.36 1728.28 1172.02 1724.37 1175.55C1720.46 1179.09 1721.36 1179.09 1715.34 1181.19C1709.32 1183.3 1706.31 1183.53 1706.31 1181.87Z" fill="#d4d4d5"/>
<path d="M1569.77 1199.25C1573.53 1198.87 1577.29 1198.95 1581.06 1199.48C1584.82 1200 1584.82 1200.45 1581.06 1200.83C1577.29 1201.21 1573.53 1201.13 1569.77 1200.6C1566.01 1200.08 1566.01 1199.63 1569.77 1199.25Z" fill="#1554a8"/>
<path d="M1396.32 1170.2C1396.7 1169.27 1396.32 1171.89 1406.15 1172.45C1415.97 1173.01 1424.39 1170.95 1425.8 1171.89C1427.2 1172.82 1416.16 1171.89 1410.36 1175.26C1404.56 1178.62 1410.17 1181.99 1408.39 1181.99C1406.61 1181.99 1409.05 1179.19 1405.02 1175.26C1401 1171.32 1395.95 1171.14 1396.32 1170.2Z" fill="#d4d4d5"/>
</g>
<g filter="url(#sb)">
<path d="M1643.12 1290.2C1646.88 1281.93 1650.64 1282.68 1665.69 1280.05C1680.73 1277.41 1674.72 1277.79 1688.26 1282.3C1701.8 1286.82 1696.16 1285.69 1706.31 1293.59C1716.47 1301.49 1720.98 1299.98 1718.72 1306C1716.47 1312.02 1714.21 1309.76 1699.54 1311.64C1684.87 1313.52 1689.76 1313.9 1674.72 1311.64C1659.67 1309.39 1664.94 1312.02 1654.4 1304.87C1643.87 1297.72 1639.36 1298.48 1643.12 1290.2Z" fill="#a9ddd6"/>
</g>
<g filter="url(#rb)">
<path d="M1656.66 1294.72C1661.17 1289.45 1662.68 1287.94 1674.72 1285.69C1686.75 1283.43 1682.24 1283.43 1692.77 1287.94C1703.3 1292.46 1704.81 1292.83 1706.31 1299.23C1707.82 1305.62 1707.82 1304.5 1697.28 1307.13C1686.75 1309.76 1686.75 1309.01 1674.72 1307.13C1662.68 1305.25 1667.19 1305.62 1661.17 1301.49C1655.16 1297.35 1652.15 1299.98 1656.66 1294.72Z" fill="#a9ddd6" opacity="0.6"/>
</g>
<g filter="url(#sb)">
<path d="M1507.71 1127.71C1513.72 1117.17 1515.23 1126.2 1525.76 1118.68C1536.29 1111.16 1528.77 1114.17 1539.3 1105.14C1549.83 1096.11 1545.32 1097.61 1557.36 1091.6C1569.39 1085.58 1567.89 1082.57 1575.41 1087.08C1582.94 1091.6 1582.94 1094.61 1579.93 1105.14C1576.92 1115.67 1576.92 1108.9 1566.39 1118.68C1555.85 1128.46 1560.37 1123.94 1548.33 1134.48C1536.29 1145.01 1540.81 1140.5 1530.28 1150.28C1519.74 1160.06 1524.26 1163.82 1516.73 1163.82C1509.21 1163.82 1510.72 1162.31 1507.71 1150.28C1504.7 1138.24 1501.69 1138.24 1507.71 1127.71Z" fill="#8a90c4"/>
</g>
<g filter="url(#sl)">
<path d="M1485.14 1127.71C1491.16 1119.43 1497.17 1119.43 1507.71 1125.45C1518.24 1131.47 1514.48 1131.47 1516.73 1145.76C1518.99 1160.06 1520.5 1159.3 1514.48 1168.33C1508.46 1177.36 1506.95 1178.86 1498.68 1172.84C1490.4 1166.83 1494.17 1165.32 1489.65 1150.28C1485.14 1135.23 1479.12 1135.98 1485.14 1127.71Z" fill="#8a90c4"/>
</g>
<g filter="url(#sb)">
<path d="M1462.57 1181.87C1467.08 1175.85 1470.09 1183.38 1485.14 1186.39C1500.18 1189.39 1492.66 1186.39 1507.71 1190.9C1522.75 1195.41 1517.49 1193.91 1530.28 1199.93C1543.06 1205.94 1543.06 1201.43 1546.07 1208.95C1549.08 1216.48 1547.58 1216.48 1539.3 1222.5C1531.03 1228.51 1533.28 1225.5 1521.25 1227.01C1509.21 1228.51 1515.23 1230.02 1503.19 1227.01C1491.16 1224 1495.67 1225.5 1485.14 1217.98C1474.61 1210.46 1479.12 1216.48 1471.6 1204.44C1464.07 1192.4 1458.06 1187.89 1462.57 1181.87Z" fill="#22b6c8"/>
</g>
<g filter="url(#sl)">
<path d="M1460.31 1168.33C1464.83 1160.81 1467.83 1168.33 1485.14 1172.84C1502.44 1177.36 1495.67 1175.1 1512.22 1181.87C1528.77 1188.64 1519.74 1187.14 1534.79 1193.16C1549.83 1199.17 1551.34 1193.16 1557.36 1199.93C1563.38 1206.7 1560.37 1205.94 1552.84 1213.47C1545.32 1220.99 1548.33 1220.99 1534.79 1222.5C1521.25 1224 1527.27 1222.5 1512.22 1217.98C1497.17 1213.47 1503.19 1216.48 1489.65 1208.95C1476.11 1201.43 1481.38 1208.95 1471.6 1195.41C1461.82 1181.87 1455.8 1175.85 1460.31 1168.33Z" fill="#1554a8"/>
<path d="M1458.06 1145.76C1464.07 1135.23 1465.58 1139.74 1480.62 1141.25C1495.67 1142.75 1494.17 1139.74 1503.19 1150.28C1512.22 1160.81 1513.72 1162.31 1507.71 1172.84C1501.69 1183.38 1500.18 1181.87 1485.14 1181.87C1470.09 1181.87 1471.6 1184.88 1462.57 1172.84C1453.54 1160.81 1452.04 1156.29 1458.06 1145.76Z" fill="#22b6c8"/>
<path d="M1514.48 1159.3C1518.99 1152.53 1523.5 1151.03 1530.28 1157.05C1537.05 1163.06 1531.78 1164.57 1534.79 1177.36C1537.8 1190.15 1542.31 1189.39 1539.3 1195.41C1536.29 1201.43 1533.28 1201.43 1525.76 1195.41C1518.24 1189.39 1520.5 1189.39 1516.73 1177.36C1512.97 1165.32 1509.96 1166.07 1514.48 1159.3Z" fill="#d4d4d5"/>
</g>
<g filter="url(#sb)">
<path d="M1534.79 1269.89C1539.3 1260.86 1542.31 1269.14 1557.36 1267.63C1572.4 1266.13 1566.39 1265.38 1579.93 1265.38C1593.47 1265.38 1588.95 1260.86 1597.98 1267.63C1607.01 1274.4 1603.62 1271.39 1607.01 1285.69C1610.39 1299.98 1612.65 1304.5 1608.14 1310.51C1603.62 1316.53 1604.38 1307.5 1593.47 1303.74C1582.56 1299.98 1587.45 1299.23 1575.41 1299.23C1563.38 1299.23 1567.89 1305.25 1557.36 1303.74C1546.83 1302.24 1551.34 1306 1543.82 1294.72C1536.29 1283.43 1530.28 1278.92 1534.79 1269.89Z" fill="#22b6c8" opacity="0.8"/>
</g>
<g filter="url(#sl)">
<path d="M1539.3 1272.15C1549.08 1263.12 1554.35 1266.13 1575.41 1267.63C1596.48 1269.14 1591.96 1264.62 1602.5 1276.66C1613.03 1288.7 1616.04 1293.21 1607.01 1303.74C1597.98 1314.28 1591.96 1302.24 1575.41 1308.26C1558.86 1314.28 1567.14 1326.31 1557.36 1321.8C1547.58 1317.28 1552.09 1311.27 1546.07 1294.72C1540.06 1278.17 1529.52 1281.17 1539.3 1272.15Z" fill="#d4d4d5"/>
</g>
<g filter="url(#sb)">
<path d="M1719.85 1136.73C1723.61 1129.96 1724.37 1131.47 1733.39 1127.71C1742.42 1123.94 1742.05 1121.69 1746.94 1125.45C1751.83 1129.21 1749.57 1130.72 1748.06 1138.99C1746.56 1147.27 1748.82 1145.01 1742.42 1150.28C1736.03 1155.54 1735.65 1155.54 1728.88 1154.79C1722.11 1154.04 1725.12 1154.04 1722.11 1148.02C1719.1 1142 1716.09 1143.5 1719.85 1136.73Z" fill="#ee7e90" opacity="0.8"/>
<path d="M1751.45 1150.28C1755.59 1145.76 1760.48 1146.51 1764.99 1152.53C1769.5 1158.55 1768 1157.05 1764.99 1168.33C1761.98 1179.61 1761.23 1181.12 1755.96 1186.39C1750.7 1191.65 1750.32 1190.9 1749.19 1184.13C1748.06 1177.36 1751.83 1177.36 1752.58 1166.07C1753.33 1154.79 1747.31 1154.79 1751.45 1150.28Z" fill="#a0003e" opacity="0.9"/>
<path d="M1722.11 1213.47C1723.61 1206.32 1728.13 1208.95 1737.91 1202.18C1747.69 1195.41 1740.92 1197.67 1751.45 1193.16C1761.98 1188.64 1755.96 1192.4 1769.5 1188.64C1783.05 1184.88 1781.54 1183.38 1792.07 1181.87C1802.61 1180.37 1805.61 1178.86 1801.1 1184.13C1796.59 1189.39 1787.56 1187.14 1778.53 1197.67C1769.5 1208.2 1781.54 1206.7 1774.02 1215.72C1766.5 1224.75 1769.5 1222.12 1755.96 1224.75C1742.42 1227.39 1744.68 1227.39 1733.39 1223.62C1722.11 1219.86 1720.61 1220.61 1722.11 1213.47Z" fill="#eaaab8"/>
</g>
<text x="21.6" y="966.2" font-size="24" font-weight="bold">b</text>
<text x="441.5" y="997.7" font-size="21.6" text-anchor="middle" font-weight="bold">Epidermal cell states</text>
<text x="1370.3" y="998.1" font-size="21.6" text-anchor="middle" font-weight="bold">Dermal cell states</text>
<text x="216.6" y="1035.7" font-size="18.1" text-anchor="middle" font-weight="bold">Prenatal</text>
<text x="685" y="1035.7" font-size="18.2" text-anchor="middle" font-weight="bold">Organoid</text>
<text x="1122.7" y="1039.8" font-size="18.1" text-anchor="middle" font-weight="bold">Prenatal</text>
<text x="1578" y="1038.3" font-size="18.2" text-anchor="middle" font-weight="bold">Organoid</text>
<path d="M903.8 1009V1406" stroke="#000" stroke-width="1.7" stroke-dasharray="23 23.2" fill="none"/>
<g font-size="17.5" font-weight="bold" text-anchor="middle">
<text x="115.91" y="1103.74">4</text>
<text x="265.87" y="1117.81">8</text>
<text x="322.98" y="1122.03">2</text>
<text x="373.35" y="1139.76">11</text>
<text x="114.79" y="1183.65">3</text>
<text x="251.24" y="1212.34">10</text>
<text x="303.85" y="1224.16">1</text>
<text x="125.2" y="1231.19">9</text>
<text x="405.7" y="1255.67">0</text>
<text x="81.59" y="1293.93">7</text>
<text x="143.77" y="1305.75">5</text>
<text x="221.98" y="1305.75">6</text>
<text x="561.82" y="1107.4">4</text>
<text x="709.53" y="1113.87">8</text>
<text x="769.17" y="1122.03">2</text>
<text x="817.57" y="1140.32">11</text>
<text x="565.76" y="1183.65">3</text>
<text x="704.46" y="1210.09">10</text>
<text x="746.67" y="1224.16">1</text>
<text x="572.23" y="1236.82">9</text>
<text x="860.89" y="1255.11">0</text>
<text x="524.4" y="1296.75">7</text>
<text x="667.33" y="1305.75">6</text>
<text x="1164.5" y="1080.33">15</text>
<text x="1071.43" y="1098.53">14</text>
<text x="1000.39" y="1131.41">13</text>
<text x="1167.43" y="1159.6">17</text>
<text x="1289.27" y="1118.2">24</text>
<text x="1336.24" y="1160.18">23</text>
<text x="1230.55" y="1180.73">12</text>
<text x="1148.35" y="1203.34">11</text>
<text x="1343.58" y="1216.55">22</text>
<text x="1050.88" y="1259.41">20</text>
<text x="1196.79" y="1273.21">25</text>
<text x="1286.33" y="1313.43">21</text>
<text x="1087.28" y="1320.18">16</text>
<text x="1173.3" y="1324">18</text>
<text x="1128.39" y="1337.8">19</text>
<text x="1616.14" y="1080.37">15</text>
<text x="1517.04" y="1109.28">14</text>
<text x="1446.01" y="1134.27">13</text>
<text x="1608.28" y="1159.53">17</text>
<text x="1729.83" y="1117.42">24</text>
<text x="1785.14" y="1155.6">23</text>
<text x="1669.48" y="1183.68">12</text>
<text x="1785.14" y="1226.35">22</text>
<text x="1499.63" y="1268.46">20</text>
<text x="1731.8" y="1317.59">21</text>
<text x="1527.42" y="1323.76">16</text>
</g>
<path d="M18 1233V1359.2H142.6" stroke="#000" stroke-width="1.6" fill="none"/>
<path d="M18 1225l-7.4 12.8h14.8zM151.6 1359.2l-12.8 -7.4v14.8z" fill="#000"/>
<text font-size="18" text-anchor="middle" transform="translate(13.4 1324.2) rotate(-90)">UMAP2</text>
<text x="19.7" y="1377" font-size="18">UMAP1</text>
<path d="M469 1233V1359.2H593.8" stroke="#000" stroke-width="1.6" fill="none"/>
<path d="M469 1225l-7.4 12.8h14.8zM602.8 1359.2l-12.8 -7.4v14.8z" fill="#000"/>
<text font-size="18" text-anchor="middle" transform="translate(464.6 1324.2) rotate(-90)">UMAP2</text>
<text x="471" y="1377" font-size="18">UMAP1</text>
<path d="M946.7 1235.2V1360.4H1071.4" stroke="#000" stroke-width="1.6" fill="none"/>
<path d="M946.7 1227.2l-7.4 12.8h14.8zM1080.4 1360.4l-12.8 -7.4v14.8z" fill="#000"/>
<text font-size="18" text-anchor="middle" transform="translate(943.9 1325.4) rotate(-90)">UMAP2</text>
<text x="948.7" y="1378" font-size="18">UMAP1</text>
<path d="M1389.9 1233.8V1360.3H1513.8" stroke="#000" stroke-width="1.6" fill="none"/>
<path d="M1389.9 1225.8l-7.4 12.8h14.8zM1522.8 1360.3l-12.8 -7.4v14.8z" fill="#000"/>
<text font-size="18" text-anchor="middle" transform="translate(1386.3 1325.3) rotate(-90)">UMAP2</text>
<text x="1391.3" y="1377.1" font-size="18">UMAP1</text>
<circle cx="206.9" cy="1422.6" r="16.9" fill="#1f5bb0"/>
<text x="184.9" y="1431.2" font-size="18" text-anchor="end" font-weight="bold">0</text>
<text x="229.6" y="1428.9" font-size="18.3">Periderm</text>
<circle cx="206.9" cy="1458.2" r="16.9" fill="#ef6a1f"/>
<text x="184.9" y="1466.8" font-size="18" text-anchor="end" font-weight="bold">1</text>
<text x="229.6" y="1464.5" font-size="18.3">Immature basal</text>
<circle cx="206.9" cy="1493.4" r="16.9" fill="#0f9e74"/>
<text x="184.9" y="1502" font-size="18" text-anchor="end" font-weight="bold">2</text>
<text x="229.6" y="1499.7" font-size="18.3">Immature suprabasal</text>
<circle cx="206.9" cy="1529" r="16.9" fill="#f00a3a"/>
<text x="184.9" y="1537.6" font-size="18" text-anchor="end" font-weight="bold">3</text>
<text x="229.6" y="1535.3" font-size="18.3"><tspan font-style="italic">DPYSL2</tspan><tspan font-size="8.5" dy="-7.5">+</tspan><tspan dy="7.5"> basal</tspan></text>
<circle cx="206.9" cy="1564.2" r="16.9" fill="#8e5aa8"/>
<text x="184.9" y="1572.8" font-size="18" text-anchor="end" font-weight="bold">4</text>
<text x="229.6" y="1570.5" font-size="18.3"><tspan font-style="italic">POSTN</tspan><tspan font-size="8.5" dy="-7.5">+</tspan><tspan dy="7.5"> basal</tspan></text>
<circle cx="206.9" cy="1599.4" r="16.9" fill="#d6aa8c"/>
<text x="184.9" y="1608" font-size="18" text-anchor="end" font-weight="bold">5</text>
<text x="229.6" y="1605.7" font-size="18.3">Matrix</text>
<circle cx="525.8" cy="1422.6" r="16.9" fill="#766a58"/>
<text x="501.2" y="1431.2" font-size="18" text-anchor="end" font-weight="bold">6</text>
<text x="551.1" y="1428.9" font-size="18.3">Placode</text>
<circle cx="525.8" cy="1458.9" r="16.9" fill="#9e5f57"/>
<text x="501.2" y="1467.5" font-size="18" text-anchor="end" font-weight="bold">7</text>
<text x="551.1" y="1465.2" font-size="18.3">Cuticle/cortex</text>
<circle cx="525.8" cy="1494.5" r="16.9" fill="#e07fb6"/>
<text x="501.2" y="1503.1" font-size="18" text-anchor="end" font-weight="bold">8</text>
<text x="551.1" y="1500.8" font-size="18.3">Outer root sheath</text>
<circle cx="525.8" cy="1530.5" r="16.9" fill="#878787"/>
<text x="501.2" y="1539.1" font-size="18" text-anchor="end" font-weight="bold">9</text>
<text x="551.1" y="1536.8" font-size="18.3">Inner root sheath</text>
<circle cx="525.8" cy="1565.3" r="16.9" fill="#bdb517"/>
<text x="501.2" y="1573.9" font-size="18" text-anchor="end" font-weight="bold">10</text>
<text x="551.1" y="1571.6" font-size="18.3">Companion layer</text>
<circle cx="525.8" cy="1600.9" r="16.9" fill="#12bfd2"/>
<text x="501.2" y="1609.5" font-size="18" text-anchor="end" font-weight="bold">11</text>
<text x="551.1" y="1607.2" font-size="18.3">Suprabasal IFE</text>
<circle cx="994.5" cy="1423" r="16.7" fill="#0e8fe0"/>
<text x="971.4" y="1429.4" font-size="18" text-anchor="end" font-weight="bold">11</text>
<text x="1017.6" y="1429.3" font-size="18.3">Pre-adipocytes</text>
<circle cx="994.5" cy="1459.6" r="16.7" fill="#0a5aa6"/>
<text x="971.4" y="1466" font-size="18" text-anchor="end" font-weight="bold">12</text>
<text x="1017.6" y="1465.9" font-size="18.3">Early adipocytes</text>
<circle cx="994.5" cy="1496.7" r="16.7" fill="#ebcfc4"/>
<text x="971.4" y="1503.1" font-size="18" text-anchor="end" font-weight="bold">13</text>
<text x="1017.6" y="1503" font-size="18.3">Pre-dermal condensate</text>
<circle cx="994.5" cy="1534.3" r="16.7" fill="#8a90c4"/>
<text x="971.4" y="1540.7" font-size="18" text-anchor="end" font-weight="bold">14</text>
<text x="1017.6" y="1540.6" font-size="18.3">Dermal condensate</text>
<circle cx="994.5" cy="1570.9" r="16.7" fill="#c0c3db"/>
<text x="971.4" y="1577.3" font-size="18" text-anchor="end" font-weight="bold">15</text>
<text x="1017.6" y="1577.2" font-size="18.3">Dermal papilla</text>
<circle cx="1316.6" cy="1423" r="16.7" fill="#dcbac2"/>
<text x="1296.7" y="1429.4" font-size="18" text-anchor="end" font-weight="bold">16</text>
<text x="1344" y="1430.8" font-size="18.1"><tspan font-style="italic">FRZB</tspan><tspan font-size="8.5" dy="-7.5">+</tspan><tspan dy="7.5"> early fibroblast</tspan></text>
<circle cx="1316.6" cy="1459.6" r="16.7" fill="#c67a8a"/>
<text x="1296.7" y="1466" font-size="18" text-anchor="end" font-weight="bold">17</text>
<text x="1344" y="1467.4" font-size="18.1"><tspan font-style="italic">HOXC5</tspan><tspan font-size="8.5" dy="-7.5">+</tspan><tspan dy="7.5"> early fibroblast</tspan></text>
<circle cx="1316.6" cy="1496.7" r="16.7" fill="#8a9bd0"/>
<text x="1296.7" y="1503.1" font-size="18" text-anchor="end" font-weight="bold">18</text>
<text x="1344" y="1504.5" font-size="18.1"><tspan font-style="italic">PEAR1</tspan><tspan font-size="8.5" dy="-7.5">+</tspan><tspan dy="7.5"> fibroblast</tspan></text>
<circle cx="1316.6" cy="1534.3" r="16.7" fill="#3edc5e"/>
<text x="1296.7" y="1540.7" font-size="18" text-anchor="end" font-weight="bold">19</text>
<text x="1344" y="1542.1" font-size="18.1">Lymphoid tissue organiser-like</text>
<circle cx="1316.6" cy="1570.9" r="16.7" fill="#10bfc8"/>
<text x="1296.7" y="1577.3" font-size="18" text-anchor="end" font-weight="bold">20</text>
<text x="1344" y="1578.7" font-size="18.1"><tspan font-style="italic">WNT2</tspan><tspan font-size="8.5" dy="-7.5">+</tspan><tspan dy="7.5"> fibroblast</tspan></text>
<circle cx="1654.7" cy="1423" r="16.7" fill="#bfdfc8"/>
<text x="1632.7" y="1429.4" font-size="18" text-anchor="end" font-weight="bold">21</text>
<text x="1677.3" y="1430.8" font-size="17.7">Mural cells</text>
<circle cx="1654.7" cy="1459.6" r="16.7" fill="#eaaab8"/>
<text x="1632.7" y="1466" font-size="18" text-anchor="end" font-weight="bold">22</text>
<text x="1677.3" y="1467.4" font-size="17.7">Myoblasts</text>
<circle cx="1654.7" cy="1496.7" r="16.7" fill="#a0003e"/>
<text x="1632.7" y="1503.1" font-size="18" text-anchor="end" font-weight="bold">23</text>
<text x="1677.3" y="1504.5" font-size="17.7">Early myocytes</text>
<circle cx="1654.7" cy="1534.3" r="16.7" fill="#ee7e90"/>
<text x="1632.7" y="1540.7" font-size="18" text-anchor="end" font-weight="bold">24</text>
<text x="1677.3" y="1542.1" font-size="17.7">Myocytes</text>
<circle cx="1654.7" cy="1570.9" r="16.7" fill="#ee2a72"/>
<text x="1632.7" y="1577.3" font-size="18" text-anchor="end" font-weight="bold">25</text>
<text x="1677.3" y="1578.7" font-size="17.7">Myofibroblasts</text>
</g>
<g id="pc">
<rect x="1124.5" y="45.8" width="616.5" height="675.4" fill="#f7e6da"/>
<rect x="1124.5" y="45.8" width="14.01" height="15.35" fill="#03051a"/>
<rect x="1138.51" y="45.8" width="14.01" height="15.35" fill="#fb0544"/>
<rect x="1152.52" y="45.8" width="14.01" height="15.35" fill="#ef0552"/>
<rect x="1124.5" y="61.15" width="14.01" height="15.35" fill="#fb0544"/>
<rect x="1138.51" y="61.15" width="14.01" height="15.35" fill="#03051a"/>
<rect x="1152.52" y="61.15" width="14.01" height="15.35" fill="#9e125f"/>
<rect x="1124.5" y="76.5" width="14.01" height="15.35" fill="#ef0552"/>
<rect x="1138.51" y="76.5" width="14.01" height="15.35" fill="#9e125f"/>
<rect x="1152.52" y="76.5" width="14.01" height="15.35" fill="#03051a"/>
<rect x="1166.53" y="91.85" width="14.01" height="15.35" fill="#03051a"/>
<rect x="1180.55" y="91.85" width="14.01" height="15.35" fill="#621a52"/>
<rect x="1194.56" y="91.85" width="14.01" height="15.35" fill="#6b1955"/>
<rect x="1166.53" y="107.2" width="14.01" height="15.35" fill="#621a52"/>
<rect x="1180.55" y="107.2" width="14.01" height="15.35" fill="#03051a"/>
<rect x="1194.56" y="107.2" width="14.01" height="15.35" fill="#4e1949"/>
<rect x="1166.53" y="122.55" width="14.01" height="15.35" fill="#6b1955"/>
<rect x="1180.55" y="122.55" width="14.01" height="15.35" fill="#4e1949"/>
<rect x="1194.56" y="122.55" width="14.01" height="15.35" fill="#03051a"/>
<rect x="1208.57" y="137.9" width="14.01" height="15.35" fill="#03051a"/>
<rect x="1222.58" y="137.9" width="14.01" height="15.35" fill="#faa07c"/>
<rect x="1236.59" y="137.9" width="14.01" height="15.35" fill="#fa5c42"/>
<rect x="1250.6" y="137.9" width="14.01" height="15.35" fill="#fa6e50"/>
<rect x="1264.61" y="137.9" width="14.01" height="15.35" fill="#fa6e50"/>
<rect x="1278.62" y="137.9" width="14.01" height="15.35" fill="#f8d2be"/>
<rect x="1208.57" y="153.25" width="14.01" height="15.35" fill="#faa07c"/>
<rect x="1222.58" y="153.25" width="14.01" height="15.35" fill="#03051a"/>
<rect x="1236.59" y="153.25" width="14.01" height="15.35" fill="#faa07c"/>
<rect x="1250.6" y="153.25" width="14.01" height="15.35" fill="#faa07c"/>
<rect x="1264.61" y="153.25" width="14.01" height="15.35" fill="#faa785"/>
<rect x="1208.57" y="168.6" width="14.01" height="15.35" fill="#fa5c42"/>
<rect x="1222.58" y="168.6" width="14.01" height="15.35" fill="#faa07c"/>
<rect x="1236.59" y="168.6" width="14.01" height="15.35" fill="#03051a"/>
<rect x="1250.6" y="168.6" width="14.01" height="15.35" fill="#b30d5e"/>
<rect x="1264.61" y="168.6" width="14.01" height="15.35" fill="#cb085c"/>
<rect x="1278.62" y="168.6" width="14.01" height="15.35" fill="#f9c5ac"/>
<rect x="1208.57" y="183.95" width="14.01" height="15.35" fill="#fa6e50"/>
<rect x="1222.58" y="183.95" width="14.01" height="15.35" fill="#faa07c"/>
<rect x="1236.59" y="183.95" width="14.01" height="15.35" fill="#b30d5e"/>
<rect x="1250.6" y="183.95" width="14.01" height="15.35" fill="#03051a"/>
<rect x="1264.61" y="183.95" width="14.01" height="15.35" fill="#8a1860"/>
<rect x="1278.62" y="183.95" width="14.01" height="15.35" fill="#f9c8b1"/>
<rect x="1208.57" y="199.3" width="14.01" height="15.35" fill="#fa6e50"/>
<rect x="1222.58" y="199.3" width="14.01" height="15.35" fill="#faa785"/>
<rect x="1236.59" y="199.3" width="14.01" height="15.35" fill="#cb085c"/>
<rect x="1250.6" y="199.3" width="14.01" height="15.35" fill="#8a1860"/>
<rect x="1264.61" y="199.3" width="14.01" height="15.35" fill="#03051a"/>
<rect x="1278.62" y="199.3" width="14.01" height="15.35" fill="#f9c2a8"/>
<rect x="1208.57" y="214.65" width="14.01" height="15.35" fill="#f8d2be"/>
<rect x="1236.59" y="214.65" width="14.01" height="15.35" fill="#f9c5ac"/>
<rect x="1250.6" y="214.65" width="14.01" height="15.35" fill="#f9c8b1"/>
<rect x="1264.61" y="214.65" width="14.01" height="15.35" fill="#f9c2a8"/>
<rect x="1278.62" y="214.65" width="14.01" height="15.35" fill="#03051a"/>
<rect x="1320.66" y="214.65" width="14.01" height="15.35" fill="#f8d5c2"/>
<rect x="1348.68" y="214.65" width="14.01" height="15.35" fill="#f9c8b1"/>
<rect x="1362.69" y="214.65" width="14.01" height="15.35" fill="#f8cbb5"/>
<rect x="1376.7" y="214.65" width="14.01" height="15.35" fill="#f8ceb9"/>
<rect x="1292.64" y="230" width="14.01" height="15.35" fill="#03051a"/>
<rect x="1306.65" y="230" width="14.01" height="15.35" fill="#bd0a5e"/>
<rect x="1292.64" y="245.35" width="14.01" height="15.35" fill="#bd0a5e"/>
<rect x="1306.65" y="245.35" width="14.01" height="15.35" fill="#03051a"/>
<rect x="1208.57" y="260.7" width="14.01" height="15.35" fill="#f7e1d3"/>
<rect x="1264.61" y="260.7" width="14.01" height="15.35" fill="#f7e1d3"/>
<rect x="1278.62" y="260.7" width="14.01" height="15.35" fill="#f8d5c2"/>
<rect x="1320.66" y="260.7" width="14.01" height="15.35" fill="#03051a"/>
<rect x="1334.67" y="260.7" width="14.01" height="15.35" fill="#fa8a66"/>
<rect x="1460.77" y="260.7" width="14.01" height="15.35" fill="#f8cbb5"/>
<rect x="1474.78" y="260.7" width="14.01" height="15.35" fill="#f8cbb5"/>
<rect x="1488.8" y="260.7" width="14.01" height="15.35" fill="#f8cbb5"/>
<rect x="1320.66" y="276.05" width="14.01" height="15.35" fill="#fa8a66"/>
<rect x="1334.67" y="276.05" width="14.01" height="15.35" fill="#03051a"/>
<rect x="1278.62" y="291.4" width="14.01" height="15.35" fill="#f9c8b1"/>
<rect x="1348.68" y="291.4" width="14.01" height="15.35" fill="#03051a"/>
<rect x="1362.69" y="291.4" width="14.01" height="15.35" fill="#9e125f"/>
<rect x="1376.7" y="291.4" width="14.01" height="15.35" fill="#da055b"/>
<rect x="1278.62" y="306.75" width="14.01" height="15.35" fill="#f8cbb5"/>
<rect x="1348.68" y="306.75" width="14.01" height="15.35" fill="#9e125f"/>
<rect x="1362.69" y="306.75" width="14.01" height="15.35" fill="#03051a"/>
<rect x="1376.7" y="306.75" width="14.01" height="15.35" fill="#da055b"/>
<rect x="1278.62" y="322.1" width="14.01" height="15.35" fill="#f8ceb9"/>
<rect x="1348.68" y="322.1" width="14.01" height="15.35" fill="#da055b"/>
<rect x="1362.69" y="322.1" width="14.01" height="15.35" fill="#da055b"/>
<rect x="1376.7" y="322.1" width="14.01" height="15.35" fill="#03051a"/>
<rect x="1390.72" y="337.45" width="14.01" height="15.35" fill="#03051a"/>
<rect x="1404.73" y="337.45" width="14.01" height="15.35" fill="#a9105f"/>
<rect x="1418.74" y="337.45" width="14.01" height="15.35" fill="#fa9370"/>
<rect x="1390.72" y="352.8" width="14.01" height="15.35" fill="#a9105f"/>
<rect x="1404.73" y="352.8" width="14.01" height="15.35" fill="#03051a"/>
<rect x="1418.74" y="352.8" width="14.01" height="15.35" fill="#fa9370"/>
<rect x="1390.72" y="368.15" width="14.01" height="15.35" fill="#fa9370"/>
<rect x="1404.73" y="368.15" width="14.01" height="15.35" fill="#fa9370"/>
<rect x="1418.74" y="368.15" width="14.01" height="15.35" fill="#03051a"/>
<rect x="1432.75" y="383.5" width="14.01" height="15.35" fill="#03051a"/>
<rect x="1446.76" y="383.5" width="14.01" height="15.35" fill="#6b1955"/>
<rect x="1432.75" y="398.85" width="14.01" height="15.35" fill="#6b1955"/>
<rect x="1446.76" y="398.85" width="14.01" height="15.35" fill="#03051a"/>
<rect x="1320.66" y="414.2" width="14.01" height="15.35" fill="#f8cbb5"/>
<rect x="1460.77" y="414.2" width="14.01" height="15.35" fill="#03051a"/>
<rect x="1474.78" y="414.2" width="14.01" height="15.35" fill="#e50458"/>
<rect x="1488.8" y="414.2" width="14.01" height="15.35" fill="#f7dbca"/>
<rect x="1320.66" y="429.55" width="14.01" height="15.35" fill="#f8cbb5"/>
<rect x="1460.77" y="429.55" width="14.01" height="15.35" fill="#e50458"/>
<rect x="1474.78" y="429.55" width="14.01" height="15.35" fill="#03051a"/>
<rect x="1488.8" y="429.55" width="14.01" height="15.35" fill="#f8d5c2"/>
<rect x="1320.66" y="444.9" width="14.01" height="15.35" fill="#f8cbb5"/>
<rect x="1460.77" y="444.9" width="14.01" height="15.35" fill="#f7dbca"/>
<rect x="1474.78" y="444.9" width="14.01" height="15.35" fill="#f8d5c2"/>
<rect x="1488.8" y="444.9" width="14.01" height="15.35" fill="#03051a"/>
<rect x="1502.81" y="444.9" width="14.01" height="15.35" fill="#f7decf"/>
<rect x="1516.82" y="444.9" width="14.01" height="15.35" fill="#f7dbca"/>
<rect x="1614.9" y="444.9" width="14.01" height="15.35" fill="#f9bb9f"/>
<rect x="1656.93" y="444.9" width="14.01" height="15.35" fill="#f8d2be"/>
<rect x="1670.94" y="444.9" width="14.01" height="15.35" fill="#f8d8c6"/>
<rect x="1684.95" y="444.9" width="14.01" height="15.35" fill="#f7e1d3"/>
<rect x="1698.97" y="444.9" width="14.01" height="15.35" fill="#f8d2be"/>
<rect x="1712.98" y="444.9" width="14.01" height="15.35" fill="#f9c8b1"/>
<rect x="1726.99" y="444.9" width="14.01" height="15.35" fill="#f9b496"/>
<rect x="1488.8" y="460.25" width="14.01" height="15.35" fill="#f7decf"/>
<rect x="1502.81" y="460.25" width="14.01" height="15.35" fill="#03051a"/>
<rect x="1516.82" y="460.25" width="14.01" height="15.35" fill="#e50458"/>
<rect x="1544.84" y="460.25" width="14.01" height="15.35" fill="#f7decf"/>
<rect x="1488.8" y="475.6" width="14.01" height="15.35" fill="#f7dbca"/>
<rect x="1502.81" y="475.6" width="14.01" height="15.35" fill="#e50458"/>
<rect x="1516.82" y="475.6" width="14.01" height="15.35" fill="#03051a"/>
<rect x="1530.83" y="490.95" width="14.01" height="15.35" fill="#03051a"/>
<rect x="1544.84" y="490.95" width="14.01" height="15.35" fill="#fa7252"/>
<rect x="1558.85" y="490.95" width="14.01" height="15.35" fill="#f7dbca"/>
<rect x="1572.86" y="490.95" width="14.01" height="15.35" fill="#f8d5c2"/>
<rect x="1502.81" y="506.3" width="14.01" height="15.35" fill="#f7decf"/>
<rect x="1530.83" y="506.3" width="14.01" height="15.35" fill="#fa7252"/>
<rect x="1544.84" y="506.3" width="14.01" height="15.35" fill="#03051a"/>
<rect x="1530.83" y="521.65" width="14.01" height="15.35" fill="#f7dbca"/>
<rect x="1558.85" y="521.65" width="14.01" height="15.35" fill="#03051a"/>
<rect x="1572.86" y="521.65" width="14.01" height="15.35" fill="#da055b"/>
<rect x="1530.83" y="537" width="14.01" height="15.35" fill="#f8d5c2"/>
<rect x="1558.85" y="537" width="14.01" height="15.35" fill="#da055b"/>
<rect x="1572.86" y="537" width="14.01" height="15.35" fill="#03051a"/>
<rect x="1586.88" y="552.35" width="14.01" height="15.35" fill="#03051a"/>
<rect x="1600.89" y="552.35" width="14.01" height="15.35" fill="#da055b"/>
<rect x="1586.88" y="567.7" width="14.01" height="15.35" fill="#da055b"/>
<rect x="1600.89" y="567.7" width="14.01" height="15.35" fill="#03051a"/>
<rect x="1488.8" y="583.05" width="14.01" height="15.35" fill="#f9bb9f"/>
<rect x="1614.9" y="583.05" width="14.01" height="15.35" fill="#03051a"/>
<rect x="1726.99" y="583.05" width="14.01" height="15.35" fill="#f7e3d5"/>
<rect x="1628.91" y="598.4" width="14.01" height="15.35" fill="#03051a"/>
<rect x="1642.92" y="598.4" width="14.01" height="15.35" fill="#e50458"/>
<rect x="1656.93" y="598.4" width="14.01" height="15.35" fill="#f7decf"/>
<rect x="1628.91" y="613.75" width="14.01" height="15.35" fill="#e50458"/>
<rect x="1642.92" y="613.75" width="14.01" height="15.35" fill="#03051a"/>
<rect x="1656.93" y="613.75" width="14.01" height="15.35" fill="#f8d5c2"/>
<rect x="1670.94" y="613.75" width="14.01" height="15.35" fill="#f7dbca"/>
<rect x="1488.8" y="629.1" width="14.01" height="15.35" fill="#f8d2be"/>
<rect x="1628.91" y="629.1" width="14.01" height="15.35" fill="#f7decf"/>
<rect x="1642.92" y="629.1" width="14.01" height="15.35" fill="#f8d5c2"/>
<rect x="1656.93" y="629.1" width="14.01" height="15.35" fill="#03051a"/>
<rect x="1670.94" y="629.1" width="14.01" height="15.35" fill="#da055b"/>
<rect x="1726.99" y="629.1" width="14.01" height="15.35" fill="#f7decf"/>
<rect x="1488.8" y="644.45" width="14.01" height="15.35" fill="#f8d8c6"/>
<rect x="1642.92" y="644.45" width="14.01" height="15.35" fill="#f7dbca"/>
<rect x="1656.93" y="644.45" width="14.01" height="15.35" fill="#da055b"/>
<rect x="1670.94" y="644.45" width="14.01" height="15.35" fill="#03051a"/>
<rect x="1488.8" y="659.8" width="14.01" height="15.35" fill="#f7e1d3"/>
<rect x="1684.95" y="659.8" width="14.01" height="15.35" fill="#03051a"/>
<rect x="1698.97" y="659.8" width="14.01" height="15.35" fill="#e50458"/>
<rect x="1488.8" y="675.15" width="14.01" height="15.35" fill="#f8d2be"/>
<rect x="1684.95" y="675.15" width="14.01" height="15.35" fill="#e50458"/>
<rect x="1698.97" y="675.15" width="14.01" height="15.35" fill="#03051a"/>
<rect x="1488.8" y="690.5" width="14.01" height="15.35" fill="#f9c8b1"/>
<rect x="1712.98" y="690.5" width="14.01" height="15.35" fill="#03051a"/>
<rect x="1488.8" y="705.85" width="14.01" height="15.35" fill="#f9b496"/>
<rect x="1614.9" y="705.85" width="14.01" height="15.35" fill="#f7e3d5"/>
<rect x="1656.93" y="705.85" width="14.01" height="15.35" fill="#f7decf"/>
<rect x="1726.99" y="705.85" width="14.01" height="15.35" fill="#03051a"/>
<path d="M1138.51 45.8V721.2M1124.5 61.15H1741M1152.52 45.8V721.2M1124.5 76.5H1741M1166.53 45.8V721.2M1124.5 91.85H1741M1180.55 45.8V721.2M1124.5 107.2H1741M1194.56 45.8V721.2M1124.5 122.55H1741M1208.57 45.8V721.2M1124.5 137.9H1741M1222.58 45.8V721.2M1124.5 153.25H1741M1236.59 45.8V721.2M1124.5 168.6H1741M1250.6 45.8V721.2M1124.5 183.95H1741M1264.61 45.8V721.2M1124.5 199.3H1741M1278.62 45.8V721.2M1124.5 214.65H1741M1292.64 45.8V721.2M1124.5 230H1741M1306.65 45.8V721.2M1124.5 245.35H1741M1320.66 45.8V721.2M1124.5 260.7H1741M1334.67 45.8V721.2M1124.5 276.05H1741M1348.68 45.8V721.2M1124.5 291.4H1741M1362.69 45.8V721.2M1124.5 306.75H1741M1376.7 45.8V721.2M1124.5 322.1H1741M1390.72 45.8V721.2M1124.5 337.45H1741M1404.73 45.8V721.2M1124.5 352.8H1741M1418.74 45.8V721.2M1124.5 368.15H1741M1432.75 45.8V721.2M1124.5 383.5H1741M1446.76 45.8V721.2M1124.5 398.85H1741M1460.77 45.8V721.2M1124.5 414.2H1741M1474.78 45.8V721.2M1124.5 429.55H1741M1488.8 45.8V721.2M1124.5 444.9H1741M1502.81 45.8V721.2M1124.5 460.25H1741M1516.82 45.8V721.2M1124.5 475.6H1741M1530.83 45.8V721.2M1124.5 490.95H1741M1544.84 45.8V721.2M1124.5 506.3H1741M1558.85 45.8V721.2M1124.5 521.65H1741M1572.86 45.8V721.2M1124.5 537H1741M1586.88 45.8V721.2M1124.5 552.35H1741M1600.89 45.8V721.2M1124.5 567.7H1741M1614.9 45.8V721.2M1124.5 583.05H1741M1628.91 45.8V721.2M1124.5 598.4H1741M1642.92 45.8V721.2M1124.5 613.75H1741M1656.93 45.8V721.2M1124.5 629.1H1741M1670.94 45.8V721.2M1124.5 644.45H1741M1684.95 45.8V721.2M1124.5 659.8H1741M1698.97 45.8V721.2M1124.5 675.15H1741M1712.98 45.8V721.2M1124.5 690.5H1741M1726.99 45.8V721.2M1124.5 705.85H1741" stroke="#fff" stroke-opacity=".6" stroke-width=".6" fill="none"/>
<g font-size="15.2" text-anchor="middle">
<rect x="1095" y="45.8" width="9.5" height="46.35" fill="#bde8df"/>
<rect x="1124.5" y="741" width="42.33" height="9.8" fill="#bde8df"/>
<rect x="1106.2" y="45.8" width="15.8" height="15.65" fill="#d5c6dd"/>
<text x="1114" y="58.27">A</text>
<rect x="1122.2" y="52.37" width="2.2" height="2.2" fill="#000"/>
<rect x="1124.5" y="723.8" width="14.31" height="16.4" fill="#d5c6dd"/>
<text transform="translate(1136.71 732) rotate(-90)" y="0">A</text>
<rect x="1130.51" y="721.7" width="2" height="1.8" fill="#000"/>
<rect x="1106.2" y="61.15" width="15.8" height="15.65" fill="#84c67b"/>
<text x="1114" y="73.62">P</text>
<rect x="1122.2" y="67.73" width="2.2" height="2.2" fill="#000"/>
<rect x="1138.51" y="723.8" width="14.31" height="16.4" fill="#84c67b"/>
<text transform="translate(1150.72 732) rotate(-90)" y="0">P</text>
<rect x="1144.52" y="721.7" width="2" height="1.8" fill="#000"/>
<rect x="1106.2" y="76.5" width="15.8" height="15.65" fill="#c5dbef"/>
<text x="1114" y="88.97">O</text>
<rect x="1122.2" y="83.08" width="2.2" height="2.2" fill="#000"/>
<rect x="1152.52" y="723.8" width="14.31" height="16.4" fill="#c5dbef"/>
<text transform="translate(1164.73 732) rotate(-90)" y="0">O</text>
<rect x="1158.53" y="721.7" width="2" height="1.8" fill="#000"/>
<rect x="1095" y="91.85" width="9.5" height="46.35" fill="#4adcd0"/>
<rect x="1166.53" y="741" width="42.33" height="9.8" fill="#4adcd0"/>
<rect x="1106.2" y="91.85" width="15.8" height="15.65" fill="#d5c6dd"/>
<text x="1114" y="104.32">A</text>
<rect x="1122.2" y="98.42" width="2.2" height="2.2" fill="#000"/>
<rect x="1166.53" y="723.8" width="14.31" height="16.4" fill="#d5c6dd"/>
<text transform="translate(1178.74 732) rotate(-90)" y="0">A</text>
<rect x="1172.54" y="721.7" width="2" height="1.8" fill="#000"/>
<rect x="1106.2" y="107.2" width="15.8" height="15.65" fill="#84c67b"/>
<text x="1114" y="119.67">P</text>
<rect x="1122.2" y="113.78" width="2.2" height="2.2" fill="#000"/>
<rect x="1180.55" y="723.8" width="14.31" height="16.4" fill="#84c67b"/>
<text transform="translate(1192.75 732) rotate(-90)" y="0">P</text>
<rect x="1186.55" y="721.7" width="2" height="1.8" fill="#000"/>
<rect x="1106.2" y="122.55" width="15.8" height="15.65" fill="#c5dbef"/>
<text x="1114" y="135.03">O</text>
<rect x="1122.2" y="129.12" width="2.2" height="2.2" fill="#000"/>
<rect x="1194.56" y="723.8" width="14.31" height="16.4" fill="#c5dbef"/>
<text transform="translate(1206.76 732) rotate(-90)" y="0">O</text>
<rect x="1200.56" y="721.7" width="2" height="1.8" fill="#000"/>
<rect x="1095" y="137.9" width="9.5" height="31" fill="#d4c5df"/>
<rect x="1208.57" y="741" width="28.32" height="9.8" fill="#d4c5df"/>
<rect x="1106.2" y="137.9" width="15.8" height="15.65" fill="#84c67b"/>
<text x="1114" y="150.38">P</text>
<rect x="1122.2" y="144.48" width="2.2" height="2.2" fill="#000"/>
<rect x="1208.57" y="723.8" width="14.31" height="16.4" fill="#84c67b"/>
<text transform="translate(1220.77 732) rotate(-90)" y="0">P</text>
<rect x="1214.57" y="721.7" width="2" height="1.8" fill="#000"/>
<rect x="1106.2" y="153.25" width="15.8" height="15.65" fill="#c5dbef"/>
<text x="1114" y="165.73">O</text>
<rect x="1122.2" y="159.83" width="2.2" height="2.2" fill="#000"/>
<rect x="1222.58" y="723.8" width="14.31" height="16.4" fill="#c5dbef"/>
<text transform="translate(1234.79 732) rotate(-90)" y="0">O</text>
<rect x="1228.59" y="721.7" width="2" height="1.8" fill="#000"/>
<rect x="1095" y="168.6" width="9.5" height="46.35" fill="#f0ccbf"/>
<rect x="1236.59" y="741" width="42.33" height="9.8" fill="#f0ccbf"/>
<rect x="1106.2" y="168.6" width="15.8" height="15.65" fill="#d5c6dd"/>
<text x="1114" y="181.08">A</text>
<rect x="1122.2" y="175.18" width="2.2" height="2.2" fill="#000"/>
<rect x="1236.59" y="723.8" width="14.31" height="16.4" fill="#d5c6dd"/>
<text transform="translate(1248.8 732) rotate(-90)" y="0">A</text>
<rect x="1242.6" y="721.7" width="2" height="1.8" fill="#000"/>
<rect x="1106.2" y="183.95" width="15.8" height="15.65" fill="#84c67b"/>
<text x="1114" y="196.43">P</text>
<rect x="1122.2" y="190.53" width="2.2" height="2.2" fill="#000"/>
<rect x="1250.6" y="723.8" width="14.31" height="16.4" fill="#84c67b"/>
<text transform="translate(1262.81 732) rotate(-90)" y="0">P</text>
<rect x="1256.61" y="721.7" width="2" height="1.8" fill="#000"/>
<rect x="1106.2" y="199.3" width="15.8" height="15.65" fill="#c5dbef"/>
<text x="1114" y="211.78">O</text>
<rect x="1122.2" y="205.88" width="2.2" height="2.2" fill="#000"/>
<rect x="1264.61" y="723.8" width="14.31" height="16.4" fill="#c5dbef"/>
<text transform="translate(1276.82 732) rotate(-90)" y="0">O</text>
<rect x="1270.62" y="721.7" width="2" height="1.8" fill="#000"/>
<rect x="1095" y="214.65" width="9.5" height="46.35" fill="#ff8200"/>
<rect x="1278.62" y="741" width="42.33" height="9.8" fill="#ff8200"/>
<rect x="1106.2" y="214.65" width="15.8" height="15.65" fill="#d5c6dd"/>
<text x="1114" y="227.13">A</text>
<rect x="1122.2" y="221.23" width="2.2" height="2.2" fill="#000"/>
<rect x="1278.62" y="723.8" width="14.31" height="16.4" fill="#d5c6dd"/>
<text transform="translate(1290.83 732) rotate(-90)" y="0">A</text>
<rect x="1284.63" y="721.7" width="2" height="1.8" fill="#000"/>
<rect x="1106.2" y="230" width="15.8" height="15.65" fill="#84c67b"/>
<text x="1114" y="242.48">P</text>
<rect x="1122.2" y="236.58" width="2.2" height="2.2" fill="#000"/>
<rect x="1292.64" y="723.8" width="14.31" height="16.4" fill="#84c67b"/>
<text transform="translate(1304.84 732) rotate(-90)" y="0">P</text>
<rect x="1298.64" y="721.7" width="2" height="1.8" fill="#000"/>
<rect x="1106.2" y="245.35" width="15.8" height="15.65" fill="#c5dbef"/>
<text x="1114" y="257.83">O</text>
<rect x="1122.2" y="251.93" width="2.2" height="2.2" fill="#000"/>
<rect x="1306.65" y="723.8" width="14.31" height="16.4" fill="#c5dbef"/>
<text transform="translate(1318.85 732) rotate(-90)" y="0">O</text>
<rect x="1312.65" y="721.7" width="2" height="1.8" fill="#000"/>
<rect x="1095" y="260.7" width="9.5" height="31" fill="#ffa5cc"/>
<rect x="1320.66" y="741" width="28.32" height="9.8" fill="#ffa5cc"/>
<rect x="1106.2" y="260.7" width="15.8" height="15.65" fill="#84c67b"/>
<text x="1114" y="273.18">P</text>
<rect x="1122.2" y="267.28" width="2.2" height="2.2" fill="#000"/>
<rect x="1320.66" y="723.8" width="14.31" height="16.4" fill="#84c67b"/>
<text transform="translate(1332.86 732) rotate(-90)" y="0">P</text>
<rect x="1326.66" y="721.7" width="2" height="1.8" fill="#000"/>
<rect x="1106.2" y="276.05" width="15.8" height="15.65" fill="#c5dbef"/>
<text x="1114" y="288.53">O</text>
<rect x="1122.2" y="282.62" width="2.2" height="2.2" fill="#000"/>
<rect x="1334.67" y="723.8" width="14.31" height="16.4" fill="#c5dbef"/>
<text transform="translate(1346.88 732) rotate(-90)" y="0">O</text>
<rect x="1340.68" y="721.7" width="2" height="1.8" fill="#000"/>
<rect x="1095" y="291.4" width="9.5" height="46.35" fill="#22d18c"/>
<rect x="1348.68" y="741" width="42.33" height="9.8" fill="#22d18c"/>
<rect x="1106.2" y="291.4" width="15.8" height="15.65" fill="#d5c6dd"/>
<text x="1114" y="303.88">A</text>
<rect x="1122.2" y="297.98" width="2.2" height="2.2" fill="#000"/>
<rect x="1348.68" y="723.8" width="14.31" height="16.4" fill="#d5c6dd"/>
<text transform="translate(1360.89 732) rotate(-90)" y="0">A</text>
<rect x="1354.69" y="721.7" width="2" height="1.8" fill="#000"/>
<rect x="1106.2" y="306.75" width="15.8" height="15.65" fill="#84c67b"/>
<text x="1114" y="319.23">P</text>
<rect x="1122.2" y="313.33" width="2.2" height="2.2" fill="#000"/>
<rect x="1362.69" y="723.8" width="14.31" height="16.4" fill="#84c67b"/>
<text transform="translate(1374.9 732) rotate(-90)" y="0">P</text>
<rect x="1368.7" y="721.7" width="2" height="1.8" fill="#000"/>
<rect x="1106.2" y="322.1" width="15.8" height="15.65" fill="#c5dbef"/>
<text x="1114" y="334.58">O</text>
<rect x="1122.2" y="328.68" width="2.2" height="2.2" fill="#000"/>
<rect x="1376.7" y="723.8" width="14.31" height="16.4" fill="#c5dbef"/>
<text transform="translate(1388.91 732) rotate(-90)" y="0">O</text>
<rect x="1382.71" y="721.7" width="2" height="1.8" fill="#000"/>
<rect x="1095" y="337.45" width="9.5" height="46.35" fill="#f8056c"/>
<rect x="1390.72" y="741" width="42.33" height="9.8" fill="#f8056c"/>
<rect x="1106.2" y="337.45" width="15.8" height="15.65" fill="#d5c6dd"/>
<text x="1114" y="349.93">A</text>
<rect x="1122.2" y="344.03" width="2.2" height="2.2" fill="#000"/>
<rect x="1390.72" y="723.8" width="14.31" height="16.4" fill="#d5c6dd"/>
<text transform="translate(1402.92 732) rotate(-90)" y="0">A</text>
<rect x="1396.72" y="721.7" width="2" height="1.8" fill="#000"/>
<rect x="1106.2" y="352.8" width="15.8" height="15.65" fill="#84c67b"/>
<text x="1114" y="365.28">P</text>
<rect x="1122.2" y="359.38" width="2.2" height="2.2" fill="#000"/>
<rect x="1404.73" y="723.8" width="14.31" height="16.4" fill="#84c67b"/>
<text transform="translate(1416.93 732) rotate(-90)" y="0">P</text>
<rect x="1410.73" y="721.7" width="2" height="1.8" fill="#000"/>
<rect x="1106.2" y="368.15" width="15.8" height="15.65" fill="#c5dbef"/>
<text x="1114" y="380.63">O</text>
<rect x="1122.2" y="374.73" width="2.2" height="2.2" fill="#000"/>
<rect x="1418.74" y="723.8" width="14.31" height="16.4" fill="#c5dbef"/>
<text transform="translate(1430.94 732) rotate(-90)" y="0">O</text>
<rect x="1424.74" y="721.7" width="2" height="1.8" fill="#000"/>
<rect x="1095" y="383.5" width="9.5" height="31" fill="#00c630"/>
<rect x="1432.75" y="741" width="28.32" height="9.8" fill="#00c630"/>
<rect x="1106.2" y="383.5" width="15.8" height="15.65" fill="#d5c6dd"/>
<text x="1114" y="395.98">A</text>
<rect x="1122.2" y="390.08" width="2.2" height="2.2" fill="#000"/>
<rect x="1432.75" y="723.8" width="14.31" height="16.4" fill="#d5c6dd"/>
<text transform="translate(1444.96 732) rotate(-90)" y="0">A</text>
<rect x="1438.76" y="721.7" width="2" height="1.8" fill="#000"/>
<rect x="1106.2" y="398.85" width="15.8" height="15.65" fill="#84c67b"/>
<text x="1114" y="411.33">P</text>
<rect x="1122.2" y="405.43" width="2.2" height="2.2" fill="#000"/>
<rect x="1446.76" y="723.8" width="14.31" height="16.4" fill="#84c67b"/>
<text transform="translate(1458.97 732) rotate(-90)" y="0">P</text>
<rect x="1452.77" y="721.7" width="2" height="1.8" fill="#000"/>
<rect x="1095" y="414.2" width="9.5" height="31" fill="#00d7b8"/>
<rect x="1460.77" y="741" width="28.32" height="9.8" fill="#00d7b8"/>
<rect x="1106.2" y="414.2" width="15.8" height="15.65" fill="#84c67b"/>
<text x="1114" y="426.68">P</text>
<rect x="1122.2" y="420.78" width="2.2" height="2.2" fill="#000"/>
<rect x="1460.77" y="723.8" width="14.31" height="16.4" fill="#84c67b"/>
<text transform="translate(1472.98 732) rotate(-90)" y="0">P</text>
<rect x="1466.78" y="721.7" width="2" height="1.8" fill="#000"/>
<rect x="1106.2" y="429.55" width="15.8" height="15.65" fill="#c5dbef"/>
<text x="1114" y="442.03">O</text>
<rect x="1122.2" y="436.13" width="2.2" height="2.2" fill="#000"/>
<rect x="1474.78" y="723.8" width="14.31" height="16.4" fill="#c5dbef"/>
<text transform="translate(1486.99 732) rotate(-90)" y="0">O</text>
<rect x="1480.79" y="721.7" width="2" height="1.8" fill="#000"/>
<rect x="1095" y="444.9" width="9.5" height="15.65" fill="#0a53b0"/>
<rect x="1488.8" y="741" width="14.31" height="9.8" fill="#0a53b0"/>
<rect x="1106.2" y="444.9" width="15.8" height="15.65" fill="#84c67b"/>
<text x="1114" y="457.38">P</text>
<rect x="1122.2" y="451.48" width="2.2" height="2.2" fill="#000"/>
<rect x="1488.8" y="723.8" width="14.31" height="16.4" fill="#84c67b"/>
<text transform="translate(1501 732) rotate(-90)" y="0">P</text>
<rect x="1494.8" y="721.7" width="2" height="1.8" fill="#000"/>
<rect x="1095" y="460.25" width="9.5" height="31" fill="#d87588"/>
<rect x="1502.81" y="741" width="28.32" height="9.8" fill="#d87588"/>
<rect x="1106.2" y="460.25" width="15.8" height="15.65" fill="#d5c6dd"/>
<text x="1114" y="472.73">A</text>
<rect x="1122.2" y="466.83" width="2.2" height="2.2" fill="#000"/>
<rect x="1502.81" y="723.8" width="14.31" height="16.4" fill="#d5c6dd"/>
<text transform="translate(1515.01 732) rotate(-90)" y="0">A</text>
<rect x="1508.81" y="721.7" width="2" height="1.8" fill="#000"/>
<rect x="1106.2" y="475.6" width="15.8" height="15.65" fill="#84c67b"/>
<text x="1114" y="488.08">P</text>
<rect x="1122.2" y="482.18" width="2.2" height="2.2" fill="#000"/>
<rect x="1516.82" y="723.8" width="14.31" height="16.4" fill="#84c67b"/>
<text transform="translate(1529.02 732) rotate(-90)" y="0">P</text>
<rect x="1522.82" y="721.7" width="2" height="1.8" fill="#000"/>
<rect x="1095" y="490.95" width="9.5" height="31" fill="#0c7fe4"/>
<rect x="1530.83" y="741" width="28.32" height="9.8" fill="#0c7fe4"/>
<rect x="1106.2" y="490.95" width="15.8" height="15.65" fill="#d5c6dd"/>
<text x="1114" y="503.43">A</text>
<rect x="1122.2" y="497.53" width="2.2" height="2.2" fill="#000"/>
<rect x="1530.83" y="723.8" width="14.31" height="16.4" fill="#d5c6dd"/>
<text transform="translate(1543.04 732) rotate(-90)" y="0">A</text>
<rect x="1536.84" y="721.7" width="2" height="1.8" fill="#000"/>
<rect x="1106.2" y="506.3" width="15.8" height="15.65" fill="#84c67b"/>
<text x="1114" y="518.77">P</text>
<rect x="1122.2" y="512.88" width="2.2" height="2.2" fill="#000"/>
<rect x="1544.84" y="723.8" width="14.31" height="16.4" fill="#84c67b"/>
<text transform="translate(1557.05 732) rotate(-90)" y="0">P</text>
<rect x="1550.85" y="721.7" width="2" height="1.8" fill="#000"/>
<rect x="1095" y="521.65" width="9.5" height="31" fill="#b00340"/>
<rect x="1558.85" y="741" width="28.32" height="9.8" fill="#b00340"/>
<rect x="1106.2" y="521.65" width="15.8" height="15.65" fill="#d5c6dd"/>
<text x="1114" y="534.12">A</text>
<rect x="1122.2" y="528.22" width="2.2" height="2.2" fill="#000"/>
<rect x="1558.85" y="723.8" width="14.31" height="16.4" fill="#d5c6dd"/>
<text transform="translate(1571.06 732) rotate(-90)" y="0">A</text>
<rect x="1564.86" y="721.7" width="2" height="1.8" fill="#000"/>
<rect x="1106.2" y="537" width="15.8" height="15.65" fill="#84c67b"/>
<text x="1114" y="549.47">P</text>
<rect x="1122.2" y="543.57" width="2.2" height="2.2" fill="#000"/>
<rect x="1572.86" y="723.8" width="14.31" height="16.4" fill="#84c67b"/>
<text transform="translate(1585.07 732) rotate(-90)" y="0">P</text>
<rect x="1578.87" y="721.7" width="2" height="1.8" fill="#000"/>
<rect x="1095" y="552.35" width="9.5" height="31" fill="#a9b3e0"/>
<rect x="1586.88" y="741" width="28.32" height="9.8" fill="#a9b3e0"/>
<rect x="1106.2" y="552.35" width="15.8" height="15.65" fill="#d5c6dd"/>
<text x="1114" y="564.82">A</text>
<rect x="1122.2" y="558.92" width="2.2" height="2.2" fill="#000"/>
<rect x="1586.88" y="723.8" width="14.31" height="16.4" fill="#d5c6dd"/>
<text transform="translate(1599.08 732) rotate(-90)" y="0">A</text>
<rect x="1592.88" y="721.7" width="2" height="1.8" fill="#000"/>
<rect x="1106.2" y="567.7" width="15.8" height="15.65" fill="#84c67b"/>
<text x="1114" y="580.17">P</text>
<rect x="1122.2" y="574.27" width="2.2" height="2.2" fill="#000"/>
<rect x="1600.89" y="723.8" width="14.31" height="16.4" fill="#84c67b"/>
<text transform="translate(1613.09 732) rotate(-90)" y="0">P</text>
<rect x="1606.89" y="721.7" width="2" height="1.8" fill="#000"/>
<rect x="1095" y="583.05" width="9.5" height="15.65" fill="#7d9be0"/>
<rect x="1614.9" y="741" width="14.31" height="9.8" fill="#7d9be0"/>
<rect x="1106.2" y="583.05" width="15.8" height="15.65" fill="#84c67b"/>
<text x="1114" y="595.52">P</text>
<rect x="1122.2" y="589.62" width="2.2" height="2.2" fill="#000"/>
<rect x="1614.9" y="723.8" width="14.31" height="16.4" fill="#84c67b"/>
<text transform="translate(1627.1 732) rotate(-90)" y="0">P</text>
<rect x="1620.9" y="721.7" width="2" height="1.8" fill="#000"/>
<rect x="1095" y="598.4" width="9.5" height="31" fill="#7a86c0"/>
<rect x="1628.91" y="741" width="28.32" height="9.8" fill="#7a86c0"/>
<rect x="1106.2" y="598.4" width="15.8" height="15.65" fill="#d5c6dd"/>
<text x="1114" y="610.87">A</text>
<rect x="1122.2" y="604.97" width="2.2" height="2.2" fill="#000"/>
<rect x="1628.91" y="723.8" width="14.31" height="16.4" fill="#d5c6dd"/>
<text transform="translate(1641.11 732) rotate(-90)" y="0">A</text>
<rect x="1634.91" y="721.7" width="2" height="1.8" fill="#000"/>
<rect x="1106.2" y="613.75" width="15.8" height="15.65" fill="#84c67b"/>
<text x="1114" y="626.22">P</text>
<rect x="1122.2" y="620.32" width="2.2" height="2.2" fill="#000"/>
<rect x="1642.92" y="723.8" width="14.31" height="16.4" fill="#84c67b"/>
<text transform="translate(1655.13 732) rotate(-90)" y="0">P</text>
<rect x="1648.93" y="721.7" width="2" height="1.8" fill="#000"/>
<rect x="1095" y="629.1" width="9.5" height="31" fill="#b4b8d4"/>
<rect x="1656.93" y="741" width="28.32" height="9.8" fill="#b4b8d4"/>
<rect x="1106.2" y="629.1" width="15.8" height="15.65" fill="#d5c6dd"/>
<text x="1114" y="641.57">A</text>
<rect x="1122.2" y="635.67" width="2.2" height="2.2" fill="#000"/>
<rect x="1656.93" y="723.8" width="14.31" height="16.4" fill="#d5c6dd"/>
<text transform="translate(1669.14 732) rotate(-90)" y="0">A</text>
<rect x="1662.94" y="721.7" width="2" height="1.8" fill="#000"/>
<rect x="1106.2" y="644.45" width="15.8" height="15.65" fill="#84c67b"/>
<text x="1114" y="656.92">P</text>
<rect x="1122.2" y="651.02" width="2.2" height="2.2" fill="#000"/>
<rect x="1670.94" y="723.8" width="14.31" height="16.4" fill="#84c67b"/>
<text transform="translate(1683.15 732) rotate(-90)" y="0">P</text>
<rect x="1676.95" y="721.7" width="2" height="1.8" fill="#000"/>
<rect x="1095" y="659.8" width="9.5" height="15.65" fill="#e2aebb"/>
<rect x="1684.95" y="741" width="14.31" height="9.8" fill="#e2aebb"/>
<rect x="1106.2" y="659.8" width="15.8" height="15.65" fill="#84c67b"/>
<text x="1114" y="672.27">P</text>
<rect x="1122.2" y="666.37" width="2.2" height="2.2" fill="#000"/>
<rect x="1684.95" y="723.8" width="14.31" height="16.4" fill="#84c67b"/>
<text transform="translate(1697.16 732) rotate(-90)" y="0">P</text>
<rect x="1690.96" y="721.7" width="2" height="1.8" fill="#000"/>
<rect x="1095" y="675.15" width="9.5" height="15.65" fill="#e2aebb"/>
<rect x="1698.97" y="741" width="14.31" height="9.8" fill="#e2aebb"/>
<rect x="1106.2" y="675.15" width="15.8" height="15.65" fill="#d5c6dd"/>
<text x="1114" y="687.62">A</text>
<rect x="1122.2" y="681.72" width="2.2" height="2.2" fill="#000"/>
<rect x="1698.97" y="723.8" width="14.31" height="16.4" fill="#d5c6dd"/>
<text transform="translate(1711.17 732) rotate(-90)" y="0">A</text>
<rect x="1704.97" y="721.7" width="2" height="1.8" fill="#000"/>
<rect x="1095" y="690.5" width="9.5" height="15.65" fill="#ff6b8e"/>
<rect x="1712.98" y="741" width="14.31" height="9.8" fill="#ff6b8e"/>
<rect x="1106.2" y="690.5" width="15.8" height="15.65" fill="#84c67b"/>
<text x="1114" y="702.97">P</text>
<rect x="1122.2" y="697.07" width="2.2" height="2.2" fill="#000"/>
<rect x="1712.98" y="723.8" width="14.31" height="16.4" fill="#84c67b"/>
<text transform="translate(1725.18 732) rotate(-90)" y="0">P</text>
<rect x="1718.98" y="721.7" width="2" height="1.8" fill="#000"/>
<rect x="1095" y="705.85" width="9.5" height="15.65" fill="#ffa0b6"/>
<rect x="1726.99" y="741" width="14.31" height="9.8" fill="#ffa0b6"/>
<rect x="1106.2" y="705.85" width="15.8" height="15.65" fill="#84c67b"/>
<text x="1114" y="718.32">P</text>
<rect x="1122.2" y="712.42" width="2.2" height="2.2" fill="#000"/>
<rect x="1726.99" y="723.8" width="14.31" height="16.4" fill="#84c67b"/>
<text transform="translate(1739.19 732) rotate(-90)" y="0">P</text>
<rect x="1732.99" y="721.7" width="2" height="1.8" fill="#000"/>
</g>
<text x="1090.5" y="74.3" font-size="18" text-anchor="end">Keratinocyte</text>
<text font-size="18" text-anchor="end" transform="translate(1148.12 755.1) rotate(-90)">Keratinocyte</text>
<text x="1090.5" y="119.6" font-size="18" text-anchor="end">Melanocyte</text>
<text font-size="18" text-anchor="end" transform="translate(1190.55 755.1) rotate(-90)">Melanocyte</text>
<text x="1090.5" y="158.1" font-size="18" text-anchor="end">Adipocyte</text>
<text font-size="18" text-anchor="end" transform="translate(1227.58 755.1) rotate(-90)">Adipocyte</text>
<text x="1090.5" y="196.6" font-size="18" text-anchor="end">Fibroblast</text>
<text font-size="18" text-anchor="end" transform="translate(1262.01 755.1) rotate(-90)">Fibroblast</text>
<text x="1090.5" y="244.6" font-size="18" text-anchor="end">Schwann cell</text>
<text font-size="18" text-anchor="end" transform="translate(1304.64 755.1) rotate(-90)">Schwann cell</text>
<text x="1090.5" y="280.4" font-size="18" text-anchor="end">Skeletal muscle</text>
<text font-size="18" text-anchor="end" transform="translate(1339.67 755.1) rotate(-90)">Skeletal muscle</text>
<text x="1090.5" y="319.6" font-size="18" text-anchor="end">Mural cell</text>
<text font-size="18" text-anchor="end" transform="translate(1374.7 755.1) rotate(-90)">Mural cell</text>
<text x="1090.5" y="357.2" font-size="18" text-anchor="end">Vascular</text>
<text x="1090.5" y="372.2" font-size="18" text-anchor="end">endothelium</text>
<text font-size="18" text-anchor="end" transform="translate(1408.23 755.1) rotate(-90)">Vascular</text>
<text font-size="18" text-anchor="end" transform="translate(1423.23 755.1) rotate(-90)">endothelium</text>
<text x="1090.5" y="396.8" font-size="18" text-anchor="end">Lymphatic</text>
<text x="1090.5" y="412.1" font-size="18" text-anchor="end">endothelium</text>
<text font-size="18" text-anchor="end" transform="translate(1443.26 755.1) rotate(-90)">Lymphatic</text>
<text font-size="18" text-anchor="end" transform="translate(1458.26 755.1) rotate(-90)">endothelium</text>
<text x="1090.5" y="435" font-size="18" text-anchor="end">Neural cell</text>
<text font-size="18" text-anchor="end" transform="translate(1479.78 755.1) rotate(-90)">Neural cell</text>
<text x="1090.5" y="456.5" font-size="18" text-anchor="end">Haem progenitor</text>
<text font-size="18" text-anchor="end" transform="translate(1500.8 755.1) rotate(-90)">Haem progenitor</text>
<text x="1090.5" y="481.5" font-size="18" text-anchor="end">DC</text>
<text font-size="18" text-anchor="end" transform="translate(1521.82 755.1) rotate(-90)">DC</text>
<text x="1090.5" y="510" font-size="18" text-anchor="end">Monocyte</text>
<text font-size="18" text-anchor="end" transform="translate(1549.84 755.1) rotate(-90)">Monocyte</text>
<text x="1090.5" y="539.6" font-size="18" text-anchor="end">Macrophage</text>
<text font-size="18" text-anchor="end" transform="translate(1577.86 755.1) rotate(-90)">Macrophage</text>
<text x="1090.5" y="574.2" font-size="18" text-anchor="end">Mast cell</text>
<text font-size="18" text-anchor="end" transform="translate(1605.89 755.1) rotate(-90)">Mast cell</text>
<text x="1090.5" y="597.1" font-size="18" text-anchor="end">Neutrophil</text>
<text font-size="18" text-anchor="end" transform="translate(1626.9 755.1) rotate(-90)">Neutrophil</text>
<text x="1090.5" y="619.1" font-size="18" text-anchor="end">ILC</text>
<text font-size="18" text-anchor="end" transform="translate(1647.92 755.1) rotate(-90)">ILC</text>
<text x="1090.5" y="650" font-size="18" text-anchor="end">T cell</text>
<text font-size="18" text-anchor="end" transform="translate(1675.94 755.1) rotate(-90)">T cell</text>
<text x="1090.5" y="673" font-size="18" text-anchor="end">B cell</text>
<text font-size="18" text-anchor="end" transform="translate(1696.96 755.1) rotate(-90)">B cell</text>
<text x="1090.5" y="688.3" font-size="18" text-anchor="end">Plasma cell</text>
<text font-size="18" text-anchor="end" transform="translate(1710.97 755.1) rotate(-90)">Plasma cell</text>
<text x="1090.5" y="703.2" font-size="18" text-anchor="end">Erythroid</text>
<text font-size="18" text-anchor="end" transform="translate(1724.98 755.1) rotate(-90)">Erythroid</text>
<text x="1090.5" y="717.9" font-size="18" text-anchor="end">Megakaryocyte</text>
<text font-size="18" text-anchor="end" transform="translate(1738.99 755.1) rotate(-90)">Megakaryocyte</text>
<defs><linearGradient id="gr" x1="0" y1="0" x2="0" y2="1"><stop offset="0" stop-color="#f7e6da"/><stop offset="0.02" stop-color="#f7e1d3"/><stop offset="0.09" stop-color="#f9c2a8"/><stop offset="0.16" stop-color="#faa07c"/><stop offset="0.23" stop-color="#fa805d"/><stop offset="0.3" stop-color="#fa5c42"/><stop offset="0.37" stop-color="#fb2f40"/><stop offset="0.41" stop-color="#fc0542"/><stop offset="0.44" stop-color="#f5054e"/><stop offset="0.51" stop-color="#e1045a"/><stop offset="0.58" stop-color="#bd0a5e"/><stop offset="0.65" stop-color="#8a1860"/><stop offset="0.72" stop-color="#5e1a50"/><stop offset="0.79" stop-color="#431944"/><stop offset="0.86" stop-color="#2a1536"/><stop offset="0.93" stop-color="#150e28"/><stop offset="1" stop-color="#03051a"/></linearGradient></defs>
<rect x="1748.2" y="56.3" width="10.7" height="653.4" fill="url(#gr)"/>
<rect x="1758.4" y="706.9" width="2.5" height="2" fill="#000"/>
<text x="1762.8" y="713.7" font-size="15.3">0.0</text>
<rect x="1758.4" y="615.8" width="2.5" height="2" fill="#000"/>
<text x="1762.8" y="622.6" font-size="15.3">0.1</text>
<rect x="1758.4" y="524.7" width="2.5" height="2" fill="#000"/>
<text x="1762.8" y="531.5" font-size="15.3">0.2</text>
<rect x="1758.4" y="433.6" width="2.5" height="2" fill="#000"/>
<text x="1762.8" y="440.4" font-size="15.3">0.3</text>
<rect x="1758.4" y="342.5" width="2.5" height="2" fill="#000"/>
<text x="1762.8" y="349.3" font-size="15.3">0.4</text>
<rect x="1758.4" y="251.4" width="2.5" height="2" fill="#000"/>
<text x="1762.8" y="258.2" font-size="15.3">0.5</text>
<rect x="1758.4" y="160.3" width="2.5" height="2" fill="#000"/>
<text x="1762.8" y="167.1" font-size="15.3">0.6</text>
<rect x="1758.4" y="69.2" width="2.5" height="2" fill="#000"/>
<text x="1762.8" y="76" font-size="15.3">0.7</text>
<text font-size="18" text-anchor="middle" transform="translate(1803.3 383) rotate(-90)">Distance in batch corrected latent space</text>
<rect x="978.3" y="752.5" width="104.4" height="80.4" fill="#fff" stroke="#444" stroke-width="1"/>
<rect x="985.8" y="758.8" width="16.8" height="16.4" fill="#d5c6dd"/>
<text x="1012.5" y="773.2" font-size="15.2">Adult</text>
<rect x="985.8" y="784.3" width="16.8" height="16.4" fill="#84c67b"/>
<text x="1012.5" y="799" font-size="15.2">Prenatal</text>
<rect x="985.8" y="809.8" width="16.8" height="16.4" fill="#c5dbef"/>
<text x="1012.5" y="824.3" font-size="15.2">Organoid</text>
<text x="971.5" y="13.8" font-size="24" font-weight="bold">c</text>
</g>
<g id="pd">
<text x="21.2" y="1729.4" font-size="24" font-weight="bold">d</text>
<rect x="129.7" y="1809" width="106.18" height="106.12" fill="#eedf4a"/>
<rect x="235.68" y="1809" width="106.18" height="106.12" fill="#fae04b"/>
<rect x="341.65" y="1809" width="106.18" height="106.12" fill="#42bd83"/>
<rect x="447.62" y="1809" width="106.18" height="106.12" fill="#2faf8b"/>
<rect x="129.7" y="1914.92" width="106.18" height="106.12" fill="#9bd45c"/>
<rect x="235.68" y="1914.92" width="106.18" height="106.12" fill="#35b488"/>
<rect x="341.65" y="1914.92" width="106.18" height="106.12" fill="#4b2b7b"/>
<rect x="447.62" y="1914.92" width="106.18" height="106.12" fill="#4a075a"/>
<rect x="129.7" y="2020.84" width="106.18" height="106.12" fill="#75cc6b"/>
<rect x="235.68" y="2020.84" width="106.18" height="106.12" fill="#336992"/>
<rect x="341.65" y="2020.84" width="106.18" height="106.12" fill="#238c94"/>
<rect x="447.62" y="2020.84" width="106.18" height="106.12" fill="#268694"/>
<rect x="129.7" y="2126.76" width="106.18" height="106.12" fill="#22a690"/>
<rect x="235.68" y="2126.76" width="106.18" height="106.12" fill="#229b92"/>
<rect x="341.65" y="2126.76" width="106.18" height="106.12" fill="#cfdd4d"/>
<rect x="447.62" y="2126.76" width="106.18" height="106.12" fill="#e5df4a"/>
<rect x="129.7" y="2232.68" width="106.18" height="106.12" fill="#278494"/>
<rect x="235.68" y="2232.68" width="106.18" height="106.12" fill="#9bd45c"/>
<rect x="341.65" y="2232.68" width="106.18" height="106.12" fill="#fae04b"/>
<rect x="447.62" y="2232.68" width="106.18" height="106.12" fill="#fae04b"/>
<path d="M235.68 1809V2338.6M341.65 1809V2338.6M447.62 1809V2338.6M129.7 2020.84H553.6M129.7 2126.76H553.6M129.7 2232.68H553.6" stroke="#fff" stroke-opacity=".95" stroke-width="1.2" fill="none"/>
<rect x="129.7" y="1911" width="423.9" height="7.6" fill="#000"/>
<rect x="121.9" y="1855.86" width="6.4" height="7.2" fill="#333"/>
<text x="111.2" y="1865.96" font-size="22" text-anchor="end">Adult</text>
<rect x="121.9" y="1962.18" width="6.4" height="7.2" fill="#333"/>
<text x="111.2" y="1972.28" font-size="22" text-anchor="end">15-17</text>
<rect x="121.9" y="2068.1" width="6.4" height="7.2" fill="#333"/>
<text x="111.2" y="2078.2" font-size="22" text-anchor="end">12-14</text>
<rect x="121.9" y="2177.02" width="6.4" height="7.2" fill="#333"/>
<text x="111.2" y="2187.12" font-size="22" text-anchor="end">9-11</text>
<rect x="121.9" y="2283.74" width="6.4" height="7.2" fill="#333"/>
<text x="111.2" y="2293.84" font-size="22" text-anchor="end">7-8</text>
<rect x="177.19" y="2339.8" width="6.8" height="5.2" fill="#333"/>
<text x="180.59" y="2369.9" font-size="22" text-anchor="middle">4</text>
<rect x="282.66" y="2339.8" width="6.8" height="5.2" fill="#333"/>
<text x="286.06" y="2369.9" font-size="22" text-anchor="middle">7</text>
<rect x="392.94" y="2339.8" width="6.8" height="5.2" fill="#333"/>
<text x="396.34" y="2369.9" font-size="22" text-anchor="middle">12</text>
<rect x="501.51" y="2339.8" width="6.8" height="5.2" fill="#333"/>
<text x="504.91" y="2369.9" font-size="22" text-anchor="middle">19</text>
<defs><linearGradient id="gv1" x1="0" y1="0" x2="0" y2="1"><stop offset="0" stop-color="#4a075a"/><stop offset="0.1" stop-color="#4b2b7b"/><stop offset="0.21" stop-color="#404e8c"/><stop offset="0.33" stop-color="#307093"/><stop offset="0.44" stop-color="#238c94"/><stop offset="0.55" stop-color="#22a690"/><stop offset="0.66" stop-color="#42bd83"/><stop offset="0.78" stop-color="#82d065"/><stop offset="0.89" stop-color="#c0db4f"/><stop offset="0.94" stop-color="#e4df4a"/><stop offset="1" stop-color="#fae04b"/></linearGradient></defs>
<rect x="564.3" y="1930.2" width="14.6" height="286.4" fill="url(#gv1)"/>
<rect x="578.9" y="2214.4" width="4.2" height="1.8" fill="#333"/>
<text x="589.5" y="2220.9" font-size="16">0</text>
<rect x="578.9" y="2182.45" width="4.2" height="1.8" fill="#333"/>
<text x="589.5" y="2188.95" font-size="16">5</text>
<rect x="578.9" y="2150.5" width="4.2" height="1.8" fill="#333"/>
<text x="589.5" y="2157" font-size="16">10</text>
<rect x="578.9" y="2118.55" width="4.2" height="1.8" fill="#333"/>
<text x="589.5" y="2125.05" font-size="16">15</text>
<rect x="578.9" y="2086.6" width="4.2" height="1.8" fill="#333"/>
<text x="589.5" y="2093.1" font-size="16">20</text>
<rect x="578.9" y="2054.65" width="4.2" height="1.8" fill="#333"/>
<text x="589.5" y="2061.15" font-size="16">25</text>
<rect x="578.9" y="2022.7" width="4.2" height="1.8" fill="#333"/>
<text x="589.5" y="2029.2" font-size="16">30</text>
<rect x="578.9" y="1990.75" width="4.2" height="1.8" fill="#333"/>
<text x="589.5" y="1997.25" font-size="16">35</text>
<rect x="578.9" y="1958.8" width="4.2" height="1.8" fill="#333"/>
<text x="589.5" y="1965.3" font-size="16">40</text>
<text x="330.5" y="1794.9" font-size="21.2" text-anchor="middle" font-weight="bold">Overall</text>
<text x="341.4" y="2399.6" font-size="21.6" text-anchor="middle">Organoid stage (weeks)</text>
<text font-size="21.5" text-anchor="middle" transform="translate(41.5 2100.6) rotate(-90)">Prenatal stage (PCW)</text>
<text font-size="19.4" text-anchor="middle" transform="translate(633.5 2075.8) rotate(-90)">Median prediction probability</text>
<rect x="767.5" y="1758.2" width="54.25" height="53.96" fill="#fae04b"/>
<rect x="821.55" y="1758.2" width="54.25" height="53.96" fill="#fae04b"/>
<rect x="875.6" y="1758.2" width="54.25" height="53.96" fill="#fae04b"/>
<rect x="929.65" y="1758.2" width="54.25" height="53.96" fill="#fae04b"/>
<rect x="767.5" y="1811.96" width="54.25" height="53.96" fill="#77cd6a"/>
<rect x="821.55" y="1811.96" width="54.25" height="53.96" fill="#58c479"/>
<rect x="875.6" y="1811.96" width="54.25" height="53.96" fill="#4a075a"/>
<rect x="929.65" y="1811.96" width="54.25" height="53.96" fill="#4b2878"/>
<rect x="767.5" y="1865.72" width="54.25" height="53.96" fill="#58c479"/>
<rect x="821.55" y="1865.72" width="54.25" height="53.96" fill="#26a98e"/>
<rect x="875.6" y="1865.72" width="54.25" height="53.96" fill="#9dd55c"/>
<rect x="929.65" y="1865.72" width="54.25" height="53.96" fill="#7fcf67"/>
<rect x="767.5" y="1919.48" width="54.25" height="53.96" fill="#41bd83"/>
<rect x="821.55" y="1919.48" width="54.25" height="53.96" fill="#3ab786"/>
<rect x="875.6" y="1919.48" width="54.25" height="53.96" fill="#e6df4a"/>
<rect x="929.65" y="1919.48" width="54.25" height="53.96" fill="#dfde4b"/>
<rect x="767.5" y="1973.24" width="54.25" height="53.96" fill="#22a091"/>
<rect x="821.55" y="1973.24" width="54.25" height="53.96" fill="#7fcf67"/>
<rect x="875.6" y="1973.24" width="54.25" height="53.96" fill="#fae04b"/>
<rect x="929.65" y="1973.24" width="54.25" height="53.96" fill="#fae04b"/>
<path d="M821.55 1758.2V2027M875.6 1758.2V2027M929.65 1758.2V2027M767.5 1865.72H983.7M767.5 1919.48H983.7M767.5 1973.24H983.7" stroke="#fff" stroke-opacity=".95" stroke-width="0.9" fill="none"/>
<rect x="767.5" y="1809.2" width="216.2" height="3.4" fill="#222"/>
<rect x="760.9" y="1781.28" width="6.2" height="2.6" fill="#000"/>
<text x="758.5" y="1787.78" font-size="16.5" text-anchor="end">Adult</text>
<rect x="760.9" y="1836.74" width="6.2" height="2.6" fill="#000"/>
<text x="758.5" y="1843.24" font-size="16.5" text-anchor="end">15-17</text>
<rect x="760.9" y="1891" width="6.2" height="2.6" fill="#000"/>
<text x="758.5" y="1897.5" font-size="16.5" text-anchor="end">12-14</text>
<rect x="760.9" y="1944.56" width="6.2" height="2.6" fill="#000"/>
<text x="758.5" y="1951.06" font-size="16.5" text-anchor="end">9-11</text>
<rect x="760.9" y="1998.22" width="6.2" height="2.6" fill="#000"/>
<text x="758.5" y="2004.72" font-size="16.5" text-anchor="end">7-8</text>
<rect x="793.23" y="2028" width="2.6" height="5" fill="#000"/>
<text x="794.52" y="2049.3" font-size="16.5" text-anchor="middle">4</text>
<rect x="847.28" y="2028" width="2.6" height="5" fill="#000"/>
<text x="848.58" y="2049.3" font-size="16.5" text-anchor="middle">7</text>
<rect x="901.33" y="2028" width="2.6" height="5" fill="#000"/>
<text x="902.62" y="2049.3" font-size="16.5" text-anchor="middle">12</text>
<rect x="955.38" y="2028" width="2.6" height="5" fill="#000"/>
<text x="956.68" y="2049.3" font-size="16.5" text-anchor="middle">19</text>
<defs><linearGradient id="gv2" x1="0" y1="0" x2="0" y2="1"><stop offset="0" stop-color="#4a075a"/><stop offset="0.1" stop-color="#4b2b7b"/><stop offset="0.21" stop-color="#404e8c"/><stop offset="0.33" stop-color="#307093"/><stop offset="0.44" stop-color="#238c94"/><stop offset="0.55" stop-color="#22a690"/><stop offset="0.66" stop-color="#42bd83"/><stop offset="0.78" stop-color="#82d065"/><stop offset="0.89" stop-color="#c0db4f"/><stop offset="0.94" stop-color="#e4df4a"/><stop offset="1" stop-color="#fae04b"/></linearGradient></defs>
<rect x="987.1" y="1804.6" width="7" height="190.4" fill="url(#gv2)"/>
<rect x="993.6" y="1992.3" width="2.5" height="1" fill="#333"/>
<text x="996.7" y="1998.4" font-size="16.5">0</text>
<rect x="993.6" y="1967" width="2.5" height="1" fill="#333"/>
<text x="996.7" y="1973.1" font-size="16.5">10</text>
<rect x="993.6" y="1941.7" width="2.5" height="1" fill="#333"/>
<text x="996.7" y="1947.8" font-size="16.5">20</text>
<rect x="993.6" y="1916.4" width="2.5" height="1" fill="#333"/>
<text x="996.7" y="1922.5" font-size="16.5">30</text>
<rect x="993.6" y="1891.1" width="2.5" height="1" fill="#333"/>
<text x="996.7" y="1897.2" font-size="16.5">40</text>
<rect x="993.6" y="1865.8" width="2.5" height="1" fill="#333"/>
<text x="996.7" y="1871.9" font-size="16.5">50</text>
<rect x="993.6" y="1840.5" width="2.5" height="1" fill="#333"/>
<text x="996.7" y="1846.6" font-size="16.5">60</text>
<rect x="993.6" y="1815.2" width="2.5" height="1" fill="#333"/>
<text x="996.7" y="1821.3" font-size="16.5">70</text>
<text x="767" y="1751.2" font-size="19.9" font-weight="bold">Fibroblasts</text>
<text x="872.1" y="2068.2" font-size="16.55" text-anchor="middle">Organoid stage (weeks)</text>
<text font-size="16.5" text-anchor="middle" transform="translate(708.3 1901.3) rotate(-90)">Prenatal stage (PCW)</text>
<text font-size="17.4" text-anchor="middle" transform="translate(1034.6 1902) rotate(-90)">Median prediction probability</text>
<rect x="1145.8" y="1760" width="53.85" height="53.84" fill="#fae04b"/>
<rect x="1199.45" y="1760" width="53.85" height="53.84" fill="#f0e04b"/>
<rect x="1253.1" y="1760" width="53.85" height="53.84" fill="#a0d55a"/>
<rect x="1306.75" y="1760" width="53.85" height="53.84" fill="#51c17c"/>
<rect x="1145.8" y="1813.64" width="53.85" height="53.84" fill="#fae04b"/>
<rect x="1199.45" y="1813.64" width="53.85" height="53.84" fill="#fae04b"/>
<rect x="1253.1" y="1813.64" width="53.85" height="53.84" fill="#e5df4a"/>
<rect x="1306.75" y="1813.64" width="53.85" height="53.84" fill="#89d162"/>
<rect x="1145.8" y="1867.28" width="53.85" height="53.84" fill="#fae04b"/>
<rect x="1199.45" y="1867.28" width="53.85" height="53.84" fill="#61c674"/>
<rect x="1253.1" y="1867.28" width="53.85" height="53.84" fill="#ddde4b"/>
<rect x="1306.75" y="1867.28" width="53.85" height="53.84" fill="#239293"/>
<rect x="1145.8" y="1920.92" width="53.85" height="53.84" fill="#238b94"/>
<rect x="1199.45" y="1920.92" width="53.85" height="53.84" fill="#b0d855"/>
<rect x="1253.1" y="1920.92" width="53.85" height="53.84" fill="#2a7d93"/>
<rect x="1306.75" y="1920.92" width="53.85" height="53.84" fill="#c0db4f"/>
<rect x="1145.8" y="1974.56" width="53.85" height="53.84" fill="#434487"/>
<rect x="1199.45" y="1974.56" width="53.85" height="53.84" fill="#4a075a"/>
<rect x="1253.1" y="1974.56" width="53.85" height="53.84" fill="#229c92"/>
<rect x="1306.75" y="1974.56" width="53.85" height="53.84" fill="#61c674"/>
<path d="M1199.45 1760V2028.2M1253.1 1760V2028.2M1306.75 1760V2028.2M1145.8 1867.28H1360.4M1145.8 1920.92H1360.4M1145.8 1974.56H1360.4" stroke="#fff" stroke-opacity=".95" stroke-width="0.9" fill="none"/>
<rect x="1145.8" y="1811.8" width="214.6" height="3.4" fill="#222"/>
<rect x="1139.2" y="1783.02" width="6.2" height="2.6" fill="#000"/>
<text x="1136.8" y="1789.52" font-size="16.5" text-anchor="end">Adult</text>
<rect x="1139.2" y="1838.36" width="6.2" height="2.6" fill="#000"/>
<text x="1136.8" y="1844.86" font-size="16.5" text-anchor="end">15-17</text>
<rect x="1139.2" y="1892.5" width="6.2" height="2.6" fill="#000"/>
<text x="1136.8" y="1899" font-size="16.5" text-anchor="end">12-14</text>
<rect x="1139.2" y="1945.94" width="6.2" height="2.6" fill="#000"/>
<text x="1136.8" y="1952.44" font-size="16.5" text-anchor="end">9-11</text>
<rect x="1139.2" y="1999.48" width="6.2" height="2.6" fill="#000"/>
<text x="1136.8" y="2005.98" font-size="16.5" text-anchor="end">7-8</text>
<rect x="1173.12" y="2029.2" width="2.6" height="5" fill="#000"/>
<text x="1174.42" y="2050.5" font-size="16.5" text-anchor="middle">4</text>
<rect x="1226.78" y="2029.2" width="2.6" height="5" fill="#000"/>
<text x="1228.08" y="2050.5" font-size="16.5" text-anchor="middle">7</text>
<rect x="1280.42" y="2029.2" width="2.6" height="5" fill="#000"/>
<text x="1281.72" y="2050.5" font-size="16.5" text-anchor="middle">12</text>
<rect x="1334.08" y="2029.2" width="2.6" height="5" fill="#000"/>
<text x="1335.38" y="2050.5" font-size="16.5" text-anchor="middle">19</text>
<defs><linearGradient id="gv3" x1="0" y1="0" x2="0" y2="1"><stop offset="0" stop-color="#4a075a"/><stop offset="0.1" stop-color="#4b2b7b"/><stop offset="0.21" stop-color="#404e8c"/><stop offset="0.33" stop-color="#307093"/><stop offset="0.44" stop-color="#238c94"/><stop offset="0.55" stop-color="#22a690"/><stop offset="0.66" stop-color="#42bd83"/><stop offset="0.78" stop-color="#82d065"/><stop offset="0.89" stop-color="#c0db4f"/><stop offset="0.94" stop-color="#e4df4a"/><stop offset="1" stop-color="#fae04b"/></linearGradient></defs>
<rect x="1364.2" y="1792.2" width="7" height="204.3" fill="url(#gv3)"/>
<rect x="1370.7" y="1993.9" width="2.5" height="1" fill="#333"/>
<text x="1373.8" y="2000" font-size="16.5">0</text>
<rect x="1370.7" y="1965.17" width="2.5" height="1" fill="#333"/>
<text x="1373.8" y="1971.27" font-size="16.5">10</text>
<rect x="1370.7" y="1936.44" width="2.5" height="1" fill="#333"/>
<text x="1373.8" y="1942.54" font-size="16.5">20</text>
<rect x="1370.7" y="1907.71" width="2.5" height="1" fill="#333"/>
<text x="1373.8" y="1913.81" font-size="16.5">30</text>
<rect x="1370.7" y="1878.99" width="2.5" height="1" fill="#333"/>
<text x="1373.8" y="1885.09" font-size="16.5">40</text>
<rect x="1370.7" y="1850.26" width="2.5" height="1" fill="#333"/>
<text x="1373.8" y="1856.36" font-size="16.5">50</text>
<rect x="1370.7" y="1821.53" width="2.5" height="1" fill="#333"/>
<text x="1373.8" y="1827.63" font-size="16.5">60</text>
<rect x="1370.7" y="1792.8" width="2.5" height="1" fill="#333"/>
<text x="1373.8" y="1798.9" font-size="16.5">70</text>
<text x="1145.3" y="1754" font-size="19.9" font-weight="bold">Mural cells</text>
<text x="1254.8" y="2070.5" font-size="16.55" text-anchor="middle">Organoid stage (weeks)</text>
<text font-size="16.5" text-anchor="middle" transform="translate(1086.6 1903) rotate(-90)">Prenatal stage (PCW)</text>
<text font-size="17.4" text-anchor="middle" transform="translate(1415.5 1903.7) rotate(-90)">Median prediction probability</text>
<rect x="1527.1" y="1759.9" width="53.98" height="53.86" fill="#f4e04b"/>
<rect x="1580.88" y="1759.9" width="53.98" height="53.86" fill="#fae04b"/>
<rect x="1634.65" y="1759.9" width="53.98" height="53.86" fill="#a6d658"/>
<rect x="1688.42" y="1759.9" width="53.98" height="53.86" fill="#e7df4a"/>
<rect x="1527.1" y="1813.56" width="53.98" height="53.86" fill="#fae04b"/>
<rect x="1580.88" y="1813.56" width="53.98" height="53.86" fill="#fae04b"/>
<rect x="1634.65" y="1813.56" width="53.98" height="53.86" fill="#33b289"/>
<rect x="1688.42" y="1813.56" width="53.98" height="53.86" fill="#288294"/>
<rect x="1527.1" y="1867.22" width="53.98" height="53.86" fill="#fae04b"/>
<rect x="1580.88" y="1867.22" width="53.98" height="53.86" fill="#3a5b8f"/>
<rect x="1634.65" y="1867.22" width="53.98" height="53.86" fill="#a6d658"/>
<rect x="1688.42" y="1867.22" width="53.98" height="53.86" fill="#4a1668"/>
<rect x="1527.1" y="1920.88" width="53.98" height="53.86" fill="#307093"/>
<rect x="1580.88" y="1920.88" width="53.98" height="53.86" fill="#74cc6b"/>
<rect x="1634.65" y="1920.88" width="53.98" height="53.86" fill="#414a8a"/>
<rect x="1688.42" y="1920.88" width="53.98" height="53.86" fill="#fae04b"/>
<rect x="1527.1" y="1974.54" width="53.98" height="53.86" fill="#4a075a"/>
<rect x="1580.88" y="1974.54" width="53.98" height="53.86" fill="#2a7d93"/>
<rect x="1634.65" y="1974.54" width="53.98" height="53.86" fill="#74cc6b"/>
<rect x="1688.42" y="1974.54" width="53.98" height="53.86" fill="#f0e04b"/>
<path d="M1580.88 1759.9V2028.2M1634.65 1759.9V2028.2M1688.42 1759.9V2028.2M1527.1 1867.22H1742.2M1527.1 1920.88H1742.2M1527.1 1974.54H1742.2" stroke="#fff" stroke-opacity=".95" stroke-width="0.9" fill="none"/>
<rect x="1527.1" y="1811.6" width="215.1" height="3.4" fill="#222"/>
<rect x="1520.5" y="1782.93" width="6.2" height="2.6" fill="#000"/>
<text x="1518.1" y="1789.43" font-size="16.5" text-anchor="end">Adult</text>
<rect x="1520.5" y="1838.29" width="6.2" height="2.6" fill="#000"/>
<text x="1518.1" y="1844.79" font-size="16.5" text-anchor="end">15-17</text>
<rect x="1520.5" y="1892.45" width="6.2" height="2.6" fill="#000"/>
<text x="1518.1" y="1898.95" font-size="16.5" text-anchor="end">12-14</text>
<rect x="1520.5" y="1945.91" width="6.2" height="2.6" fill="#000"/>
<text x="1518.1" y="1952.41" font-size="16.5" text-anchor="end">9-11</text>
<rect x="1520.5" y="1999.47" width="6.2" height="2.6" fill="#000"/>
<text x="1518.1" y="2005.97" font-size="16.5" text-anchor="end">7-8</text>
<rect x="1553.19" y="2029.2" width="2.6" height="5" fill="#000"/>
<text x="1554.49" y="2050.5" font-size="16.5" text-anchor="middle">4</text>
<rect x="1606.96" y="2029.2" width="2.6" height="5" fill="#000"/>
<text x="1608.26" y="2050.5" font-size="16.5" text-anchor="middle">7</text>
<rect x="1660.74" y="2029.2" width="2.6" height="5" fill="#000"/>
<text x="1662.04" y="2050.5" font-size="16.5" text-anchor="middle">12</text>
<rect x="1714.51" y="2029.2" width="2.6" height="5" fill="#000"/>
<text x="1715.81" y="2050.5" font-size="16.5" text-anchor="middle">19</text>
<defs><linearGradient id="gv4" x1="0" y1="0" x2="0" y2="1"><stop offset="0" stop-color="#4a075a"/><stop offset="0.1" stop-color="#4b2b7b"/><stop offset="0.21" stop-color="#404e8c"/><stop offset="0.33" stop-color="#307093"/><stop offset="0.44" stop-color="#238c94"/><stop offset="0.55" stop-color="#22a690"/><stop offset="0.66" stop-color="#42bd83"/><stop offset="0.78" stop-color="#82d065"/><stop offset="0.89" stop-color="#c0db4f"/><stop offset="0.94" stop-color="#e4df4a"/><stop offset="1" stop-color="#fae04b"/></linearGradient></defs>
<rect x="1745.3" y="1792.2" width="7" height="204.3" fill="url(#gv4)"/>
<rect x="1751.8" y="1991.8" width="2.5" height="1" fill="#333"/>
<text x="1754.9" y="1997.9" font-size="16.5">0</text>
<rect x="1751.8" y="1956.66" width="2.5" height="1" fill="#333"/>
<text x="1754.9" y="1962.76" font-size="16.5">10</text>
<rect x="1751.8" y="1921.52" width="2.5" height="1" fill="#333"/>
<text x="1754.9" y="1927.62" font-size="16.5">20</text>
<rect x="1751.8" y="1886.38" width="2.5" height="1" fill="#333"/>
<text x="1754.9" y="1892.48" font-size="16.5">30</text>
<rect x="1751.8" y="1851.24" width="2.5" height="1" fill="#333"/>
<text x="1754.9" y="1857.34" font-size="16.5">40</text>
<rect x="1751.8" y="1816.1" width="2.5" height="1" fill="#333"/>
<text x="1754.9" y="1822.2" font-size="16.5">50</text>
<text x="1526.6" y="1754" font-size="19.9" font-weight="bold">Schwann cells</text>
<text x="1637.65" y="2069.5" font-size="16.55" text-anchor="middle">Organoid stage (weeks)</text>
<text font-size="16.5" text-anchor="middle" transform="translate(1466.6 1903) rotate(-90)">Prenatal stage (PCW)</text>
<text font-size="17.4" text-anchor="middle" transform="translate(1798.5 1903.7) rotate(-90)">Median prediction probability</text>
<rect x="767.5" y="2191.6" width="54.25" height="53.82" fill="#98d83e"/>
<rect x="821.55" y="2191.6" width="54.25" height="53.82" fill="#98d83e"/>
<rect x="875.6" y="2191.6" width="54.25" height="53.82" fill="#1f9a8a"/>
<rect x="929.65" y="2191.6" width="54.25" height="53.82" fill="#25ab82"/>
<rect x="767.5" y="2245.22" width="54.25" height="53.82" fill="#b5de2b"/>
<rect x="821.55" y="2245.22" width="54.25" height="53.82" fill="#fde725"/>
<rect x="875.6" y="2245.22" width="54.25" height="53.82" fill="#424186"/>
<rect x="929.65" y="2245.22" width="54.25" height="53.82" fill="#2b758e"/>
<rect x="767.5" y="2298.84" width="54.25" height="53.82" fill="#fde725"/>
<rect x="821.55" y="2298.84" width="54.25" height="53.82" fill="#287c8e"/>
<rect x="875.6" y="2298.84" width="54.25" height="53.82" fill="#fde725"/>
<rect x="929.65" y="2298.84" width="54.25" height="53.82" fill="#56c667"/>
<rect x="767.5" y="2352.46" width="54.25" height="53.82" fill="#56c667"/>
<rect x="821.55" y="2352.46" width="54.25" height="53.82" fill="#98d83e"/>
<rect x="875.6" y="2352.46" width="54.25" height="53.82" fill="#86d549"/>
<rect x="929.65" y="2352.46" width="54.25" height="53.82" fill="#e5e419"/>
<rect x="767.5" y="2406.08" width="54.25" height="53.82" fill="#440154"/>
<rect x="821.55" y="2406.08" width="54.25" height="53.82" fill="#1f9e89"/>
<rect x="875.6" y="2406.08" width="54.25" height="53.82" fill="#a2da37"/>
<rect x="929.65" y="2406.08" width="54.25" height="53.82" fill="#fde725"/>
<path d="M821.55 2191.6V2459.7M875.6 2191.6V2459.7M929.65 2191.6V2459.7M767.5 2298.84H983.7M767.5 2352.46H983.7M767.5 2406.08H983.7" stroke="#fff" stroke-opacity=".95" stroke-width="0.9" fill="none"/>
<rect x="767.5" y="2243.2" width="216.2" height="3.4" fill="#222"/>
<rect x="760.9" y="2214.61" width="6.2" height="2.6" fill="#000"/>
<text x="758.5" y="2221.11" font-size="16.5" text-anchor="end">Adult</text>
<rect x="760.9" y="2269.93" width="6.2" height="2.6" fill="#000"/>
<text x="758.5" y="2276.43" font-size="16.5" text-anchor="end">15-17</text>
<rect x="760.9" y="2324.05" width="6.2" height="2.6" fill="#000"/>
<text x="758.5" y="2330.55" font-size="16.5" text-anchor="end">12-14</text>
<rect x="760.9" y="2377.47" width="6.2" height="2.6" fill="#000"/>
<text x="758.5" y="2383.97" font-size="16.5" text-anchor="end">9-11</text>
<rect x="760.9" y="2430.99" width="6.2" height="2.6" fill="#000"/>
<text x="758.5" y="2437.49" font-size="16.5" text-anchor="end">7-8</text>
<rect x="793.23" y="2460.7" width="2.6" height="5" fill="#000"/>
<text x="794.52" y="2482" font-size="16.5" text-anchor="middle">4</text>
<rect x="847.28" y="2460.7" width="2.6" height="5" fill="#000"/>
<text x="848.58" y="2482" font-size="16.5" text-anchor="middle">7</text>
<rect x="901.33" y="2460.7" width="2.6" height="5" fill="#000"/>
<text x="902.62" y="2482" font-size="16.5" text-anchor="middle">12</text>
<rect x="955.38" y="2460.7" width="2.6" height="5" fill="#000"/>
<text x="956.68" y="2482" font-size="16.5" text-anchor="middle">19</text>
<defs><linearGradient id="gv5" x1="0" y1="0" x2="0" y2="1"><stop offset="0" stop-color="#440154"/><stop offset="0.1" stop-color="#482475"/><stop offset="0.2" stop-color="#414487"/><stop offset="0.3" stop-color="#355f8d"/><stop offset="0.4" stop-color="#2a788e"/><stop offset="0.5" stop-color="#21908d"/><stop offset="0.6" stop-color="#22a884"/><stop offset="0.7" stop-color="#44bf70"/><stop offset="0.8" stop-color="#7ad151"/><stop offset="0.9" stop-color="#bddf26"/><stop offset="1" stop-color="#fde725"/></linearGradient></defs>
<rect x="987.1" y="2223" width="7" height="204.3" fill="url(#gv5)"/>
<rect x="993.6" y="2425" width="2.5" height="1" fill="#333"/>
<text x="996.7" y="2431.1" font-size="16.5">0</text>
<rect x="993.6" y="2396.91" width="2.5" height="1" fill="#333"/>
<text x="996.7" y="2403.01" font-size="16.5">10</text>
<rect x="993.6" y="2368.83" width="2.5" height="1" fill="#333"/>
<text x="996.7" y="2374.93" font-size="16.5">20</text>
<rect x="993.6" y="2340.74" width="2.5" height="1" fill="#333"/>
<text x="996.7" y="2346.84" font-size="16.5">30</text>
<rect x="993.6" y="2312.66" width="2.5" height="1" fill="#333"/>
<text x="996.7" y="2318.76" font-size="16.5">40</text>
<rect x="993.6" y="2284.57" width="2.5" height="1" fill="#333"/>
<text x="996.7" y="2290.67" font-size="16.5">50</text>
<rect x="993.6" y="2256.49" width="2.5" height="1" fill="#333"/>
<text x="996.7" y="2262.59" font-size="16.5">60</text>
<rect x="993.6" y="2228.4" width="2.5" height="1" fill="#333"/>
<text x="996.7" y="2234.5" font-size="16.5">70</text>
<text x="767" y="2187.4" font-size="19.9" font-weight="bold">Keratinocytes</text>
<text x="872.1" y="2505.7" font-size="16.55" text-anchor="middle">Organoid stage (weeks)</text>
<text font-size="16.5" text-anchor="middle" transform="translate(708.3 2334) rotate(-90)">Prenatal stage (PCW)</text>
<text font-size="17.4" text-anchor="middle" transform="translate(1034.6 2323.8) rotate(-90)">Median prediction probability</text>
<rect x="1147.9" y="2191.6" width="53.92" height="53.82" fill="#278494"/>
<rect x="1201.62" y="2191.6" width="53.92" height="53.82" fill="#58c479"/>
<rect x="1255.35" y="2191.6" width="53.92" height="53.82" fill="#4b2677"/>
<rect x="1309.08" y="2191.6" width="53.92" height="53.82" fill="#4b2677"/>
<rect x="1147.9" y="2245.22" width="53.92" height="53.82" fill="#fae04b"/>
<rect x="1201.62" y="2245.22" width="53.92" height="53.82" fill="#d7de4c"/>
<rect x="1255.35" y="2245.22" width="53.92" height="53.82" fill="#b1d854"/>
<rect x="1309.08" y="2245.22" width="53.92" height="53.82" fill="#31b18a"/>
<rect x="1147.9" y="2298.84" width="53.92" height="53.82" fill="#fae04b"/>
<rect x="1201.62" y="2298.84" width="53.92" height="53.82" fill="#2b7a93"/>
<rect x="1255.35" y="2298.84" width="53.92" height="53.82" fill="#fae04b"/>
<rect x="1309.08" y="2298.84" width="53.92" height="53.82" fill="#42bd83"/>
<rect x="1147.9" y="2352.46" width="53.92" height="53.82" fill="#4a0a5d"/>
<rect x="1201.62" y="2352.46" width="53.92" height="53.82" fill="#297f94"/>
<rect x="1255.35" y="2352.46" width="53.92" height="53.82" fill="#278494"/>
<rect x="1309.08" y="2352.46" width="53.92" height="53.82" fill="#a6d658"/>
<rect x="1147.9" y="2406.08" width="53.92" height="53.82" fill="#3cb985"/>
<rect x="1201.62" y="2406.08" width="53.92" height="53.82" fill="#7ace69"/>
<rect x="1255.35" y="2406.08" width="53.92" height="53.82" fill="#7ace69"/>
<rect x="1309.08" y="2406.08" width="53.92" height="53.82" fill="#c9dc4e"/>
<path d="M1201.62 2191.6V2459.7M1255.35 2191.6V2459.7M1309.08 2191.6V2459.7M1147.9 2298.84H1362.8M1147.9 2352.46H1362.8M1147.9 2406.08H1362.8" stroke="#fff" stroke-opacity=".95" stroke-width="0.9" fill="none"/>
<rect x="1147.9" y="2242.8" width="214.9" height="3.4" fill="#222"/>
<rect x="1141.3" y="2214.61" width="6.2" height="2.6" fill="#000"/>
<text x="1138.9" y="2221.11" font-size="16.5" text-anchor="end">Adult</text>
<rect x="1141.3" y="2269.93" width="6.2" height="2.6" fill="#000"/>
<text x="1138.9" y="2276.43" font-size="16.5" text-anchor="end">15-17</text>
<rect x="1141.3" y="2324.05" width="6.2" height="2.6" fill="#000"/>
<text x="1138.9" y="2330.55" font-size="16.5" text-anchor="end">12-14</text>
<rect x="1141.3" y="2377.47" width="6.2" height="2.6" fill="#000"/>
<text x="1138.9" y="2383.97" font-size="16.5" text-anchor="end">9-11</text>
<rect x="1141.3" y="2430.99" width="6.2" height="2.6" fill="#000"/>
<text x="1138.9" y="2437.49" font-size="16.5" text-anchor="end">7-8</text>
<rect x="1173.46" y="2460.7" width="2.6" height="5" fill="#000"/>
<text x="1174.76" y="2482" font-size="16.5" text-anchor="middle">4</text>
<rect x="1227.19" y="2460.7" width="2.6" height="5" fill="#000"/>
<text x="1228.49" y="2482" font-size="16.5" text-anchor="middle">7</text>
<rect x="1280.91" y="2460.7" width="2.6" height="5" fill="#000"/>
<text x="1282.21" y="2482" font-size="16.5" text-anchor="middle">12</text>
<rect x="1334.64" y="2460.7" width="2.6" height="5" fill="#000"/>
<text x="1335.94" y="2482" font-size="16.5" text-anchor="middle">19</text>
<defs><linearGradient id="gv6" x1="0" y1="0" x2="0" y2="1"><stop offset="0" stop-color="#4a075a"/><stop offset="0.1" stop-color="#4b2b7b"/><stop offset="0.21" stop-color="#404e8c"/><stop offset="0.33" stop-color="#307093"/><stop offset="0.44" stop-color="#238c94"/><stop offset="0.55" stop-color="#22a690"/><stop offset="0.66" stop-color="#42bd83"/><stop offset="0.78" stop-color="#82d065"/><stop offset="0.89" stop-color="#c0db4f"/><stop offset="0.94" stop-color="#e4df4a"/><stop offset="1" stop-color="#fae04b"/></linearGradient></defs>
<rect x="1366.3" y="2222.8" width="7" height="204.6" fill="url(#gv6)"/>
<rect x="1372.8" y="2425.5" width="2.5" height="1" fill="#333"/>
<text x="1375.9" y="2431.6" font-size="16.5">0</text>
<rect x="1372.8" y="2385.34" width="2.5" height="1" fill="#333"/>
<text x="1375.9" y="2391.44" font-size="16.5">10</text>
<rect x="1372.8" y="2345.18" width="2.5" height="1" fill="#333"/>
<text x="1375.9" y="2351.28" font-size="16.5">20</text>
<rect x="1372.8" y="2305.02" width="2.5" height="1" fill="#333"/>
<text x="1375.9" y="2311.12" font-size="16.5">30</text>
<rect x="1372.8" y="2264.86" width="2.5" height="1" fill="#333"/>
<text x="1375.9" y="2270.96" font-size="16.5">40</text>
<rect x="1372.8" y="2224.7" width="2.5" height="1" fill="#333"/>
<text x="1375.9" y="2230.8" font-size="16.5">50</text>
<text x="1147.4" y="2187.4" font-size="19.9" font-weight="bold">Melanocytes</text>
<text x="1257.65" y="2505.7" font-size="16.55" text-anchor="middle">Organoid stage (weeks)</text>
<text font-size="16.5" text-anchor="middle" transform="translate(1088.6 2334) rotate(-90)">Prenatal stage (PCW)</text>
<text font-size="17.4" text-anchor="middle" transform="translate(1412 2323.8) rotate(-90)">Median prediction probability</text>
<rect x="1524.3" y="2190.7" width="53.98" height="54" fill="#58c379"/>
<rect x="1578.08" y="2190.7" width="53.98" height="54" fill="#d1dd4d"/>
<rect x="1631.85" y="2190.7" width="53.98" height="54" fill="#b0d855"/>
<rect x="1685.62" y="2190.7" width="53.98" height="54" fill="#d1dd4d"/>
<rect x="1524.3" y="2244.5" width="53.98" height="54" fill="#f0e04b"/>
<rect x="1578.08" y="2244.5" width="53.98" height="54" fill="#b0d855"/>
<rect x="1631.85" y="2244.5" width="53.98" height="54" fill="#89d162"/>
<rect x="1685.62" y="2244.5" width="53.98" height="54" fill="#3eba85"/>
<rect x="1524.3" y="2298.3" width="53.98" height="54" fill="#f7e04b"/>
<rect x="1578.08" y="2298.3" width="53.98" height="54" fill="#4b2070"/>
<rect x="1631.85" y="2298.3" width="53.98" height="54" fill="#eddf4a"/>
<rect x="1685.62" y="2298.3" width="53.98" height="54" fill="#404d8b"/>
<rect x="1524.3" y="2352.1" width="53.98" height="54" fill="#4a075a"/>
<rect x="1578.08" y="2352.1" width="53.98" height="54" fill="#76cc6b"/>
<rect x="1631.85" y="2352.1" width="53.98" height="54" fill="#4b2070"/>
<rect x="1685.62" y="2352.1" width="53.98" height="54" fill="#80cf66"/>
<rect x="1524.3" y="2405.9" width="53.98" height="54" fill="#2faf8b"/>
<rect x="1578.08" y="2405.9" width="53.98" height="54" fill="#6cc96f"/>
<rect x="1631.85" y="2405.9" width="53.98" height="54" fill="#44bd82"/>
<rect x="1685.62" y="2405.9" width="53.98" height="54" fill="#76cc6b"/>
<path d="M1578.08 2190.7V2459.7M1631.85 2190.7V2459.7M1685.62 2190.7V2459.7M1524.3 2298.3H1739.4M1524.3 2352.1H1739.4M1524.3 2405.9H1739.4" stroke="#fff" stroke-opacity=".95" stroke-width="0.9" fill="none"/>
<rect x="1524.3" y="2241.9" width="215.1" height="3.4" fill="#222"/>
<rect x="1517.7" y="2213.8" width="6.2" height="2.6" fill="#000"/>
<text x="1515.3" y="2220.3" font-size="16.5" text-anchor="end">Adult</text>
<rect x="1517.7" y="2269.3" width="6.2" height="2.6" fill="#000"/>
<text x="1515.3" y="2275.8" font-size="16.5" text-anchor="end">15-17</text>
<rect x="1517.7" y="2323.6" width="6.2" height="2.6" fill="#000"/>
<text x="1515.3" y="2330.1" font-size="16.5" text-anchor="end">12-14</text>
<rect x="1517.7" y="2377.2" width="6.2" height="2.6" fill="#000"/>
<text x="1515.3" y="2383.7" font-size="16.5" text-anchor="end">9-11</text>
<rect x="1517.7" y="2430.9" width="6.2" height="2.6" fill="#000"/>
<text x="1515.3" y="2437.4" font-size="16.5" text-anchor="end">7-8</text>
<rect x="1550.39" y="2460.7" width="2.6" height="5" fill="#000"/>
<text x="1551.69" y="2482" font-size="16.5" text-anchor="middle">4</text>
<rect x="1604.16" y="2460.7" width="2.6" height="5" fill="#000"/>
<text x="1605.46" y="2482" font-size="16.5" text-anchor="middle">7</text>
<rect x="1657.94" y="2460.7" width="2.6" height="5" fill="#000"/>
<text x="1659.24" y="2482" font-size="16.5" text-anchor="middle">12</text>
<rect x="1711.71" y="2460.7" width="2.6" height="5" fill="#000"/>
<text x="1713.01" y="2482" font-size="16.5" text-anchor="middle">19</text>
<defs><linearGradient id="gv7" x1="0" y1="0" x2="0" y2="1"><stop offset="0" stop-color="#4a075a"/><stop offset="0.1" stop-color="#4b2b7b"/><stop offset="0.21" stop-color="#404e8c"/><stop offset="0.33" stop-color="#307093"/><stop offset="0.44" stop-color="#238c94"/><stop offset="0.55" stop-color="#22a690"/><stop offset="0.66" stop-color="#42bd83"/><stop offset="0.78" stop-color="#82d065"/><stop offset="0.89" stop-color="#c0db4f"/><stop offset="0.94" stop-color="#e4df4a"/><stop offset="1" stop-color="#fae04b"/></linearGradient></defs>
<rect x="1742.9" y="2222.8" width="6.9" height="204.6" fill="url(#gv7)"/>
<rect x="1749.3" y="2422.7" width="2.5" height="1" fill="#333"/>
<text x="1752.4" y="2428.8" font-size="16.5">0</text>
<rect x="1749.3" y="2387.56" width="2.5" height="1" fill="#333"/>
<text x="1752.4" y="2393.66" font-size="16.5">10</text>
<rect x="1749.3" y="2352.42" width="2.5" height="1" fill="#333"/>
<text x="1752.4" y="2358.52" font-size="16.5">20</text>
<rect x="1749.3" y="2317.28" width="2.5" height="1" fill="#333"/>
<text x="1752.4" y="2323.38" font-size="16.5">30</text>
<rect x="1749.3" y="2282.14" width="2.5" height="1" fill="#333"/>
<text x="1752.4" y="2288.24" font-size="16.5">40</text>
<rect x="1749.3" y="2247" width="2.5" height="1" fill="#333"/>
<text x="1752.4" y="2253.1" font-size="16.5">50</text>
<text x="1523.8" y="2184.8" font-size="19.9" font-weight="bold">Vascular endothelium</text>
<text x="1634.45" y="2503.5" font-size="16.55" text-anchor="middle">Organoid stage (weeks)</text>
<text font-size="16.5" text-anchor="middle" transform="translate(1466.6 2333) rotate(-90)">Prenatal stage (PCW)</text>
<text font-size="17.4" text-anchor="middle" transform="translate(1797 2323.8) rotate(-90)">Median prediction probability</text>
</g>
</svg></body></html>
